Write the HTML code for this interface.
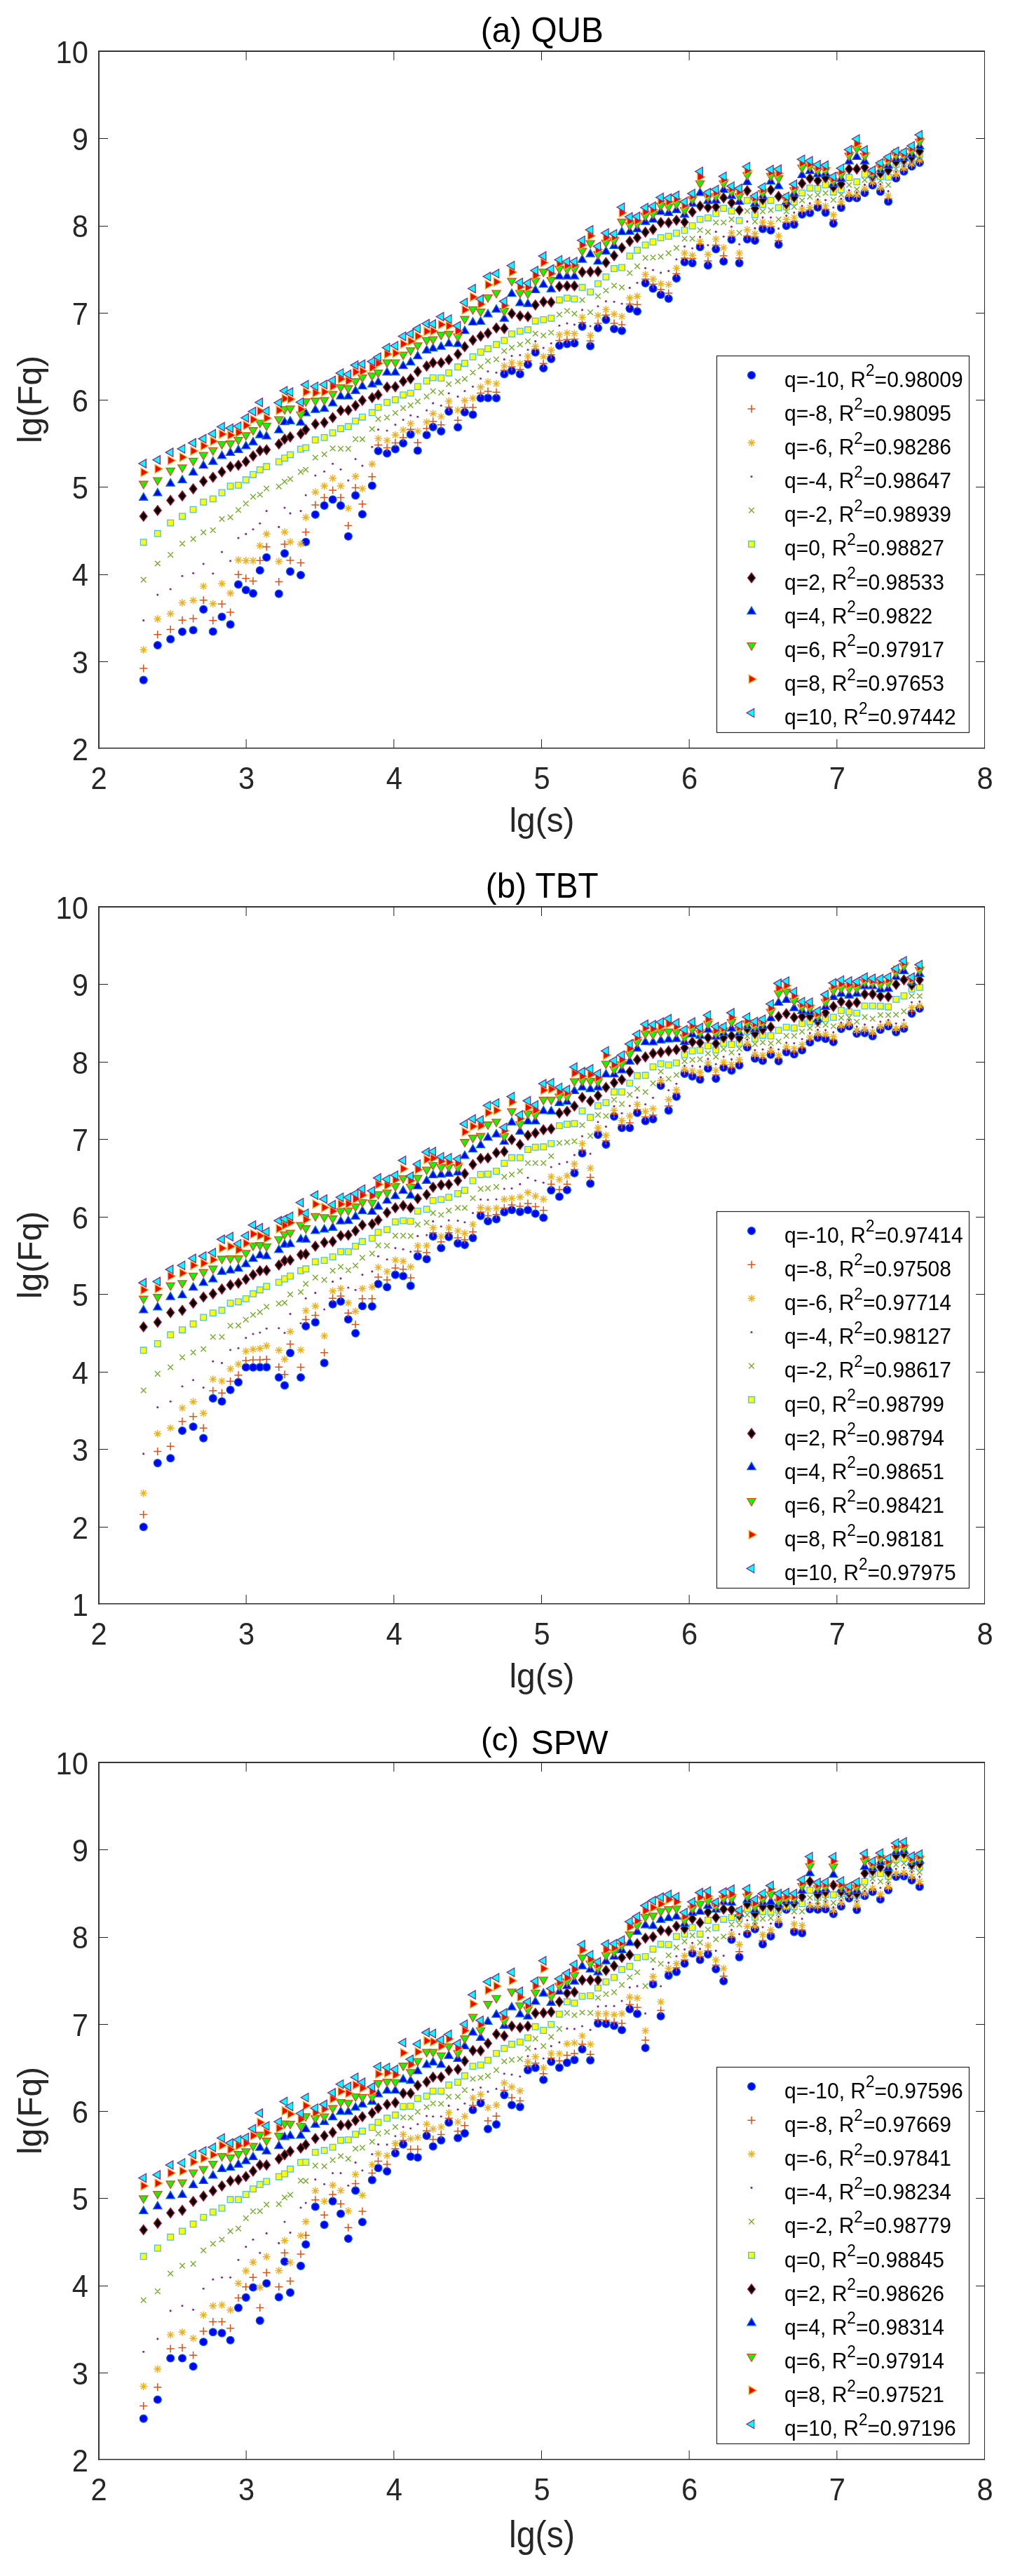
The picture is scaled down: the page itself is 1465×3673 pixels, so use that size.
<!DOCTYPE html><html><head><meta charset="utf-8"><title>MF-DFA scaling plots</title><style>html,body{margin:0;padding:0;background:#fff}svg{display:block;will-change:transform}</style></head><body><svg width="1465" height="3673" viewBox="0 0 1465 3673" font-family='"Liberation Sans", Arial, Helvetica, sans-serif'><rect width="1465" height="3673" fill="#fff"/><g><g fill="#0000ff" stroke="#0060d8" stroke-width="1.2"><circle cx="204.7" cy="969.6" r="5.45"/><circle cx="224.8" cy="920" r="5.45"/><circle cx="243.2" cy="911.4" r="5.45"/><circle cx="260" cy="900.8" r="5.45"/><circle cx="275.6" cy="898.5" r="5.45"/><circle cx="290.2" cy="868.9" r="5.45"/><circle cx="303.8" cy="900.5" r="5.45"/><circle cx="316.5" cy="879.5" r="5.45"/><circle cx="328.6" cy="890.4" r="5.45"/><circle cx="340" cy="833.4" r="5.45"/><circle cx="350.8" cy="841.3" r="5.45"/><circle cx="361" cy="846.1" r="5.45"/><circle cx="370.8" cy="813.2" r="5.45"/><circle cx="380.2" cy="794.7" r="5.45"/><circle cx="397.8" cy="846.6" r="5.45"/><circle cx="406" cy="789.1" r="5.45"/><circle cx="414" cy="814.9" r="5.45"/><circle cx="429" cy="820" r="5.45"/><circle cx="436.2" cy="772.7" r="5.45"/><circle cx="449.8" cy="733.7" r="5.45"/><circle cx="462.6" cy="720.9" r="5.45"/><circle cx="474.6" cy="712.2" r="5.45"/><circle cx="486" cy="720.9" r="5.45"/><circle cx="496.8" cy="764.8" r="5.45"/><circle cx="507.1" cy="706.4" r="5.45"/><circle cx="516.9" cy="733.2" r="5.45"/><circle cx="530.8" cy="692.5" r="5.45"/><circle cx="539.5" cy="643" r="5.45"/><circle cx="552.1" cy="646.5" r="5.45"/><circle cx="563.9" cy="640.4" r="5.45"/><circle cx="575.1" cy="632" r="5.45"/><circle cx="585.7" cy="619.4" r="5.45"/><circle cx="595.8" cy="642.5" r="5.45"/><circle cx="608.6" cy="620.2" r="5.45"/><circle cx="617.7" cy="608.9" r="5.45"/><circle cx="629.2" cy="614.9" r="5.45"/><circle cx="640.2" cy="586.8" r="5.45"/><circle cx="653.1" cy="609.2" r="5.45"/><circle cx="662.9" cy="587.8" r="5.45"/><circle cx="674.5" cy="591.2" r="5.45"/><circle cx="685.6" cy="567.7" r="5.45"/><circle cx="696" cy="567.4" r="5.45"/><circle cx="708" cy="567.6" r="5.45"/><circle cx="719.3" cy="533.4" r="5.45"/><circle cx="730" cy="528.7" r="5.45"/><circle cx="741.8" cy="533.4" r="5.45"/><circle cx="753" cy="519.7" r="5.45"/><circle cx="763.7" cy="502.4" r="5.45"/><circle cx="775.2" cy="525" r="5.45"/><circle cx="786.2" cy="511.8" r="5.45"/><circle cx="797.9" cy="492.7" r="5.45"/><circle cx="808.9" cy="490.5" r="5.45"/><circle cx="819.4" cy="489.5" r="5.45"/><circle cx="830.5" cy="465.6" r="5.45"/><circle cx="842.1" cy="493.4" r="5.45"/><circle cx="853" cy="467.7" r="5.45"/><circle cx="864.4" cy="455.9" r="5.45"/><circle cx="876" cy="469" r="5.45"/><circle cx="887" cy="471.6" r="5.45"/><circle cx="898.3" cy="440.1" r="5.45"/><circle cx="909" cy="444" r="5.45"/><circle cx="920.6" cy="403.8" r="5.45"/><circle cx="931.5" cy="411.5" r="5.45"/><circle cx="942.6" cy="420.2" r="5.45"/><circle cx="953.7" cy="425.8" r="5.45"/><circle cx="964.9" cy="396.9" r="5.45"/><circle cx="976.5" cy="373.7" r="5.45"/><circle cx="987.6" cy="375.1" r="5.45"/><circle cx="998.6" cy="352.2" r="5.45"/><circle cx="1009.9" cy="378.5" r="5.45"/><circle cx="1021.2" cy="355.3" r="5.45"/><circle cx="1032.2" cy="372.7" r="5.45"/><circle cx="1043.5" cy="341.7" r="5.45"/><circle cx="1054.6" cy="375.1" r="5.45"/><circle cx="1065.9" cy="341.1" r="5.45"/><circle cx="1076.9" cy="343" r="5.45"/><circle cx="1088" cy="326.4" r="5.45"/><circle cx="1099.5" cy="328.5" r="5.45"/><circle cx="1110.6" cy="348.8" r="5.45"/><circle cx="1121.7" cy="322" r="5.45"/><circle cx="1132.8" cy="320.1" r="5.45"/><circle cx="1144.1" cy="305.7" r="5.45"/><circle cx="1155.3" cy="303.6" r="5.45"/><circle cx="1166.5" cy="295.7" r="5.45"/><circle cx="1177.6" cy="303.1" r="5.45"/><circle cx="1188.8" cy="318.8" r="5.45"/><circle cx="1199.9" cy="296.1" r="5.45"/><circle cx="1211.2" cy="282.4" r="5.45"/><circle cx="1222.2" cy="282.4" r="5.45"/><circle cx="1233.5" cy="275" r="5.45"/><circle cx="1244.7" cy="264.2" r="5.45"/><circle cx="1255.9" cy="273.3" r="5.45"/><circle cx="1267.1" cy="287.4" r="5.45"/><circle cx="1278.2" cy="254.3" r="5.45"/><circle cx="1289.4" cy="244.4" r="5.45"/><circle cx="1300.6" cy="237.2" r="5.45"/><circle cx="1311.8" cy="231.9" r="5.45"/></g><path fill="none" stroke="#d95319" stroke-width="1.5" d="M199.2 952.9h11M204.7 947.4v11M219.3 904.8h11M224.8 899.3v11M237.7 897.5h11M243.2 892v11M254.5 884.3h11M260 878.8v11M270.1 882h11M275.6 876.5v11M284.7 855.7h11M290.2 850.2v11M298.3 884.8h11M303.8 879.3v11M311 861.3h11M316.5 855.8v11M323.1 872.9h11M328.6 867.4v11M334.5 819.2h11M340 813.7v11M345.3 824.8h11M350.8 819.3v11M355.5 828.4h11M361 822.9v11M365.3 799.2h11M370.8 793.7v11M374.7 779.7h11M380.2 774.2v11M392.3 829.4h11M397.8 823.9v11M400.5 775.9h11M406 770.4v11M408.5 799h11M414 793.5v11M423.5 802.5h11M429 797v11M430.7 758.7h11M436.2 753.2v11M444.3 720.1h11M449.8 714.6v11M457.1 709.6h11M462.6 704.1v11M469.1 699h11M474.6 693.5v11M480.5 709.6h11M486 704.1v11M491.3 749.5h11M496.8 744v11M501.6 695.6h11M507.1 690.1v11M511.4 718.8h11M516.9 713.3v11M525.3 679.8h11M530.8 674.3v11M534 634.6h11M539.5 629.1v11M546.6 638.6h11M552.1 633.1v11M558.4 631.5h11M563.9 626v11M569.6 624.1h11M575.1 618.6v11M580.2 612.3h11M585.7 606.8v11M590.3 631.2h11M595.8 625.7v11M603.1 611h11M608.6 605.5v11M612.2 601h11M617.7 595.5v11M623.7 605.7h11M629.2 600.2v11M634.7 580.5h11M640.2 575v11M647.6 599.3h11M653.1 593.8v11M657.4 580.9h11M662.9 575.4v11M669 580.9h11M674.5 575.4v11M680.1 560.5h11M685.6 555v11M690.5 557.9h11M696 552.4v11M702.5 559.2h11M708 553.7v11M713.8 528.1h11M719.3 522.6v11M724.5 522.9h11M730 517.4v11M736.3 526.8h11M741.8 521.3v11M747.5 514.2h11M753 508.7v11M758.2 497.9h11M763.7 492.4v11M769.7 518.2h11M775.2 512.7v11M780.7 505.8h11M786.2 500.3v11M792.4 485.5h11M797.9 480v11M803.4 484h11M808.9 478.5v11M813.9 483.4h11M819.4 477.9v11M825 459.8h11M830.5 454.3v11M836.6 486.1h11M842.1 480.6v11M847.5 461.1h11M853 455.6v11M858.9 449.3h11M864.4 443.8v11M870.5 461.1h11M876 455.6v11M881.5 462.9h11M887 457.4v11M892.8 433.5h11M898.3 428v11M903.5 434.3h11M909 428.8v11M915.1 398h11M920.6 392.5v11M926 405.3h11M931.5 399.8v11M937.1 412.8h11M942.6 407.3v11M948.2 417.9h11M953.7 412.4v11M959.4 390.3h11M964.9 384.8v11M971 368h11M976.5 362.5v11M982.1 368.8h11M987.6 363.3v11M993.1 348.2h11M998.6 342.7v11M1004.4 371.9h11M1009.9 366.4v11M1015.7 349.6h11M1021.2 344.1v11M1026.7 364.8h11M1032.2 359.3v11M1038 337.2h11M1043.5 331.7v11M1049.1 368h11M1054.6 362.5v11M1060.4 336.4h11M1065.9 330.9v11M1071.4 337.7h11M1076.9 332.2v11M1082.5 322h11M1088 316.5v11M1094 323.3h11M1099.5 317.8v11M1105.1 343h11M1110.6 337.5v11M1116.2 317.2h11M1121.7 311.7v11M1127.3 315.4h11M1132.8 309.9v11M1138.6 301.4h11M1144.1 295.9v11M1149.8 299.6h11M1155.3 294.1v11M1161 291.7h11M1166.5 286.2v11M1172.1 298.6h11M1177.6 293.1v11M1183.3 313.3h11M1188.8 307.8v11M1194.4 292h11M1199.9 286.5v11M1205.7 280h11M1211.2 274.5v11M1216.7 280h11M1222.2 274.5v11M1228 271.7h11M1233.5 266.2v11M1239.2 261.7h11M1244.7 256.2v11M1250.4 270h11M1255.9 264.5v11M1261.6 283.3h11M1267.1 277.8v11M1272.7 251.3h11M1278.2 245.8v11M1283.9 241.9h11M1289.4 236.4v11M1295.1 235.2h11M1300.6 229.7v11M1306.3 230h11M1311.8 224.5v11"/><path fill="none" stroke="#edb120" stroke-width="1.4" d="M199.3 926.6h10.8M204.7 921.2v10.8M200.8 922.7l7.8 7.8M200.8 930.5l7.8-7.8M219.4 882.5h10.8M224.8 877.1v10.8M220.9 878.6l7.8 7.8M220.9 886.4l7.8-7.8M237.8 875.2h10.8M243.2 869.8v10.8M239.3 871.3l7.8 7.8M239.3 879.1l7.8-7.8M254.6 859.5h10.8M260 854.1v10.8M256.1 855.6l7.8 7.8M256.1 863.4l7.8-7.8M270.2 856.2h10.8M275.6 850.8v10.8M271.7 852.3l7.8 7.8M271.7 860.1l7.8-7.8M284.8 835.9h10.8M290.2 830.5v10.8M286.3 832l7.8 7.8M286.3 839.8l7.8-7.8M298.4 860.8h10.8M303.8 855.4v10.8M299.9 856.9l7.8 7.8M299.9 864.7l7.8-7.8M311.1 832.2h10.8M316.5 826.8v10.8M312.6 828.3l7.8 7.8M312.6 836.1l7.8-7.8M323.2 845.8h10.8M328.6 840.4v10.8M324.7 841.9l7.8 7.8M324.7 849.7l7.8-7.8M334.6 798.5h10.8M340 793.1v10.8M336.1 794.6l7.8 7.8M336.1 802.4l7.8-7.8M345.4 799.5h10.8M350.8 794.1v10.8M346.9 795.6l7.8 7.8M346.9 803.4l7.8-7.8M355.6 799.5h10.8M361 794.1v10.8M357.1 795.6l7.8 7.8M357.1 803.4l7.8-7.8M365.4 778.2h10.8M370.8 772.8v10.8M366.9 774.3l7.8 7.8M366.9 782.1l7.8-7.8M374.8 761.3h10.8M380.2 755.9v10.8M376.3 757.4l7.8 7.8M376.3 765.2l7.8-7.8M392.4 800.5h10.8M397.8 795.1v10.8M393.9 796.6l7.8 7.8M393.9 804.4l7.8-7.8M400.6 758.7h10.8M406 753.3v10.8M402.1 754.8l7.8 7.8M402.1 762.6l7.8-7.8M408.6 772.7h10.8M414 767.3v10.8M410.1 768.8l7.8 7.8M410.1 776.6l7.8-7.8M423.6 775.7h10.8M429 770.3v10.8M425.1 771.8l7.8 7.8M425.1 779.6l7.8-7.8M430.8 737.7h10.8M436.2 732.3v10.8M432.3 733.8l7.8 7.8M432.3 741.6l7.8-7.8M444.4 701.7h10.8M449.8 696.3v10.8M445.9 697.8l7.8 7.8M445.9 705.6l7.8-7.8M457.2 693h10.8M462.6 687.6v10.8M458.7 689.1l7.8 7.8M458.7 696.9l7.8-7.8M469.2 682h10.8M474.6 676.6v10.8M470.7 678.1l7.8 7.8M470.7 685.9l7.8-7.8M480.6 693h10.8M486 687.6v10.8M482.1 689.1l7.8 7.8M482.1 696.9l7.8-7.8M491.4 724.8h10.8M496.8 719.4v10.8M492.9 720.9l7.8 7.8M492.9 728.7l7.8-7.8M501.7 679.3h10.8M507.1 673.9v10.8M503.2 675.4l7.8 7.8M503.2 683.2l7.8-7.8M511.5 696.9h10.8M516.9 691.5v10.8M513 693l7.8 7.8M513 700.8l7.8-7.8M525.4 661.7h10.8M530.8 656.3v10.8M526.9 657.8l7.8 7.8M526.9 665.6l7.8-7.8M534.1 625.4h10.8M539.5 620v10.8M535.6 621.5l7.8 7.8M535.6 629.3l7.8-7.8M546.7 628.1h10.8M552.1 622.7v10.8M548.2 624.2l7.8 7.8M548.2 632l7.8-7.8M558.5 620.2h10.8M563.9 614.8v10.8M560 616.3l7.8 7.8M560 624.1l7.8-7.8M569.7 613.1h10.8M575.1 607.7v10.8M571.2 609.2l7.8 7.8M571.2 617l7.8-7.8M580.3 603.9h10.8M585.7 598.5v10.8M581.8 600l7.8 7.8M581.8 607.8l7.8-7.8M590.4 614.9h10.8M595.8 609.5v10.8M591.9 611l7.8 7.8M591.9 618.8l7.8-7.8M603.2 601.8h10.8M608.6 596.4v10.8M604.7 597.9l7.8 7.8M604.7 605.7l7.8-7.8M612.3 589.7h10.8M617.7 584.3v10.8M613.8 585.8l7.8 7.8M613.8 593.6l7.8-7.8M623.8 594.1h10.8M629.2 588.7v10.8M625.3 590.2l7.8 7.8M625.3 598l7.8-7.8M634.8 572h10.8M640.2 566.6v10.8M636.3 568.1l7.8 7.8M636.3 575.9l7.8-7.8M647.7 584.9h10.8M653.1 579.5v10.8M649.2 581l7.8 7.8M649.2 588.8l7.8-7.8M657.5 571.2h10.8M662.9 565.8v10.8M659 567.3l7.8 7.8M659 575.1l7.8-7.8M669.1 567.8h10.8M674.5 562.4v10.8M670.6 563.9l7.8 7.8M670.6 571.7l7.8-7.8M680.2 551.8h10.8M685.6 546.4v10.8M681.7 547.9l7.8 7.8M681.7 555.7l7.8-7.8M690.6 544.6h10.8M696 539.2v10.8M692.1 540.7l7.8 7.8M692.1 548.5l7.8-7.8M702.6 547.1h10.8M708 541.7v10.8M704.1 543.2l7.8 7.8M704.1 551l7.8-7.8M713.9 521.6h10.8M719.3 516.2v10.8M715.4 517.7l7.8 7.8M715.4 525.5l7.8-7.8M724.6 517.1h10.8M730 511.7v10.8M726.1 513.2l7.8 7.8M726.1 521l7.8-7.8M736.4 518.4h10.8M741.8 513v10.8M737.9 514.5l7.8 7.8M737.9 522.3l7.8-7.8M747.6 507.9h10.8M753 502.5v10.8M749.1 504l7.8 7.8M749.1 511.8l7.8-7.8M758.3 494h10.8M763.7 488.6v10.8M759.8 490.1l7.8 7.8M759.8 497.9l7.8-7.8M769.8 508.4h10.8M775.2 503v10.8M771.3 504.5l7.8 7.8M771.3 512.3l7.8-7.8M780.8 499.2h10.8M786.2 493.8v10.8M782.3 495.3l7.8 7.8M782.3 503.1l7.8-7.8M792.5 477.4h10.8M797.9 472v10.8M794 473.5l7.8 7.8M794 481.3l7.8-7.8M803.5 475h10.8M808.9 469.6v10.8M805 471.1l7.8 7.8M805 478.9l7.8-7.8M814 475.6h10.8M819.4 470.2v10.8M815.5 471.7l7.8 7.8M815.5 479.5l7.8-7.8M825.1 452.4h10.8M830.5 447v10.8M826.6 448.5l7.8 7.8M826.6 456.3l7.8-7.8M836.7 478.2h10.8M842.1 472.8v10.8M838.2 474.3l7.8 7.8M838.2 482.1l7.8-7.8M847.6 449.8h10.8M853 444.4v10.8M849.1 445.9l7.8 7.8M849.1 453.7l7.8-7.8M859 441.4h10.8M864.4 436v10.8M860.5 437.5l7.8 7.8M860.5 445.3l7.8-7.8M870.6 448h10.8M876 442.6v10.8M872.1 444.1l7.8 7.8M872.1 451.9l7.8-7.8M881.6 451.4h10.8M887 446v10.8M883.1 447.5l7.8 7.8M883.1 455.3l7.8-7.8M892.9 424.8h10.8M898.3 419.4v10.8M894.4 420.9l7.8 7.8M894.4 428.7l7.8-7.8M903.6 422.5h10.8M909 417.1v10.8M905.1 418.6l7.8 7.8M905.1 426.4l7.8-7.8M915.2 391.4h10.8M920.6 386v10.8M916.7 387.5l7.8 7.8M916.7 395.3l7.8-7.8M926.1 398h10.8M931.5 392.6v10.8M927.6 394.1l7.8 7.8M927.6 401.9l7.8-7.8M937.2 404.7h10.8M942.6 399.3v10.8M938.7 400.8l7.8 7.8M938.7 408.6l7.8-7.8M948.3 405.6h10.8M953.7 400.2v10.8M949.8 401.7l7.8 7.8M949.8 409.5l7.8-7.8M959.5 382.4h10.8M964.9 377v10.8M961 378.5l7.8 7.8M961 386.3l7.8-7.8M971.1 360.9h10.8M976.5 355.5v10.8M972.6 357l7.8 7.8M972.6 364.8l7.8-7.8M982.2 364h10.8M987.6 358.6v10.8M983.7 360.1l7.8 7.8M983.7 367.9l7.8-7.8M993.2 344.3h10.8M998.6 338.9v10.8M994.7 340.4l7.8 7.8M994.7 348.2l7.8-7.8M1004.5 362.7h10.8M1009.9 357.3v10.8M1006 358.8l7.8 7.8M1006 366.6l7.8-7.8M1015.8 340.9h10.8M1021.2 335.5v10.8M1017.3 337l7.8 7.8M1017.3 344.8l7.8-7.8M1026.8 353.5h10.8M1032.2 348.1v10.8M1028.3 349.6l7.8 7.8M1028.3 357.4l7.8-7.8M1038.1 331.9h10.8M1043.5 326.5v10.8M1039.6 328l7.8 7.8M1039.6 335.8l7.8-7.8M1049.2 360.9h10.8M1054.6 355.5v10.8M1050.7 357l7.8 7.8M1050.7 364.8l7.8-7.8M1060.5 327.7h10.8M1065.9 322.3v10.8M1062 323.8l7.8 7.8M1062 331.6l7.8-7.8M1071.5 333.3h10.8M1076.9 327.9v10.8M1073 329.4l7.8 7.8M1073 337.2l7.8-7.8M1082.6 316.7h10.8M1088 311.3v10.8M1084.1 312.8l7.8 7.8M1084.1 320.6l7.8-7.8M1094.1 318.5h10.8M1099.5 313.1v10.8M1095.6 314.6l7.8 7.8M1095.6 322.4l7.8-7.8M1105.2 336.4h10.8M1110.6 331v10.8M1106.7 332.5l7.8 7.8M1106.7 340.3l7.8-7.8M1116.3 312.8h10.8M1121.7 307.4v10.8M1117.8 308.9l7.8 7.8M1117.8 316.7l7.8-7.8M1127.4 310.1h10.8M1132.8 304.7v10.8M1128.9 306.2l7.8 7.8M1128.9 314l7.8-7.8M1138.7 298.3h10.8M1144.1 292.9v10.8M1140.2 294.4l7.8 7.8M1140.2 302.2l7.8-7.8M1149.9 295.7h10.8M1155.3 290.3v10.8M1151.4 291.8l7.8 7.8M1151.4 299.6l7.8-7.8M1161.1 288.3h10.8M1166.5 282.9v10.8M1162.6 284.4l7.8 7.8M1162.6 292.2l7.8-7.8M1172.2 293.6h10.8M1177.6 288.2v10.8M1173.7 289.7l7.8 7.8M1173.7 297.5l7.8-7.8M1183.4 306.3h10.8M1188.8 300.9v10.8M1184.9 302.4l7.8 7.8M1184.9 310.2l7.8-7.8M1194.5 288h10.8M1199.9 282.6v10.8M1196 284.1l7.8 7.8M1196 291.9l7.8-7.8M1205.8 276.6h10.8M1211.2 271.2v10.8M1207.3 272.7l7.8 7.8M1207.3 280.5l7.8-7.8M1216.8 277.8h10.8M1222.2 272.4v10.8M1218.3 273.9l7.8 7.8M1218.3 281.7l7.8-7.8M1228.1 268.9h10.8M1233.5 263.5v10.8M1229.6 265l7.8 7.8M1229.6 272.8l7.8-7.8M1239.3 260.1h10.8M1244.7 254.7v10.8M1240.8 256.2l7.8 7.8M1240.8 264l7.8-7.8M1250.5 267.5h10.8M1255.9 262.1v10.8M1252 263.6l7.8 7.8M1252 271.4l7.8-7.8M1261.7 279.1h10.8M1267.1 273.7v10.8M1263.2 275.2l7.8 7.8M1263.2 283l7.8-7.8M1272.8 248.8h10.8M1278.2 243.4v10.8M1274.3 244.9l7.8 7.8M1274.3 252.7l7.8-7.8M1284 240.2h10.8M1289.4 234.8v10.8M1285.5 236.3l7.8 7.8M1285.5 244.1l7.8-7.8M1295.2 233.9h10.8M1300.6 228.5v10.8M1296.7 230l7.8 7.8M1296.7 237.8l7.8-7.8M1306.4 228.6h10.8M1311.8 223.2v10.8M1307.9 224.7l7.8 7.8M1307.9 232.5l7.8-7.8"/><g fill="#7e2f8e"><circle cx="204.7" cy="884.6" r="1.55"/><circle cx="224.8" cy="848.1" r="1.55"/><circle cx="243.2" cy="840" r="1.55"/><circle cx="260" cy="821.3" r="1.55"/><circle cx="275.6" cy="817.2" r="1.55"/><circle cx="290.2" cy="804" r="1.55"/><circle cx="303.8" cy="817.7" r="1.55"/><circle cx="316.5" cy="787.1" r="1.55"/><circle cx="328.6" cy="799.8" r="1.55"/><circle cx="340" cy="767.1" r="1.55"/><circle cx="350.8" cy="761.4" r="1.55"/><circle cx="361" cy="754.7" r="1.55"/><circle cx="370.8" cy="746.3" r="1.55"/><circle cx="380.2" cy="728.6" r="1.55"/><circle cx="397.8" cy="751.4" r="1.55"/><circle cx="406" cy="724" r="1.55"/><circle cx="414" cy="731.9" r="1.55"/><circle cx="429" cy="728.6" r="1.55"/><circle cx="436.2" cy="706" r="1.55"/><circle cx="449.8" cy="678" r="1.55"/><circle cx="462.6" cy="672.2" r="1.55"/><circle cx="474.6" cy="661.2" r="1.55"/><circle cx="486" cy="669.3" r="1.55"/><circle cx="496.8" cy="685.1" r="1.55"/><circle cx="507.1" cy="654.6" r="1.55"/><circle cx="516.9" cy="664.1" r="1.55"/><circle cx="530.8" cy="637.3" r="1.55"/><circle cx="539.5" cy="612.5" r="1.55"/><circle cx="552.1" cy="614" r="1.55"/><circle cx="563.9" cy="605.6" r="1.55"/><circle cx="575.1" cy="598.5" r="1.55"/><circle cx="585.7" cy="592.2" r="1.55"/><circle cx="595.8" cy="594.3" r="1.55"/><circle cx="608.6" cy="585.1" r="1.55"/><circle cx="617.7" cy="574.9" r="1.55"/><circle cx="629.2" cy="578.3" r="1.55"/><circle cx="640.2" cy="560.7" r="1.55"/><circle cx="653.1" cy="565.4" r="1.55"/><circle cx="662.9" cy="557.5" r="1.55"/><circle cx="674.5" cy="551.2" r="1.55"/><circle cx="685.6" cy="539.7" r="1.55"/><circle cx="696" cy="529.6" r="1.55"/><circle cx="708" cy="531.3" r="1.55"/><circle cx="719.3" cy="512.4" r="1.55"/><circle cx="730" cy="507.6" r="1.55"/><circle cx="741.8" cy="506.3" r="1.55"/><circle cx="753" cy="498.7" r="1.55"/><circle cx="763.7" cy="486.6" r="1.55"/><circle cx="775.2" cy="496.1" r="1.55"/><circle cx="786.2" cy="489.5" r="1.55"/><circle cx="797.9" cy="464.3" r="1.55"/><circle cx="808.9" cy="461.1" r="1.55"/><circle cx="819.4" cy="462.9" r="1.55"/><circle cx="830.5" cy="441.9" r="1.55"/><circle cx="842.1" cy="465" r="1.55"/><circle cx="853" cy="436.7" r="1.55"/><circle cx="864.4" cy="429.6" r="1.55"/><circle cx="876" cy="430.3" r="1.55"/><circle cx="887" cy="433" r="1.55"/><circle cx="898.3" cy="410.4" r="1.55"/><circle cx="909" cy="403.3" r="1.55"/><circle cx="920.6" cy="382.2" r="1.55"/><circle cx="931.5" cy="385" r="1.55"/><circle cx="942.6" cy="388.9" r="1.55"/><circle cx="953.7" cy="386.4" r="1.55"/><circle cx="964.9" cy="369.8" r="1.55"/><circle cx="976.5" cy="351.4" r="1.55"/><circle cx="987.6" cy="354" r="1.55"/><circle cx="998.6" cy="337.7" r="1.55"/><circle cx="1009.9" cy="349.6" r="1.55"/><circle cx="1021.2" cy="330.4" r="1.55"/><circle cx="1032.2" cy="337.2" r="1.55"/><circle cx="1043.5" cy="323.3" r="1.55"/><circle cx="1054.6" cy="348.2" r="1.55"/><circle cx="1065.9" cy="315.9" r="1.55"/><circle cx="1076.9" cy="325.4" r="1.55"/><circle cx="1088" cy="310.1" r="1.55"/><circle cx="1099.5" cy="310.1" r="1.55"/><circle cx="1110.6" cy="325.9" r="1.55"/><circle cx="1121.7" cy="307.5" r="1.55"/><circle cx="1132.8" cy="303" r="1.55"/><circle cx="1144.1" cy="293.6" r="1.55"/><circle cx="1155.3" cy="289.9" r="1.55"/><circle cx="1166.5" cy="284.4" r="1.55"/><circle cx="1177.6" cy="285.3" r="1.55"/><circle cx="1188.8" cy="295.9" r="1.55"/><circle cx="1199.9" cy="283.4" r="1.55"/><circle cx="1211.2" cy="271.2" r="1.55"/><circle cx="1222.2" cy="274.5" r="1.55"/><circle cx="1233.5" cy="263.4" r="1.55"/><circle cx="1244.7" cy="257.3" r="1.55"/><circle cx="1255.9" cy="262.6" r="1.55"/><circle cx="1267.1" cy="272.5" r="1.55"/><circle cx="1278.2" cy="244.7" r="1.55"/><circle cx="1289.4" cy="236.9" r="1.55"/><circle cx="1300.6" cy="231.1" r="1.55"/><circle cx="1311.8" cy="225.3" r="1.55"/></g><path fill="none" stroke="#77ac30" stroke-width="1.4" d="M200.9 822.8l7.6 7.6M200.9 830.4l7.6-7.6M221 799.7l7.6 7.6M221 807.3l7.6-7.6M239.4 787.3l7.6 7.6M239.4 794.9l7.6-7.6M256.2 771.3l7.6 7.6M256.2 778.9l7.6-7.6M271.8 764.7l7.6 7.6M271.8 772.3l7.6-7.6M286.4 755.3l7.6 7.6M286.4 762.9l7.6-7.6M300 752.2l7.6 7.6M300 759.8l7.6-7.6M312.7 736.2l7.6 7.6M312.7 743.8l7.6-7.6M324.8 733.7l7.6 7.6M324.8 741.3l7.6-7.6M336.2 723.5l7.6 7.6M336.2 731.1l7.6-7.6M347 714.2l7.6 7.6M347 721.8l7.6-7.6M357.2 704.6l7.6 7.6M357.2 712.2l7.6-7.6M367 701.5l7.6 7.6M367 709.1l7.6-7.6M376.4 692.7l7.6 7.6M376.4 700.3l7.6-7.6M394 689.9l7.6 7.6M394 697.5l7.6-7.6M402.2 683l7.6 7.6M402.2 690.6l7.6-7.6M410.2 679.2l7.6 7.6M410.2 686.8l7.6-7.6M425.2 669.1l7.6 7.6M425.2 676.7l7.6-7.6M432.4 665.9l7.6 7.6M432.4 673.5l7.6-7.6M446 648.7l7.6 7.6M446 656.3l7.6-7.6M458.8 644l7.6 7.6M458.8 651.6l7.6-7.6M470.8 635.6l7.6 7.6M470.8 643.2l7.6-7.6M482.2 636.1l7.6 7.6M482.2 643.7l7.6-7.6M493 636.1l7.6 7.6M493 643.7l7.6-7.6M503.3 622.3l7.6 7.6M503.3 629.9l7.6-7.6M513.1 622.5l7.6 7.6M513.1 630.1l7.6-7.6M527 607.9l7.6 7.6M527 615.5l7.6-7.6M535.7 593.7l7.6 7.6M535.7 601.3l7.6-7.6M548.3 591.6l7.6 7.6M548.3 599.2l7.6-7.6M560.1 585l7.6 7.6M560.1 592.6l7.6-7.6M571.3 578.2l7.6 7.6M571.3 585.8l7.6-7.6M581.9 574.1l7.6 7.6M581.9 581.7l7.6-7.6M592 568.6l7.6 7.6M592 576.2l7.6-7.6M604.8 561.6l7.6 7.6M604.8 569.2l7.6-7.6M613.9 553.9l7.6 7.6M613.9 561.5l7.6-7.6M625.4 556.1l7.6 7.6M625.4 563.7l7.6-7.6M636.4 543.9l7.6 7.6M636.4 551.5l7.6-7.6M649.3 539.9l7.6 7.6M649.3 547.5l7.6-7.6M659.1 536.4l7.6 7.6M659.1 544l7.6-7.6M670.7 527.4l7.6 7.6M670.7 535l7.6-7.6M681.8 518.9l7.6 7.6M681.8 526.5l7.6-7.6M692.2 511l7.6 7.6M692.2 518.6l7.6-7.6M704.2 508.6l7.6 7.6M704.2 516.2l7.6-7.6M715.5 496.7l7.6 7.6M715.5 504.3l7.6-7.6M726.2 492l7.6 7.6M726.2 499.6l7.6-7.6M738 487.5l7.6 7.6M738 495.1l7.6-7.6M749.2 482.8l7.6 7.6M749.2 490.4l7.6-7.6M759.9 471.8l7.6 7.6M759.9 479.4l7.6-7.6M771.4 474.4l7.6 7.6M771.4 482l7.6-7.6M782.4 470.5l7.6 7.6M782.4 478.1l7.6-7.6M794.1 444.7l7.6 7.6M794.1 452.3l7.6-7.6M805.1 439.4l7.6 7.6M805.1 447l7.6-7.6M815.6 443.4l7.6 7.6M815.6 451l7.6-7.6M826.7 423.9l7.6 7.6M826.7 431.5l7.6-7.6M838.3 441.5l7.6 7.6M838.3 449.1l7.6-7.6M849.2 418.4l7.6 7.6M849.2 426l7.6-7.6M860.6 410.5l7.6 7.6M860.6 418.1l7.6-7.6M872.2 403.4l7.6 7.6M872.2 411l7.6-7.6M883.2 406l7.6 7.6M883.2 413.6l7.6-7.6M894.5 385.5l7.6 7.6M894.5 393.1l7.6-7.6M905.2 375.8l7.6 7.6M905.2 383.4l7.6-7.6M916.8 364l7.6 7.6M916.8 371.6l7.6-7.6M927.7 363.3l7.6 7.6M927.7 370.9l7.6-7.6M938.8 362.1l7.6 7.6M938.8 369.7l7.6-7.6M949.9 357.1l7.6 7.6M949.9 364.7l7.6-7.6M961.1 349.7l7.6 7.6M961.1 357.3l7.6-7.6M972.7 336.6l7.6 7.6M972.7 344.2l7.6-7.6M983.8 336.6l7.6 7.6M983.8 344.2l7.6-7.6M994.8 324.2l7.6 7.6M994.8 331.8l7.6-7.6M1006.1 326.8l7.6 7.6M1006.1 334.4l7.6-7.6M1017.4 313.4l7.6 7.6M1017.4 321l7.6-7.6M1028.4 313.4l7.6 7.6M1028.4 321l7.6-7.6M1039.7 309l7.6 7.6M1039.7 316.6l7.6-7.6M1050.8 328.1l7.6 7.6M1050.8 335.7l7.6-7.6M1062.1 297.1l7.6 7.6M1062.1 304.7l7.6-7.6M1073.1 312.1l7.6 7.6M1073.1 319.7l7.6-7.6M1084.2 297.6l7.6 7.6M1084.2 305.2l7.6-7.6M1095.7 295.8l7.6 7.6M1095.7 303.4l7.6-7.6M1106.8 309l7.6 7.6M1106.8 316.6l7.6-7.6M1117.9 297.6l7.6 7.6M1117.9 305.2l7.6-7.6M1129 291.1l7.6 7.6M1129 298.7l7.6-7.6M1140.3 281.9l7.6 7.6M1140.3 289.5l7.6-7.6M1151.5 276.6l7.6 7.6M1151.5 284.2l7.6-7.6M1162.7 274l7.6 7.6M1162.7 281.6l7.6-7.6M1173.8 271.4l7.6 7.6M1173.8 279l7.6-7.6M1185 281.2l7.6 7.6M1185 288.8l7.6-7.6M1196.1 273.8l7.6 7.6M1196.1 281.4l7.6-7.6M1207.4 259.9l7.6 7.6M1207.4 267.5l7.6-7.6M1218.4 266.2l7.6 7.6M1218.4 273.8l7.6-7.6M1229.7 253l7.6 7.6M1229.7 260.6l7.6-7.6M1240.9 250.5l7.6 7.6M1240.9 258.1l7.6-7.6M1252.1 253.8l7.6 7.6M1252.1 261.4l7.6-7.6M1263.3 259.9l7.6 7.6M1263.3 267.5l7.6-7.6M1274.4 236.9l7.6 7.6M1274.4 244.5l7.6-7.6M1285.6 229.8l7.6 7.6M1285.6 237.4l7.6-7.6M1296.8 224l7.6 7.6M1296.8 231.6l7.6-7.6M1308 219l7.6 7.6M1308 226.6l7.6-7.6"/><g fill="#ffff00" stroke="#4dbeee" stroke-width="1.3"><path d="M200.4 768.9h8.6v8.6h-8.6z"/><path d="M220.5 756.5h8.6v8.6h-8.6z"/><path d="M238.9 741.3h8.6v8.6h-8.6z"/><path d="M255.7 731.9h8.6v8.6h-8.6z"/><path d="M271.3 722.3h8.6v8.6h-8.6z"/><path d="M285.9 711.6h8.6v8.6h-8.6z"/><path d="M299.5 707.1h8.6v8.6h-8.6z"/><path d="M312.2 698.2h8.6v8.6h-8.6z"/><path d="M324.3 688.9h8.6v8.6h-8.6z"/><path d="M335.7 687.6h8.6v8.6h-8.6z"/><path d="M346.5 680h8.6v8.6h-8.6z"/><path d="M356.7 672.4h8.6v8.6h-8.6z"/><path d="M366.5 665.6h8.6v8.6h-8.6z"/><path d="M375.9 661h8.6v8.6h-8.6z"/><path d="M393.5 654.2h8.6v8.6h-8.6z"/><path d="M401.7 648.9h8.6v8.6h-8.6z"/><path d="M409.7 644.1h8.6v8.6h-8.6z"/><path d="M424.7 636.2h8.6v8.6h-8.6z"/><path d="M431.9 634.1h8.6v8.6h-8.6z"/><path d="M445.5 623h8.6v8.6h-8.6z"/><path d="M458.3 619.6h8.6v8.6h-8.6z"/><path d="M470.3 612.9h8.6v8.6h-8.6z"/><path d="M481.7 606.9h8.6v8.6h-8.6z"/><path d="M492.5 604h8.6v8.6h-8.6z"/><path d="M502.8 596.1h8.6v8.6h-8.6z"/><path d="M512.6 590.4h8.6v8.6h-8.6z"/><path d="M526.5 584h8.6v8.6h-8.6z"/><path d="M535.2 576.6h8.6v8.6h-8.6z"/><path d="M547.8 569.5h8.6v8.6h-8.6z"/><path d="M559.6 565.7h8.6v8.6h-8.6z"/><path d="M570.8 558.9h8.6v8.6h-8.6z"/><path d="M581.4 556.3h8.6v8.6h-8.6z"/><path d="M591.5 546.9h8.6v8.6h-8.6z"/><path d="M604.3 539h8.6v8.6h-8.6z"/><path d="M613.4 534.3h8.6v8.6h-8.6z"/><path d="M624.9 534.7h8.6v8.6h-8.6z"/><path d="M635.9 527.4h8.6v8.6h-8.6z"/><path d="M648.8 519h8.6v8.6h-8.6z"/><path d="M658.6 513.7h8.6v8.6h-8.6z"/><path d="M670.2 504.5h8.6v8.6h-8.6z"/><path d="M681.3 497.7h8.6v8.6h-8.6z"/><path d="M691.7 492.9h8.6v8.6h-8.6z"/><path d="M703.7 487h8.6v8.6h-8.6z"/><path d="M715 481.2h8.6v8.6h-8.6z"/><path d="M725.7 471.8h8.6v8.6h-8.6z"/><path d="M737.5 468.1h8.6v8.6h-8.6z"/><path d="M748.7 466h8.6v8.6h-8.6z"/><path d="M759.4 453.4h8.6v8.6h-8.6z"/><path d="M770.9 451.6h8.6v8.6h-8.6z"/><path d="M781.9 449.4h8.6v8.6h-8.6z"/><path d="M793.6 423.4h8.6v8.6h-8.6z"/><path d="M804.6 420.8h8.6v8.6h-8.6z"/><path d="M815.1 422.1h8.6v8.6h-8.6z"/><path d="M826.2 405.5h8.6v8.6h-8.6z"/><path d="M837.8 412.1h8.6v8.6h-8.6z"/><path d="M848.7 400.3h8.6v8.6h-8.6z"/><path d="M860.1 390.6h8.6v8.6h-8.6z"/><path d="M871.7 378.7h8.6v8.6h-8.6z"/><path d="M882.7 377.2h8.6v8.6h-8.6z"/><path d="M894 360.8h8.6v8.6h-8.6z"/><path d="M904.7 352.4h8.6v8.6h-8.6z"/><path d="M916.3 345.1h8.6v8.6h-8.6z"/><path d="M927.2 340.7h8.6v8.6h-8.6z"/><path d="M938.3 334.7h8.6v8.6h-8.6z"/><path d="M949.4 332.6h8.6v8.6h-8.6z"/><path d="M960.6 328.2h8.6v8.6h-8.6z"/><path d="M972.2 324.2h8.6v8.6h-8.6z"/><path d="M983.3 317.7h8.6v8.6h-8.6z"/><path d="M994.3 308.5h8.6v8.6h-8.6z"/><path d="M1005.6 306.4h8.6v8.6h-8.6z"/><path d="M1016.9 300h8.6v8.6h-8.6z"/><path d="M1027.9 292.7h8.6v8.6h-8.6z"/><path d="M1039.2 296.6h8.6v8.6h-8.6z"/><path d="M1050.3 310.3h8.6v8.6h-8.6z"/><path d="M1061.6 281.6h8.6v8.6h-8.6z"/><path d="M1072.6 301.9h8.6v8.6h-8.6z"/><path d="M1083.7 287.4h8.6v8.6h-8.6z"/><path d="M1095.2 281.4h8.6v8.6h-8.6z"/><path d="M1106.3 291.9h8.6v8.6h-8.6z"/><path d="M1117.4 290.6h8.6v8.6h-8.6z"/><path d="M1128.5 283.5h8.6v8.6h-8.6z"/><path d="M1139.8 270.9h8.6v8.6h-8.6z"/><path d="M1151 263.8h8.6v8.6h-8.6z"/><path d="M1162.2 264.3h8.6v8.6h-8.6z"/><path d="M1173.3 259.2h8.6v8.6h-8.6z"/><path d="M1184.5 269.4h8.6v8.6h-8.6z"/><path d="M1195.6 266.1h8.6v8.6h-8.6z"/><path d="M1206.9 248.7h8.6v8.6h-8.6z"/><path d="M1217.9 255h8.6v8.6h-8.6z"/><path d="M1229.2 244.2h8.6v8.6h-8.6z"/><path d="M1240.4 248h8.6v8.6h-8.6z"/><path d="M1251.6 247.5h8.6v8.6h-8.6z"/><path d="M1262.8 248.3h8.6v8.6h-8.6z"/><path d="M1273.9 230.1h8.6v8.6h-8.6z"/><path d="M1285.1 225.2h8.6v8.6h-8.6z"/><path d="M1296.3 221h8.6v8.6h-8.6z"/><path d="M1307.5 215.2h8.6v8.6h-8.6z"/></g><g fill="#000" stroke="#a2142f" stroke-width="1.3"><path d="M204.7 729.1l5.4 7.1-5.4 7.1-5.4-7.1z"/><path d="M224.8 720.7l5.4 7.1-5.4 7.1-5.4-7.1z"/><path d="M243.2 706.3l5.4 7.1-5.4 7.1-5.4-7.1z"/><path d="M260 700l5.4 7.1-5.4 7.1-5.4-7.1z"/><path d="M275.6 689.9l5.4 7.1-5.4 7.1-5.4-7.1z"/><path d="M290.2 679.2l5.4 7.1-5.4 7.1-5.4-7.1z"/><path d="M303.8 673.4l5.4 7.1-5.4 7.1-5.4-7.1z"/><path d="M316.5 665.8l5.4 7.1-5.4 7.1-5.4-7.1z"/><path d="M328.6 658.2l5.4 7.1-5.4 7.1-5.4-7.1z"/><path d="M340 656.2l5.4 7.1-5.4 7.1-5.4-7.1z"/><path d="M350.8 651.1l5.4 7.1-5.4 7.1-5.4-7.1z"/><path d="M361 643l5.4 7.1-5.4 7.1-5.4-7.1z"/><path d="M370.8 635.4l5.4 7.1-5.4 7.1-5.4-7.1z"/><path d="M380.2 634.2l5.4 7.1-5.4 7.1-5.4-7.1z"/><path d="M397.8 626.1l5.4 7.1-5.4 7.1-5.4-7.1z"/><path d="M406 619l5.4 7.1-5.4 7.1-5.4-7.1z"/><path d="M414 615.9l5.4 7.1-5.4 7.1-5.4-7.1z"/><path d="M429 611.4l5.4 7.1-5.4 7.1-5.4-7.1z"/><path d="M436.2 605.4l5.4 7.1-5.4 7.1-5.4-7.1z"/><path d="M449.8 597.5l5.4 7.1-5.4 7.1-5.4-7.1z"/><path d="M462.6 595.4l5.4 7.1-5.4 7.1-5.4-7.1z"/><path d="M474.6 588.3l5.4 7.1-5.4 7.1-5.4-7.1z"/><path d="M486 578.3l5.4 7.1-5.4 7.1-5.4-7.1z"/><path d="M496.8 577.8l5.4 7.1-5.4 7.1-5.4-7.1z"/><path d="M507.1 571.2l5.4 7.1-5.4 7.1-5.4-7.1z"/><path d="M516.9 564l5.4 7.1-5.4 7.1-5.4-7.1z"/><path d="M530.8 560l5.4 7.1-5.4 7.1-5.4-7.1z"/><path d="M539.5 555.8l5.4 7.1-5.4 7.1-5.4-7.1z"/><path d="M552.1 544.9l5.4 7.1-5.4 7.1-5.4-7.1z"/><path d="M563.9 544.4l5.4 7.1-5.4 7.1-5.4-7.1z"/><path d="M575.1 536.6l5.4 7.1-5.4 7.1-5.4-7.1z"/><path d="M585.7 533.1l5.4 7.1-5.4 7.1-5.4-7.1z"/><path d="M595.8 522.7l5.4 7.1-5.4 7.1-5.4-7.1z"/><path d="M608.6 514.9l5.4 7.1-5.4 7.1-5.4-7.1z"/><path d="M617.7 510.1l5.4 7.1-5.4 7.1-5.4-7.1z"/><path d="M629.2 510.1l5.4 7.1-5.4 7.1-5.4-7.1z"/><path d="M640.2 505.7l5.4 7.1-5.4 7.1-5.4-7.1z"/><path d="M653.1 497.8l5.4 7.1-5.4 7.1-5.4-7.1z"/><path d="M662.9 487.3l5.4 7.1-5.4 7.1-5.4-7.1z"/><path d="M674.5 478l5.4 7.1-5.4 7.1-5.4-7.1z"/><path d="M685.6 472.2l5.4 7.1-5.4 7.1-5.4-7.1z"/><path d="M696 468l5.4 7.1-5.4 7.1-5.4-7.1z"/><path d="M708 460.6l5.4 7.1-5.4 7.1-5.4-7.1z"/><path d="M719.3 461.4l5.4 7.1-5.4 7.1-5.4-7.1z"/><path d="M730 440.1l5.4 7.1-5.4 7.1-5.4-7.1z"/><path d="M741.8 443.5l5.4 7.1-5.4 7.1-5.4-7.1z"/><path d="M753 444.3l5.4 7.1-5.4 7.1-5.4-7.1z"/><path d="M763.7 427.7l5.4 7.1-5.4 7.1-5.4-7.1z"/><path d="M775.2 423.2l5.4 7.1-5.4 7.1-5.4-7.1z"/><path d="M786.2 423.8l5.4 7.1-5.4 7.1-5.4-7.1z"/><path d="M797.9 401.4l5.4 7.1-5.4 7.1-5.4-7.1z"/><path d="M808.9 400.6l5.4 7.1-5.4 7.1-5.4-7.1z"/><path d="M819.4 400.6l5.4 7.1-5.4 7.1-5.4-7.1z"/><path d="M830.5 380.9l5.4 7.1-5.4 7.1-5.4-7.1z"/><path d="M842.1 380.4l5.4 7.1-5.4 7.1-5.4-7.1z"/><path d="M853 379.9l5.4 7.1-5.4 7.1-5.4-7.1z"/><path d="M864.4 367.3l5.4 7.1-5.4 7.1-5.4-7.1z"/><path d="M876 357.5l5.4 7.1-5.4 7.1-5.4-7.1z"/><path d="M887 346.2l5.4 7.1-5.4 7.1-5.4-7.1z"/><path d="M898.3 337l5.4 7.1-5.4 7.1-5.4-7.1z"/><path d="M909 331.8l5.4 7.1-5.4 7.1-5.4-7.1z"/><path d="M920.6 323.9l5.4 7.1-5.4 7.1-5.4-7.1z"/><path d="M931.5 320l5.4 7.1-5.4 7.1-5.4-7.1z"/><path d="M942.6 310.2l5.4 7.1-5.4 7.1-5.4-7.1z"/><path d="M953.7 310.4l5.4 7.1-5.4 7.1-5.4-7.1z"/><path d="M964.9 307l5.4 7.1-5.4 7.1-5.4-7.1z"/><path d="M976.5 309.6l5.4 7.1-5.4 7.1-5.4-7.1z"/><path d="M987.6 295.1l5.4 7.1-5.4 7.1-5.4-7.1z"/><path d="M998.6 286.7l5.4 7.1-5.4 7.1-5.4-7.1z"/><path d="M1009.9 288.6l5.4 7.1-5.4 7.1-5.4-7.1z"/><path d="M1021.2 287.8l5.4 7.1-5.4 7.1-5.4-7.1z"/><path d="M1032.2 274.9l5.4 7.1-5.4 7.1-5.4-7.1z"/><path d="M1043.5 282l5.4 7.1-5.4 7.1-5.4-7.1z"/><path d="M1054.6 292.5l5.4 7.1-5.4 7.1-5.4-7.1z"/><path d="M1065.9 264.9l5.4 7.1-5.4 7.1-5.4-7.1z"/><path d="M1076.9 289.9l5.4 7.1-5.4 7.1-5.4-7.1z"/><path d="M1088 277.5l5.4 7.1-5.4 7.1-5.4-7.1z"/><path d="M1099.5 263.6l5.4 7.1-5.4 7.1-5.4-7.1z"/><path d="M1110.6 272.8l5.4 7.1-5.4 7.1-5.4-7.1z"/><path d="M1121.7 283.8l5.4 7.1-5.4 7.1-5.4-7.1z"/><path d="M1132.8 274.1l5.4 7.1-5.4 7.1-5.4-7.1z"/><path d="M1144.1 254.4l5.4 7.1-5.4 7.1-5.4-7.1z"/><path d="M1155.3 247.3l5.4 7.1-5.4 7.1-5.4-7.1z"/><path d="M1166.5 250.4l5.4 7.1-5.4 7.1-5.4-7.1z"/><path d="M1177.6 246.4l5.4 7.1-5.4 7.1-5.4-7.1z"/><path d="M1188.8 259.6l5.4 7.1-5.4 7.1-5.4-7.1z"/><path d="M1199.9 255.2l5.4 7.1-5.4 7.1-5.4-7.1z"/><path d="M1211.2 233.9l5.4 7.1-5.4 7.1-5.4-7.1z"/><path d="M1222.2 233.9l5.4 7.1-5.4 7.1-5.4-7.1z"/><path d="M1233.5 231.5l5.4 7.1-5.4 7.1-5.4-7.1z"/><path d="M1244.7 243.9l5.4 7.1-5.4 7.1-5.4-7.1z"/><path d="M1255.9 239.7l5.4 7.1-5.4 7.1-5.4-7.1z"/><path d="M1267.1 235.6l5.4 7.1-5.4 7.1-5.4-7.1z"/><path d="M1278.2 223.2l5.4 7.1-5.4 7.1-5.4-7.1z"/><path d="M1289.4 220.7l5.4 7.1-5.4 7.1-5.4-7.1z"/><path d="M1300.6 216.6l5.4 7.1-5.4 7.1-5.4-7.1z"/><path d="M1311.8 208.3l5.4 7.1-5.4 7.1-5.4-7.1z"/></g><g fill="#0000ff" stroke="#0072bd" stroke-width="1.3"><path d="M204.7 702.7l6.1 10.55h-12.2z"/><path d="M224.8 696.4l6.1 10.55h-12.2z"/><path d="M243.2 682.5l6.1 10.55h-12.2z"/><path d="M260 677.9l6.1 10.55h-12.2z"/><path d="M275.6 666.8l6.1 10.55h-12.2z"/><path d="M290.2 657.1l6.1 10.55h-12.2z"/><path d="M303.8 651.6l6.1 10.55h-12.2z"/><path d="M316.5 643.2l6.1 10.55h-12.2z"/><path d="M328.6 638.9l6.1 10.55h-12.2z"/><path d="M340 634.9l6.1 10.55h-12.2z"/><path d="M350.8 629.3l6.1 10.55h-12.2z"/><path d="M361 623.7l6.1 10.55h-12.2z"/><path d="M370.8 613.6l6.1 10.55h-12.2z"/><path d="M380.2 615.4l6.1 10.55h-12.2z"/><path d="M397.8 606.5l6.1 10.55h-12.2z"/><path d="M406 595.1l6.1 10.55h-12.2z"/><path d="M414 593.9l6.1 10.55h-12.2z"/><path d="M429 595.6l6.1 10.55h-12.2z"/><path d="M436.2 582.3l6.1 10.55h-12.2z"/><path d="M449.8 577.6l6.1 10.55h-12.2z"/><path d="M462.6 576l6.1 10.55h-12.2z"/><path d="M474.6 568.2l6.1 10.55h-12.2z"/><path d="M486 558.4l6.1 10.55h-12.2z"/><path d="M496.8 558.4l6.1 10.55h-12.2z"/><path d="M507.1 550.6l6.1 10.55h-12.2z"/><path d="M516.9 544l6.1 10.55h-12.2z"/><path d="M530.8 541.3l6.1 10.55h-12.2z"/><path d="M539.5 538.2l6.1 10.55h-12.2z"/><path d="M552.1 524.3l6.1 10.55h-12.2z"/><path d="M563.9 524.3l6.1 10.55h-12.2z"/><path d="M575.1 515.1l6.1 10.55h-12.2z"/><path d="M585.7 509.8l6.1 10.55h-12.2z"/><path d="M595.8 501.1l6.1 10.55h-12.2z"/><path d="M608.6 492.7l6.1 10.55h-12.2z"/><path d="M617.7 490.1l6.1 10.55h-12.2z"/><path d="M629.2 487.5l6.1 10.55h-12.2z"/><path d="M640.2 483l6.1 10.55h-12.2z"/><path d="M653.1 483.5l6.1 10.55h-12.2z"/><path d="M662.9 465.1l6.1 10.55h-12.2z"/><path d="M674.5 452.8l6.1 10.55h-12.2z"/><path d="M685.6 451.8l6.1 10.55h-12.2z"/><path d="M696 441.3l6.1 10.55h-12.2z"/><path d="M708 434.5l6.1 10.55h-12.2z"/><path d="M719.3 447.6l6.1 10.55h-12.2z"/><path d="M730 412.1l6.1 10.55h-12.2z"/><path d="M741.8 425.3l6.1 10.55h-12.2z"/><path d="M753 426.6l6.1 10.55h-12.2z"/><path d="M763.7 406.9l6.1 10.55h-12.2z"/><path d="M775.2 399l6.1 10.55h-12.2z"/><path d="M786.2 405.6l6.1 10.55h-12.2z"/><path d="M797.9 387.2l6.1 10.55h-12.2z"/><path d="M808.9 387.2l6.1 10.55h-12.2z"/><path d="M819.4 387.2l6.1 10.55h-12.2z"/><path d="M830.5 363.5l6.1 10.55h-12.2z"/><path d="M842.1 355.6l6.1 10.55h-12.2z"/><path d="M853 366.1l6.1 10.55h-12.2z"/><path d="M864.4 351.7l6.1 10.55h-12.2z"/><path d="M876 343.8l6.1 10.55h-12.2z"/><path d="M887 324.1l6.1 10.55h-12.2z"/><path d="M898.3 323.5l6.1 10.55h-12.2z"/><path d="M909 320.1l6.1 10.55h-12.2z"/><path d="M920.6 309.6l6.1 10.55h-12.2z"/><path d="M931.5 306.4l6.1 10.55h-12.2z"/><path d="M942.6 295.3l6.1 10.55h-12.2z"/><path d="M953.7 296.7l6.1 10.55h-12.2z"/><path d="M964.9 292.7l6.1 10.55h-12.2z"/><path d="M976.5 299.3l6.1 10.55h-12.2z"/><path d="M987.6 283.5l6.1 10.55h-12.2z"/><path d="M998.6 268.3l6.1 10.55h-12.2z"/><path d="M1009.9 279.6l6.1 10.55h-12.2z"/><path d="M1021.2 279l6.1 10.55h-12.2z"/><path d="M1032.2 263.8l6.1 10.55h-12.2z"/><path d="M1043.5 272.5l6.1 10.55h-12.2z"/><path d="M1054.6 280.9l6.1 10.55h-12.2z"/><path d="M1065.9 252.7l6.1 10.55h-12.2z"/><path d="M1076.9 283.5l6.1 10.55h-12.2z"/><path d="M1088 272.5l6.1 10.55h-12.2z"/><path d="M1099.5 252l6.1 10.55h-12.2z"/><path d="M1110.6 258.5l6.1 10.55h-12.2z"/><path d="M1121.7 280.9l6.1 10.55h-12.2z"/><path d="M1132.8 269l6.1 10.55h-12.2z"/><path d="M1144.1 242.8l6.1 10.55h-12.2z"/><path d="M1155.3 237l6.1 10.55h-12.2z"/><path d="M1166.5 241.5l6.1 10.55h-12.2z"/><path d="M1177.6 240.4l6.1 10.55h-12.2z"/><path d="M1188.8 255.4l6.1 10.55h-12.2z"/><path d="M1199.9 248.4l6.1 10.55h-12.2z"/><path d="M1211.2 223.4l6.1 10.55h-12.2z"/><path d="M1222.2 216.8l6.1 10.55h-12.2z"/><path d="M1233.5 223.4l6.1 10.55h-12.2z"/><path d="M1244.7 242.4l6.1 10.55h-12.2z"/><path d="M1255.9 235.8l6.1 10.55h-12.2z"/><path d="M1267.1 229.2l6.1 10.55h-12.2z"/><path d="M1278.2 219.3l6.1 10.55h-12.2z"/><path d="M1289.4 218.4l6.1 10.55h-12.2z"/><path d="M1300.6 213.4l6.1 10.55h-12.2z"/><path d="M1311.8 201.9l6.1 10.55h-12.2z"/></g><g fill="#00ff00" stroke="#d95319" stroke-width="1.3"><path d="M204.7 696.8l6.1-10.55h-12.2z"/><path d="M224.8 691.7l6.1-10.55h-12.2z"/><path d="M243.2 678l6.1-10.55h-12.2z"/><path d="M260 673.5l6.1-10.55h-12.2z"/><path d="M275.6 663.9l6.1-10.55h-12.2z"/><path d="M290.2 655.8l6.1-10.55h-12.2z"/><path d="M303.8 648.9l6.1-10.55h-12.2z"/><path d="M316.5 640.1l6.1-10.55h-12.2z"/><path d="M328.6 639.3l6.1-10.55h-12.2z"/><path d="M340 634.2l6.1-10.55h-12.2z"/><path d="M350.8 627.4l6.1-10.55h-12.2z"/><path d="M361 620.3l6.1-10.55h-12.2z"/><path d="M370.8 609.7l6.1-10.55h-12.2z"/><path d="M380.2 614l6.1-10.55h-12.2z"/><path d="M397.8 604.6l6.1-10.55h-12.2z"/><path d="M406 590.4l6.1-10.55h-12.2z"/><path d="M414 589.4l6.1-10.55h-12.2z"/><path d="M429 598l6.1-10.55h-12.2z"/><path d="M436.2 579.3l6.1-10.55h-12.2z"/><path d="M449.8 578.3l6.1-10.55h-12.2z"/><path d="M462.6 577.5l6.1-10.55h-12.2z"/><path d="M474.6 568.8l6.1-10.55h-12.2z"/><path d="M486 559.1l6.1-10.55h-12.2z"/><path d="M496.8 560.4l6.1-10.55h-12.2z"/><path d="M507.1 550.4l6.1-10.55h-12.2z"/><path d="M516.9 545.2l6.1-10.55h-12.2z"/><path d="M530.8 542.5l6.1-10.55h-12.2z"/><path d="M539.5 538.1l6.1-10.55h-12.2z"/><path d="M552.1 523.6l6.1-10.55h-12.2z"/><path d="M563.9 523.6l6.1-10.55h-12.2z"/><path d="M575.1 512.6l6.1-10.55h-12.2z"/><path d="M585.7 506.5l6.1-10.55h-12.2z"/><path d="M595.8 499.4l6.1-10.55h-12.2z"/><path d="M608.6 492l6.1-10.55h-12.2z"/><path d="M617.7 490.7l6.1-10.55h-12.2z"/><path d="M629.2 484.2l6.1-10.55h-12.2z"/><path d="M640.2 482.9l6.1-10.55h-12.2z"/><path d="M653.1 486.8l6.1-10.55h-12.2z"/><path d="M662.9 461.8l6.1-10.55h-12.2z"/><path d="M674.5 447.9l6.1-10.55h-12.2z"/><path d="M685.6 451.1l6.1-10.55h-12.2z"/><path d="M696 431l6.1-10.55h-12.2z"/><path d="M708 424.6l6.1-10.55h-12.2z"/><path d="M719.3 450.1l6.1-10.55h-12.2z"/><path d="M730 407.5l6.1-10.55h-12.2z"/><path d="M741.8 424.6l6.1-10.55h-12.2z"/><path d="M753 425.4l6.1-10.55h-12.2z"/><path d="M763.7 407.5l6.1-10.55h-12.2z"/><path d="M775.2 394.4l6.1-10.55h-12.2z"/><path d="M786.2 406.2l6.1-10.55h-12.2z"/><path d="M797.9 389.9l6.1-10.55h-12.2z"/><path d="M808.9 391l6.1-10.55h-12.2z"/><path d="M819.4 390.5l6.1-10.55h-12.2z"/><path d="M830.5 364.7l6.1-10.55h-12.2z"/><path d="M842.1 353.6l6.1-10.55h-12.2z"/><path d="M853 369.4l6.1-10.55h-12.2z"/><path d="M864.4 352.9l6.1-10.55h-12.2z"/><path d="M876 350.2l6.1-10.55h-12.2z"/><path d="M887 322.9l6.1-10.55h-12.2z"/><path d="M898.3 327.9l6.1-10.55h-12.2z"/><path d="M909 326.1l6.1-10.55h-12.2z"/><path d="M920.6 314.7l6.1-10.55h-12.2z"/><path d="M931.5 311.9l6.1-10.55h-12.2z"/><path d="M942.6 300.1l6.1-10.55h-12.2z"/><path d="M953.7 301.8l6.1-10.55h-12.2z"/><path d="M964.9 297.8l6.1-10.55h-12.2z"/><path d="M976.5 306.5l6.1-10.55h-12.2z"/><path d="M987.6 291.3l6.1-10.55h-12.2z"/><path d="M998.6 268.4l6.1-10.55h-12.2z"/><path d="M1009.9 288.1l6.1-10.55h-12.2z"/><path d="M1021.2 286.8l6.1-10.55h-12.2z"/><path d="M1032.2 268.4l6.1-10.55h-12.2z"/><path d="M1043.5 280.2l6.1-10.55h-12.2z"/><path d="M1054.6 286.8l6.1-10.55h-12.2z"/><path d="M1065.9 256.6l6.1-10.55h-12.2z"/><path d="M1076.9 292.6l6.1-10.55h-12.2z"/><path d="M1088 282.1l6.1-10.55h-12.2z"/><path d="M1099.5 257.9l6.1-10.55h-12.2z"/><path d="M1110.6 261.3l6.1-10.55h-12.2z"/><path d="M1121.7 292.1l6.1-10.55h-12.2z"/><path d="M1132.8 278.1l6.1-10.55h-12.2z"/><path d="M1144.1 246l6.1-10.55h-12.2z"/><path d="M1155.3 244.7l6.1-10.55h-12.2z"/><path d="M1166.5 250l6.1-10.55h-12.2z"/><path d="M1177.6 249.8l6.1-10.55h-12.2z"/><path d="M1188.8 265.3l6.1-10.55h-12.2z"/><path d="M1199.9 256.2l6.1-10.55h-12.2z"/><path d="M1211.2 228.9l6.1-10.55h-12.2z"/><path d="M1222.2 219l6.1-10.55h-12.2z"/><path d="M1233.5 229.2l6.1-10.55h-12.2z"/><path d="M1244.7 254.6l6.1-10.55h-12.2z"/><path d="M1255.9 245.5l6.1-10.55h-12.2z"/><path d="M1267.1 237.5l6.1-10.55h-12.2z"/><path d="M1278.2 228.4l6.1-10.55h-12.2z"/><path d="M1289.4 229.2l6.1-10.55h-12.2z"/><path d="M1300.6 222.3l6.1-10.55h-12.2z"/><path d="M1311.8 209l6.1-10.55h-12.2z"/></g><g fill="#ff0000" stroke="#edb120" stroke-width="1.3"><path d="M211.6 673.4l-10.55 6.1v-12.2z"/><path d="M231.7 668.6l-10.55 6.1v-12.2z"/><path d="M250.1 656.5l-10.55 6.1v-12.2z"/><path d="M266.9 651.9l-10.55 6.1v-12.2z"/><path d="M282.5 643l-10.55 6.1v-12.2z"/><path d="M297.1 635.7l-10.55 6.1v-12.2z"/><path d="M310.7 629.1l-10.55 6.1v-12.2z"/><path d="M323.4 619l-10.55 6.1v-12.2z"/><path d="M335.5 620.5l-10.55 6.1v-12.2z"/><path d="M346.9 616.7l-10.55 6.1v-12.2z"/><path d="M357.7 606.6l-10.55 6.1v-12.2z"/><path d="M367.9 598.2l-10.55 6.1v-12.2z"/><path d="M377.7 586.1l-10.55 6.1v-12.2z"/><path d="M387.1 596.2l-10.55 6.1v-12.2z"/><path d="M404.7 585.1l-10.55 6.1v-12.2z"/><path d="M412.9 568.4l-10.55 6.1v-12.2z"/><path d="M420.9 569.1l-10.55 6.1v-12.2z"/><path d="M435.9 583.5l-10.55 6.1v-12.2z"/><path d="M443.1 558.9l-10.55 6.1v-12.2z"/><path d="M456.7 560.1l-10.55 6.1v-12.2z"/><path d="M469.5 558.8l-10.55 6.1v-12.2z"/><path d="M481.5 550.9l-10.55 6.1v-12.2z"/><path d="M492.9 540.4l-10.55 6.1v-12.2z"/><path d="M503.7 543l-10.55 6.1v-12.2z"/><path d="M514 530.4l-10.55 6.1v-12.2z"/><path d="M523.8 529.3l-10.55 6.1v-12.2z"/><path d="M537.7 524.1l-10.55 6.1v-12.2z"/><path d="M546.4 518l-10.55 6.1v-12.2z"/><path d="M559 504.9l-10.55 6.1v-12.2z"/><path d="M570.8 503.6l-10.55 6.1v-12.2z"/><path d="M582 490.4l-10.55 6.1v-12.2z"/><path d="M592.6 486.5l-10.55 6.1v-12.2z"/><path d="M602.7 479.4l-10.55 6.1v-12.2z"/><path d="M615.5 472.5l-10.55 6.1v-12.2z"/><path d="M624.6 472l-10.55 6.1v-12.2z"/><path d="M636.1 462.8l-10.55 6.1v-12.2z"/><path d="M647.1 464.6l-10.55 6.1v-12.2z"/><path d="M660 472l-10.55 6.1v-12.2z"/><path d="M669.8 441.8l-10.55 6.1v-12.2z"/><path d="M681.4 423.4l-10.55 6.1v-12.2z"/><path d="M692.5 433.7l-10.55 6.1v-12.2z"/><path d="M702.9 406.1l-10.55 6.1v-12.2z"/><path d="M714.9 402l-10.55 6.1v-12.2z"/><path d="M726.2 435.6l-10.55 6.1v-12.2z"/><path d="M736.9 388l-10.55 6.1v-12.2z"/><path d="M748.7 409.3l-10.55 6.1v-12.2z"/><path d="M759.9 409.8l-10.55 6.1v-12.2z"/><path d="M770.6 392.8l-10.55 6.1v-12.2z"/><path d="M782.1 374.4l-10.55 6.1v-12.2z"/><path d="M793.1 390.1l-10.55 6.1v-12.2z"/><path d="M804.8 375.7l-10.55 6.1v-12.2z"/><path d="M815.8 378.3l-10.55 6.1v-12.2z"/><path d="M826.3 377.8l-10.55 6.1v-12.2z"/><path d="M837.4 349.4l-10.55 6.1v-12.2z"/><path d="M849 336.2l-10.55 6.1v-12.2z"/><path d="M859.9 356l-10.55 6.1v-12.2z"/><path d="M871.3 338.9l-10.55 6.1v-12.2z"/><path d="M882.9 338.3l-10.55 6.1v-12.2z"/><path d="M893.9 303.4l-10.55 6.1v-12.2z"/><path d="M905.2 315.2l-10.55 6.1v-12.2z"/><path d="M915.9 314.7l-10.55 6.1v-12.2z"/><path d="M927.5 302.1l-10.55 6.1v-12.2z"/><path d="M938.4 299.1l-10.55 6.1v-12.2z"/><path d="M949.5 286.4l-10.55 6.1v-12.2z"/><path d="M960.6 287.8l-10.55 6.1v-12.2z"/><path d="M971.8 283.8l-10.55 6.1v-12.2z"/><path d="M983.4 293l-10.55 6.1v-12.2z"/><path d="M994.5 279.9l-10.55 6.1v-12.2z"/><path d="M1005.5 252.3l-10.55 6.1v-12.2z"/><path d="M1016.8 277.8l-10.55 6.1v-12.2z"/><path d="M1028.1 274.6l-10.55 6.1v-12.2z"/><path d="M1039.1 256.2l-10.55 6.1v-12.2z"/><path d="M1050.4 269.4l-10.55 6.1v-12.2z"/><path d="M1061.5 273.3l-10.55 6.1v-12.2z"/><path d="M1072.8 243.1l-10.55 6.1v-12.2z"/><path d="M1083.8 282.5l-10.55 6.1v-12.2z"/><path d="M1094.9 270.7l-10.55 6.1v-12.2z"/><path d="M1106.4 245.7l-10.55 6.1v-12.2z"/><path d="M1117.5 247l-10.55 6.1v-12.2z"/><path d="M1128.6 282.5l-10.55 6.1v-12.2z"/><path d="M1139.7 266.8l-10.55 6.1v-12.2z"/><path d="M1151 232.6l-10.55 6.1v-12.2z"/><path d="M1162.2 233.9l-10.55 6.1v-12.2z"/><path d="M1173.4 239.1l-10.55 6.1v-12.2z"/><path d="M1184.5 239.5l-10.55 6.1v-12.2z"/><path d="M1195.7 255l-10.55 6.1v-12.2z"/><path d="M1206.8 244.6l-10.55 6.1v-12.2z"/><path d="M1218.1 217.4l-10.55 6.1v-12.2z"/><path d="M1229.1 204.6l-10.55 6.1v-12.2z"/><path d="M1240.4 217.9l-10.55 6.1v-12.2z"/><path d="M1251.6 245.5l-10.55 6.1v-12.2z"/><path d="M1262.8 235.2l-10.55 6.1v-12.2z"/><path d="M1274 227l-10.55 6.1v-12.2z"/><path d="M1285.1 218.2l-10.55 6.1v-12.2z"/><path d="M1296.3 219.5l-10.55 6.1v-12.2z"/><path d="M1307.5 211.6l-10.55 6.1v-12.2z"/><path d="M1318.7 197.2l-10.55 6.1v-12.2z"/></g><g fill="#00ffff" stroke="#7e2f8e" stroke-width="1.3"><path d="M197.8 661l10.55 6.1v-12.2z"/><path d="M217.9 655.7l10.55 6.1v-12.2z"/><path d="M236.3 645.1l10.55 6.1v-12.2z"/><path d="M253.1 640l10.55 6.1v-12.2z"/><path d="M268.7 631.6l10.55 6.1v-12.2z"/><path d="M283.3 625.6l10.55 6.1v-12.2z"/><path d="M296.9 618.5l10.55 6.1v-12.2z"/><path d="M309.6 608.4l10.55 6.1v-12.2z"/><path d="M321.7 610.4l10.55 6.1v-12.2z"/><path d="M333.1 607.8l10.55 6.1v-12.2z"/><path d="M343.9 595.7l10.55 6.1v-12.2z"/><path d="M354.1 586.8l10.55 6.1v-12.2z"/><path d="M363.9 573.7l10.55 6.1v-12.2z"/><path d="M373.3 586.1l10.55 6.1v-12.2z"/><path d="M390.9 574.2l10.55 6.1v-12.2z"/><path d="M399.1 557.2l10.55 6.1v-12.2z"/><path d="M407.1 559l10.55 6.1v-12.2z"/><path d="M422.1 573.4l10.55 6.1v-12.2z"/><path d="M429.3 548.6l10.55 6.1v-12.2z"/><path d="M442.9 550.9l10.55 6.1v-12.2z"/><path d="M455.7 548.2l10.55 6.1v-12.2z"/><path d="M467.7 542.5l10.55 6.1v-12.2z"/><path d="M479.1 531.9l10.55 6.1v-12.2z"/><path d="M489.9 533.8l10.55 6.1v-12.2z"/><path d="M500.2 520.6l10.55 6.1v-12.2z"/><path d="M510 519.3l10.55 6.1v-12.2z"/><path d="M523.9 515.4l10.55 6.1v-12.2z"/><path d="M532.6 509.3l10.55 6.1v-12.2z"/><path d="M545.2 495.7l10.55 6.1v-12.2z"/><path d="M557 493l10.55 6.1v-12.2z"/><path d="M568.2 479.4l10.55 6.1v-12.2z"/><path d="M578.8 476l10.55 6.1v-12.2z"/><path d="M588.9 468.6l10.55 6.1v-12.2z"/><path d="M601.7 461.5l10.55 6.1v-12.2z"/><path d="M610.8 462l10.55 6.1v-12.2z"/><path d="M622.3 451.5l10.55 6.1v-12.2z"/><path d="M633.3 454.9l10.55 6.1v-12.2z"/><path d="M646.2 464.6l10.55 6.1v-12.2z"/><path d="M656 431.3l10.55 6.1v-12.2z"/><path d="M667.6 411.5l10.55 6.1v-12.2z"/><path d="M678.7 426.5l10.55 6.1v-12.2z"/><path d="M689.1 394.3l10.55 6.1v-12.2z"/><path d="M701.1 390.1l10.55 6.1v-12.2z"/><path d="M712.4 429.6l10.55 6.1v-12.2z"/><path d="M723.1 378.8l10.55 6.1v-12.2z"/><path d="M734.9 402.7l10.55 6.1v-12.2z"/><path d="M746.1 403.8l10.55 6.1v-12.2z"/><path d="M756.8 385.7l10.55 6.1v-12.2z"/><path d="M768.3 365.1l10.55 6.1v-12.2z"/><path d="M779.3 383.6l10.55 6.1v-12.2z"/><path d="M791 370.4l10.55 6.1v-12.2z"/><path d="M802 373l10.55 6.1v-12.2z"/><path d="M812.5 373l10.55 6.1v-12.2z"/><path d="M823.6 342.8l10.55 6.1v-12.2z"/><path d="M835.2 327.8l10.55 6.1v-12.2z"/><path d="M846.1 351.2l10.55 6.1v-12.2z"/><path d="M857.5 332.3l10.55 6.1v-12.2z"/><path d="M869.1 333.6l10.55 6.1v-12.2z"/><path d="M880.1 295.5l10.55 6.1v-12.2z"/><path d="M891.4 309.2l10.55 6.1v-12.2z"/><path d="M902.1 308.6l10.55 6.1v-12.2z"/><path d="M913.7 296l10.55 6.1v-12.2z"/><path d="M924.6 293.9l10.55 6.1v-12.2z"/><path d="M935.7 281.4l10.55 6.1v-12.2z"/><path d="M946.8 282.5l10.55 6.1v-12.2z"/><path d="M958 278.6l10.55 6.1v-12.2z"/><path d="M969.6 287.8l10.55 6.1v-12.2z"/><path d="M980.7 275.9l10.55 6.1v-12.2z"/><path d="M991.7 244.4l10.55 6.1v-12.2z"/><path d="M1003 274.6l10.55 6.1v-12.2z"/><path d="M1014.3 270.2l10.55 6.1v-12.2z"/><path d="M1025.3 251.5l10.55 6.1v-12.2z"/><path d="M1036.6 265.4l10.55 6.1v-12.2z"/><path d="M1047.7 268.6l10.55 6.1v-12.2z"/><path d="M1059 237.8l10.55 6.1v-12.2z"/><path d="M1070 279.4l10.55 6.1v-12.2z"/><path d="M1081.1 266.8l10.55 6.1v-12.2z"/><path d="M1092.6 241.8l10.55 6.1v-12.2z"/><path d="M1103.7 241.2l10.55 6.1v-12.2z"/><path d="M1114.8 279.9l10.55 6.1v-12.2z"/><path d="M1125.9 262.8l10.55 6.1v-12.2z"/><path d="M1137.2 227.3l10.55 6.1v-12.2z"/><path d="M1148.4 229.2l10.55 6.1v-12.2z"/><path d="M1159.6 234.7l10.55 6.1v-12.2z"/><path d="M1170.7 235.6l10.55 6.1v-12.2z"/><path d="M1181.9 251.8l10.55 6.1v-12.2z"/><path d="M1193 239.9l10.55 6.1v-12.2z"/><path d="M1204.3 213.4l10.55 6.1v-12.2z"/><path d="M1215.3 198.3l10.55 6.1v-12.2z"/><path d="M1226.6 213.7l10.55 6.1v-12.2z"/><path d="M1237.8 242.7l10.55 6.1v-12.2z"/><path d="M1249 232.3l10.55 6.1v-12.2z"/><path d="M1260.2 224l10.55 6.1v-12.2z"/><path d="M1271.3 215.7l10.55 6.1v-12.2z"/><path d="M1282.5 216.7l10.55 6.1v-12.2z"/><path d="M1293.7 207.9l10.55 6.1v-12.2z"/><path d="M1304.9 192.2l10.55 6.1v-12.2z"/></g><path d="M141.0 1067.5V73.0H1405.0" fill="none" stroke="#363636" stroke-width="2" stroke-linejoin="miter"/><path d="M1404.5 73.0V1067.4" fill="none" stroke="#262626" stroke-width="1"/><path d="M140.0 1066.75H1405.0" fill="none" stroke="#2c2c2c" stroke-width="1.5"/><path d="M351.17 1067.0v-13M351.17 73.0v13M561.83 1067.0v-13M561.83 73.0v13M772.50 1067.0v-13M772.50 73.0v13M983.17 1067.0v-13M983.17 73.0v13M1193.83 1067.0v-13M1193.83 73.0v13M141.0 943.5h13M1405.0 943.5h-13M141.0 819.5h13M1405.0 819.5h-13M141.0 694.5h13M1405.0 694.5h-13M141.0 570.5h13M1405.0 570.5h-13M141.0 446.5h13M1405.0 446.5h-13M141.0 322.5h13M1405.0 322.5h-13M141.0 197.5h13M1405.0 197.5h-13" fill="none" stroke="#202020" stroke-width="1"/><g font-size="41.7" fill="#262626"><text transform="translate(141.0 1125.3) scale(1 1.055)" text-anchor="middle">2</text><text transform="translate(351.7 1125.3) scale(1 1.055)" text-anchor="middle">3</text><text transform="translate(562.3 1125.3) scale(1 1.055)" text-anchor="middle">4</text><text transform="translate(773.0 1125.3) scale(1 1.055)" text-anchor="middle">5</text><text transform="translate(983.7 1125.3) scale(1 1.055)" text-anchor="middle">6</text><text transform="translate(1194.3 1125.3) scale(1 1.055)" text-anchor="middle">7</text><text transform="translate(1405.0 1125.3) scale(1 1.055)" text-anchor="middle">8</text><text transform="translate(126 1083.9) scale(1 1.055)" text-anchor="end">2</text><text transform="translate(126 959.6) scale(1 1.055)" text-anchor="end">3</text><text transform="translate(126 835.4) scale(1 1.055)" text-anchor="end">4</text><text transform="translate(126 711.1) scale(1 1.055)" text-anchor="end">5</text><text transform="translate(126 586.9) scale(1 1.055)" text-anchor="end">6</text><text transform="translate(126 462.6) scale(1 1.055)" text-anchor="end">7</text><text transform="translate(126 338.4) scale(1 1.055)" text-anchor="end">8</text><text transform="translate(126 214.2) scale(1 1.055)" text-anchor="end">9</text><text transform="translate(126 89.9) scale(1 1.055)" text-anchor="end">10</text></g><text x="773.0" y="1186.3" font-size="47.9" fill="#262626" text-anchor="middle">lg(s)</text><text transform="translate(58.9 569.5) rotate(-90)" font-size="47.9" fill="#262626" text-anchor="middle">lg(Fq)</text><text transform="translate(773.3 60.4) scale(1 1.035)" font-size="47.75" fill="#000" text-anchor="middle">(a) QUB</text><rect x="1022.5" y="507.5" width="360.0" height="537.0" fill="#fff" stroke="#262626" stroke-width="1.2"/><g font-size="30.05" fill="#000"><g fill="#0000ff" stroke="#0060d8" stroke-width="1.2"><circle cx="1072" cy="535" r="5.45"/></g><text transform="translate(1119 551.7) scale(1 1.045)">q=-10, R<tspan font-size="22.6" dy="-14.8">2</tspan><tspan dy="14.8">=0.98009</tspan></text><path fill="none" stroke="#d95319" stroke-width="1.5" d="M1066.5 583.1h11M1072 577.6v11"/><text transform="translate(1119 599.8) scale(1 1.045)">q=-8, R<tspan font-size="22.6" dy="-14.8">2</tspan><tspan dy="14.8">=0.98095</tspan></text><path fill="none" stroke="#edb120" stroke-width="1.4" d="M1066.6 631.3h10.8M1072 625.9v10.8M1068.1 627.4l7.8 7.8M1068.1 635.2l7.8-7.8"/><text transform="translate(1119 648.0) scale(1 1.045)">q=-6, R<tspan font-size="22.6" dy="-14.8">2</tspan><tspan dy="14.8">=0.98286</tspan></text><g fill="#7e2f8e"><circle cx="1072" cy="679.5" r="1.55"/></g><text transform="translate(1119 696.1) scale(1 1.045)">q=-4, R<tspan font-size="22.6" dy="-14.8">2</tspan><tspan dy="14.8">=0.98647</tspan></text><path fill="none" stroke="#77ac30" stroke-width="1.4" d="M1068.2 723.8l7.6 7.6M1068.2 731.4l7.6-7.6"/><text transform="translate(1119 744.3) scale(1 1.045)">q=-2, R<tspan font-size="22.6" dy="-14.8">2</tspan><tspan dy="14.8">=0.98939</tspan></text><g fill="#ffff00" stroke="#4dbeee" stroke-width="1.3"><path d="M1067.7 771.5h8.6v8.6h-8.6z"/></g><text transform="translate(1119 792.4) scale(1 1.045)">q=0, R<tspan font-size="22.6" dy="-14.8">2</tspan><tspan dy="14.8">=0.98827</tspan></text><g fill="#000" stroke="#a2142f" stroke-width="1.3"><path d="M1072 816.8l5.4 7.1-5.4 7.1-5.4-7.1z"/></g><text transform="translate(1119 840.6) scale(1 1.045)">q=2, R<tspan font-size="22.6" dy="-14.8">2</tspan><tspan dy="14.8">=0.98533</tspan></text><g fill="#0000ff" stroke="#0072bd" stroke-width="1.3"><path d="M1072 865.1l6.1 10.55h-12.2z"/></g><text transform="translate(1119 888.7) scale(1 1.045)">q=4, R<tspan font-size="22.6" dy="-14.8">2</tspan><tspan dy="14.8">=0.9822</tspan></text><g fill="#00ff00" stroke="#d95319" stroke-width="1.3"><path d="M1072 927.1l6.1-10.55h-12.2z"/></g><text transform="translate(1119 936.9) scale(1 1.045)">q=6, R<tspan font-size="22.6" dy="-14.8">2</tspan><tspan dy="14.8">=0.97917</tspan></text><g fill="#ff0000" stroke="#edb120" stroke-width="1.3"><path d="M1078.9 968.3l-10.55 6.1v-12.2z"/></g><text transform="translate(1119 985.0) scale(1 1.045)">q=8, R<tspan font-size="22.6" dy="-14.8">2</tspan><tspan dy="14.8">=0.97653</tspan></text><g fill="#00ffff" stroke="#7e2f8e" stroke-width="1.3"><path d="M1065.1 1016.5l10.55 6.1v-12.2z"/></g><text transform="translate(1119 1033.2) scale(1 1.045)">q=10, R<tspan font-size="22.6" dy="-14.8">2</tspan><tspan dy="14.8">=0.97442</tspan></text></g></g><g><g fill="#0000ff" stroke="#0060d8" stroke-width="1.2"><circle cx="204.7" cy="2177.2" r="5.45"/><circle cx="224.8" cy="2086.1" r="5.45"/><circle cx="243.2" cy="2079.2" r="5.45"/><circle cx="260" cy="2040" r="5.45"/><circle cx="275.6" cy="2034.2" r="5.45"/><circle cx="290.2" cy="2050.6" r="5.45"/><circle cx="303.8" cy="1993.9" r="5.45"/><circle cx="316.5" cy="1998.2" r="5.45"/><circle cx="328.6" cy="1981.8" r="5.45"/><circle cx="340" cy="1970.9" r="5.45"/><circle cx="350.8" cy="1949.5" r="5.45"/><circle cx="361" cy="1949.7" r="5.45"/><circle cx="370.8" cy="1949.4" r="5.45"/><circle cx="380.2" cy="1949.4" r="5.45"/><circle cx="397.8" cy="1964" r="5.45"/><circle cx="406" cy="1975.4" r="5.45"/><circle cx="414" cy="1929.1" r="5.45"/><circle cx="429" cy="1964" r="5.45"/><circle cx="436.2" cy="1890.9" r="5.45"/><circle cx="449.8" cy="1885.4" r="5.45"/><circle cx="462.6" cy="1943.4" r="5.45"/><circle cx="474.6" cy="1859.7" r="5.45"/><circle cx="486" cy="1855.7" r="5.45"/><circle cx="496.8" cy="1881.2" r="5.45"/><circle cx="507.1" cy="1901" r="5.45"/><circle cx="516.9" cy="1862.3" r="5.45"/><circle cx="530.8" cy="1862.8" r="5.45"/><circle cx="539.5" cy="1830.8" r="5.45"/><circle cx="552.1" cy="1835.2" r="5.45"/><circle cx="563.9" cy="1817.6" r="5.45"/><circle cx="575.1" cy="1819.5" r="5.45"/><circle cx="585.7" cy="1833.4" r="5.45"/><circle cx="595.8" cy="1791.3" r="5.45"/><circle cx="608.6" cy="1795.3" r="5.45"/><circle cx="617.7" cy="1762.9" r="5.45"/><circle cx="629.2" cy="1779.5" r="5.45"/><circle cx="640.2" cy="1763.7" r="5.45"/><circle cx="653.1" cy="1772.9" r="5.45"/><circle cx="662.9" cy="1775" r="5.45"/><circle cx="674.5" cy="1765.1" r="5.45"/><circle cx="685.6" cy="1733.6" r="5.45"/><circle cx="696" cy="1741.2" r="5.45"/><circle cx="708" cy="1738.4" r="5.45"/><circle cx="719.3" cy="1728.4" r="5.45"/><circle cx="730" cy="1725.2" r="5.45"/><circle cx="741.8" cy="1727.9" r="5.45"/><circle cx="753" cy="1725.2" r="5.45"/><circle cx="763.7" cy="1730.5" r="5.45"/><circle cx="775.2" cy="1736.3" r="5.45"/><circle cx="786.2" cy="1697.1" r="5.45"/><circle cx="797.9" cy="1706.3" r="5.45"/><circle cx="808.9" cy="1696.8" r="5.45"/><circle cx="819.4" cy="1672.7" r="5.45"/><circle cx="830.5" cy="1644.5" r="5.45"/><circle cx="842.1" cy="1687.6" r="5.45"/><circle cx="853" cy="1618" r="5.45"/><circle cx="864.4" cy="1631.9" r="5.45"/><circle cx="876" cy="1591.9" r="5.45"/><circle cx="887" cy="1608.2" r="5.45"/><circle cx="898.3" cy="1608.2" r="5.45"/><circle cx="909" cy="1586.7" r="5.45"/><circle cx="920.6" cy="1598.5" r="5.45"/><circle cx="931.5" cy="1595.8" r="5.45"/><circle cx="942.6" cy="1548" r="5.45"/><circle cx="953.7" cy="1583.4" r="5.45"/><circle cx="964.9" cy="1563.7" r="5.45"/><circle cx="976.5" cy="1530.9" r="5.45"/><circle cx="987.6" cy="1534.8" r="5.45"/><circle cx="998.6" cy="1539.3" r="5.45"/><circle cx="1009.9" cy="1523.5" r="5.45"/><circle cx="1021.2" cy="1538" r="5.45"/><circle cx="1032.2" cy="1522.2" r="5.45"/><circle cx="1043.5" cy="1526.4" r="5.45"/><circle cx="1054.6" cy="1519" r="5.45"/><circle cx="1065.9" cy="1493.3" r="5.45"/><circle cx="1076.9" cy="1509.3" r="5.45"/><circle cx="1088" cy="1512.5" r="5.45"/><circle cx="1099.5" cy="1503.8" r="5.45"/><circle cx="1110.6" cy="1513" r="5.45"/><circle cx="1121.7" cy="1500.1" r="5.45"/><circle cx="1132.8" cy="1503.3" r="5.45"/><circle cx="1144.1" cy="1497.5" r="5.45"/><circle cx="1155.3" cy="1486.2" r="5.45"/><circle cx="1166.5" cy="1479.6" r="5.45"/><circle cx="1177.6" cy="1481.2" r="5.45"/><circle cx="1188.8" cy="1485.7" r="5.45"/><circle cx="1199.9" cy="1467" r="5.45"/><circle cx="1211.2" cy="1463.3" r="5.45"/><circle cx="1222.2" cy="1473.8" r="5.45"/><circle cx="1233.5" cy="1472.9" r="5.45"/><circle cx="1244.7" cy="1477.4" r="5.45"/><circle cx="1255.9" cy="1468.3" r="5.45"/><circle cx="1267.1" cy="1463.3" r="5.45"/><circle cx="1278.2" cy="1471.6" r="5.45"/><circle cx="1289.4" cy="1466.6" r="5.45"/><circle cx="1300.6" cy="1445.1" r="5.45"/><circle cx="1311.8" cy="1438" r="5.45"/></g><path fill="none" stroke="#d95319" stroke-width="1.5" d="M199.2 2159.5h11M204.7 2154v11M219.3 2069.6h11M224.8 2064.1v11M237.7 2062.3h11M243.2 2056.8v11M254.5 2026.8h11M260 2021.3v11M270.1 2019.7h11M275.6 2014.2v11M284.7 2036.2h11M290.2 2030.7v11M298.3 1983h11M303.8 1977.5v11M311 1986.3h11M316.5 1980.8v11M323.1 1969.6h11M328.6 1964.1v11M334.5 1960.8h11M340 1955.3v11M345.3 1940h11M350.8 1934.5v11M355.5 1939h11M361 1933.5v11M365.3 1939h11M370.8 1933.5v11M374.7 1938.3h11M380.2 1932.8v11M392.3 1949.2h11M397.8 1943.7v11M400.5 1959.7h11M406 1954.2v11M408.5 1916.5h11M414 1911v11M423.5 1949.4h11M429 1943.9v11M430.7 1881.5h11M436.2 1876v11M444.3 1875.5h11M449.8 1870v11M457.1 1928.8h11M462.6 1923.3v11M469.1 1851.3h11M474.6 1845.8v11M480.5 1847.9h11M486 1842.4v11M491.3 1872.3h11M496.8 1866.8v11M501.6 1888.6h11M507.1 1883.1v11M511.4 1851.8h11M516.9 1846.3v11M525.3 1851.8h11M530.8 1846.3v11M534 1821h11M539.5 1815.5v11M546.6 1825h11M552.1 1819.5v11M558.4 1807.9h11M563.9 1802.4v11M569.6 1809.7h11M575.1 1804.2v11M580.2 1822.1h11M585.7 1816.6v11M590.3 1784h11M595.8 1778.5v11M603.1 1786.1h11M608.6 1780.6v11M612.2 1757.7h11M617.7 1752.2v11M623.7 1770.8h11M629.2 1765.3v11M634.7 1757.7h11M640.2 1752.2v11M647.6 1765.1h11M653.1 1759.6v11M657.4 1767.7h11M662.9 1762.2v11M669 1756.6h11M674.5 1751.1v11M680.1 1728.3h11M685.6 1722.8v11M690.5 1733.6h11M696 1728.1v11M702.5 1731.8h11M708 1726.3v11M713.8 1722.6h11M719.3 1717.1v11M724.5 1718.1h11M730 1712.6v11M736.3 1720h11M741.8 1714.5v11M747.5 1716h11M753 1710.5v11M758.2 1720.5h11M763.7 1715v11M769.7 1725.8h11M775.2 1720.3v11M780.7 1688.4h11M786.2 1682.9v11M792.4 1696.3h11M797.9 1690.8v11M803.4 1688.4h11M808.9 1682.9v11M813.9 1667.4h11M819.4 1661.9v11M825 1639.8h11M830.5 1634.3v11M836.6 1678.7h11M842.1 1673.2v11M847.5 1613.5h11M853 1608v11M858.9 1626.6h11M864.4 1621.1v11M870.5 1588.5h11M876 1583v11M881.5 1603.8h11M887 1598.3v11M892.8 1600.9h11M898.3 1595.4v11M903.5 1582h11M909 1576.5v11M915.1 1592.5h11M920.6 1587v11M926 1589.9h11M931.5 1584.4v11M937.1 1544.6h11M942.6 1539.1v11M948.2 1576.9h11M953.7 1571.4v11M959.4 1559h11M964.9 1553.5v11M971 1527.5h11M976.5 1522v11M982.1 1530.9h11M987.6 1525.4v11M993.1 1534.8h11M998.6 1529.3v11M1004.4 1519.6h11M1009.9 1514.1v11M1015.7 1532.7h11M1021.2 1527.2v11M1026.7 1518.5h11M1032.2 1513v11M1038 1522.5h11M1043.5 1517v11M1049.1 1515.1h11M1054.6 1509.6v11M1060.4 1490.7h11M1065.9 1485.2v11M1071.4 1505.9h11M1076.9 1500.4v11M1082.5 1509.1h11M1088 1503.6v11M1094 1500.6h11M1099.5 1495.1v11M1105.1 1509.1h11M1110.6 1503.6v11M1116.2 1496.7h11M1121.7 1491.2v11M1127.3 1499.9h11M1132.8 1494.4v11M1138.6 1494.1h11M1144.1 1488.6v11M1149.8 1482.8h11M1155.3 1477.3v11M1161 1476.5h11M1166.5 1471v11M1172.1 1478h11M1177.6 1472.5v11M1183.3 1482.5h11M1188.8 1477v11M1194.4 1464.7h11M1199.9 1459.2v11M1205.7 1460.8h11M1211.2 1455.3v11M1216.7 1471.6h11M1222.2 1466.1v11M1228 1469.9h11M1233.5 1464.4v11M1239.2 1474.4h11M1244.7 1468.9v11M1250.4 1465.8h11M1255.9 1460.3v11M1261.6 1460.8h11M1267.1 1455.3v11M1272.7 1469.1h11M1278.2 1463.6v11M1283.9 1464.2h11M1289.4 1458.7v11M1295.1 1442.3h11M1300.6 1436.8v11M1306.3 1436h11M1311.8 1430.5v11"/><path fill="none" stroke="#edb120" stroke-width="1.4" d="M199.3 2129.1h10.8M204.7 2123.7v10.8M200.8 2125.2l7.8 7.8M200.8 2133l7.8-7.8M219.4 2044.3h10.8M224.8 2038.9v10.8M220.9 2040.4l7.8 7.8M220.9 2048.2l7.8-7.8M237.8 2036.2h10.8M243.2 2030.8v10.8M239.3 2032.3l7.8 7.8M239.3 2040.1l7.8-7.8M254.6 2007.6h10.8M260 2002.2v10.8M256.1 2003.7l7.8 7.8M256.1 2011.5l7.8-7.8M270.2 1998.7h10.8M275.6 1993.3v10.8M271.7 1994.8l7.8 7.8M271.7 2002.6l7.8-7.8M284.8 2015.2h10.8M290.2 2009.8v10.8M286.3 2011.3l7.8 7.8M286.3 2019.1l7.8-7.8M298.4 1966.6h10.8M303.8 1961.2v10.8M299.9 1962.7l7.8 7.8M299.9 1970.5l7.8-7.8M311.1 1969.1h10.8M316.5 1963.7v10.8M312.6 1965.2l7.8 7.8M312.6 1973l7.8-7.8M323.2 1951.9h10.8M328.6 1946.5v10.8M324.7 1948l7.8 7.8M324.7 1955.8l7.8-7.8M334.6 1945.1h10.8M340 1939.7v10.8M336.1 1941.2l7.8 7.8M336.1 1949l7.8-7.8M345.4 1926.6h10.8M350.8 1921.2v10.8M346.9 1922.7l7.8 7.8M346.9 1930.5l7.8-7.8M355.6 1924h10.8M361 1918.6v10.8M357.1 1920.1l7.8 7.8M357.1 1927.9l7.8-7.8M365.4 1922.8h10.8M370.8 1917.4v10.8M366.9 1918.9l7.8 7.8M366.9 1926.7l7.8-7.8M374.8 1919h10.8M380.2 1913.6v10.8M376.3 1915.1l7.8 7.8M376.3 1922.9l7.8-7.8M392.4 1925.3h10.8M397.8 1919.9v10.8M393.9 1921.4l7.8 7.8M393.9 1929.2l7.8-7.8M400.6 1938h10.8M406 1932.6v10.8M402.1 1934.1l7.8 7.8M402.1 1941.9l7.8-7.8M408.6 1898.7h10.8M414 1893.3v10.8M410.1 1894.8l7.8 7.8M410.1 1902.6l7.8-7.8M423.6 1924.8h10.8M429 1919.4v10.8M425.1 1920.9l7.8 7.8M425.1 1928.7l7.8-7.8M430.8 1868.9h10.8M436.2 1863.5v10.8M432.3 1865l7.8 7.8M432.3 1872.8l7.8-7.8M444.4 1862.3h10.8M449.8 1856.9v10.8M445.9 1858.4l7.8 7.8M445.9 1866.2l7.8-7.8M457.2 1904.9h10.8M462.6 1899.5v10.8M458.7 1901l7.8 7.8M458.7 1908.8l7.8-7.8M469.2 1840.8h10.8M474.6 1835.4v10.8M470.7 1836.9l7.8 7.8M470.7 1844.7l7.8-7.8M480.6 1837.3h10.8M486 1831.9v10.8M482.1 1833.4l7.8 7.8M482.1 1841.2l7.8-7.8M491.4 1857.8h10.8M496.8 1852.4v10.8M492.9 1853.9l7.8 7.8M492.9 1861.7l7.8-7.8M501.7 1869.7h10.8M507.1 1864.3v10.8M503.2 1865.8l7.8 7.8M503.2 1873.6l7.8-7.8M511.5 1837.3h10.8M516.9 1831.9v10.8M513 1833.4l7.8 7.8M513 1841.2l7.8-7.8M525.4 1835.2h10.8M530.8 1829.8v10.8M526.9 1831.3l7.8 7.8M526.9 1839.1l7.8-7.8M534.1 1807.1h10.8M539.5 1801.7v10.8M535.6 1803.2l7.8 7.8M535.6 1811l7.8-7.8M546.7 1813.1h10.8M552.1 1807.7v10.8M548.2 1809.2l7.8 7.8M548.2 1817l7.8-7.8M558.5 1796.6h10.8M563.9 1791.2v10.8M560 1792.7l7.8 7.8M560 1800.5l7.8-7.8M569.7 1798.4h10.8M575.1 1793v10.8M571.2 1794.5l7.8 7.8M571.2 1802.3l7.8-7.8M580.3 1806.3h10.8M585.7 1800.9v10.8M581.8 1802.4l7.8 7.8M581.8 1810.2l7.8-7.8M590.4 1776.1h10.8M595.8 1770.7v10.8M591.9 1772.2l7.8 7.8M591.9 1780l7.8-7.8M603.2 1776.1h10.8M608.6 1770.7v10.8M604.7 1772.2l7.8 7.8M604.7 1780l7.8-7.8M612.3 1750.6h10.8M617.7 1745.2v10.8M613.8 1746.7l7.8 7.8M613.8 1754.5l7.8-7.8M623.8 1762.9h10.8M629.2 1757.5v10.8M625.3 1759l7.8 7.8M625.3 1766.8l7.8-7.8M634.8 1750.6h10.8M640.2 1745.2v10.8M636.3 1746.7l7.8 7.8M636.3 1754.5l7.8-7.8M647.7 1755.1h10.8M653.1 1749.7v10.8M649.2 1751.2l7.8 7.8M649.2 1759l7.8-7.8M657.5 1758.5h10.8M662.9 1753.1v10.8M659 1754.6l7.8 7.8M659 1762.4l7.8-7.8M669.1 1745.9h10.8M674.5 1740.5v10.8M670.6 1742l7.8 7.8M670.6 1749.8l7.8-7.8M680.2 1721.7h10.8M685.6 1716.3v10.8M681.7 1717.8l7.8 7.8M681.7 1725.6l7.8-7.8M690.6 1723.7h10.8M696 1718.3v10.8M692.1 1719.8l7.8 7.8M692.1 1727.6l7.8-7.8M702.6 1722.6h10.8M708 1717.2v10.8M704.1 1718.7l7.8 7.8M704.1 1726.5l7.8-7.8M713.9 1710h10.8M719.3 1704.6v10.8M715.4 1706.1l7.8 7.8M715.4 1713.9l7.8-7.8M724.6 1708.7h10.8M730 1703.3v10.8M726.1 1704.8l7.8 7.8M726.1 1712.6l7.8-7.8M736.4 1706.8h10.8M741.8 1701.4v10.8M737.9 1702.9l7.8 7.8M737.9 1710.7l7.8-7.8M747.6 1700.3h10.8M753 1694.9v10.8M749.1 1696.4l7.8 7.8M749.1 1704.2l7.8-7.8M758.3 1705.5h10.8M763.7 1700.1v10.8M759.8 1701.6l7.8 7.8M759.8 1709.4l7.8-7.8M769.8 1710h10.8M775.2 1704.6v10.8M771.3 1706.1l7.8 7.8M771.3 1713.9l7.8-7.8M780.8 1677.9h10.8M786.2 1672.5v10.8M782.3 1674l7.8 7.8M782.3 1681.8l7.8-7.8M792.5 1681.9h10.8M797.9 1676.5v10.8M794 1678l7.8 7.8M794 1685.8l7.8-7.8M803.5 1676.6h10.8M808.9 1671.2v10.8M805 1672.7l7.8 7.8M805 1680.5l7.8-7.8M814 1659.5h10.8M819.4 1654.1v10.8M815.5 1655.6l7.8 7.8M815.5 1663.4l7.8-7.8M825.1 1630.6h10.8M830.5 1625.2v10.8M826.6 1626.7l7.8 7.8M826.6 1634.5l7.8-7.8M836.7 1665.6h10.8M842.1 1660.2v10.8M838.2 1661.7l7.8 7.8M838.2 1669.5l7.8-7.8M847.6 1608.2h10.8M853 1602.8v10.8M849.1 1604.3l7.8 7.8M849.1 1612.1l7.8-7.8M859 1618.8h10.8M864.4 1613.4v10.8M860.5 1614.9l7.8 7.8M860.5 1622.7l7.8-7.8M870.6 1583.3h10.8M876 1577.9v10.8M872.1 1579.4l7.8 7.8M872.1 1587.2l7.8-7.8M881.6 1597.7h10.8M887 1592.3v10.8M883.1 1593.8l7.8 7.8M883.1 1601.6l7.8-7.8M892.9 1591.2h10.8M898.3 1585.8v10.8M894.4 1587.3l7.8 7.8M894.4 1595.1l7.8-7.8M903.6 1574.6h10.8M909 1569.2v10.8M905.1 1570.7l7.8 7.8M905.1 1578.5l7.8-7.8M915.2 1584.6h10.8M920.6 1579.2v10.8M916.7 1580.7l7.8 7.8M916.7 1588.5l7.8-7.8M926.1 1580.7h10.8M931.5 1575.3v10.8M927.6 1576.8l7.8 7.8M927.6 1584.6l7.8-7.8M937.2 1541h10.8M942.6 1535.6v10.8M938.7 1537.1l7.8 7.8M938.7 1544.9l7.8-7.8M948.3 1567.7h10.8M953.7 1562.3v10.8M949.8 1563.8l7.8 7.8M949.8 1571.6l7.8-7.8M959.5 1554h10.8M964.9 1548.6v10.8M961 1550.1l7.8 7.8M961 1557.9l7.8-7.8M971.1 1524.8h10.8M976.5 1519.4v10.8M972.6 1520.9l7.8 7.8M972.6 1528.7l7.8-7.8M982.2 1526.9h10.8M987.6 1521.5v10.8M983.7 1523l7.8 7.8M983.7 1530.8l7.8-7.8M993.2 1529h10.8M998.6 1523.6v10.8M994.7 1525.1l7.8 7.8M994.7 1532.9l7.8-7.8M1004.5 1515.6h10.8M1009.9 1510.2v10.8M1006 1511.7l7.8 7.8M1006 1519.5l7.8-7.8M1015.8 1526.1h10.8M1021.2 1520.7v10.8M1017.3 1522.2l7.8 7.8M1017.3 1530l7.8-7.8M1026.8 1514.6h10.8M1032.2 1509.2v10.8M1028.3 1510.7l7.8 7.8M1028.3 1518.5l7.8-7.8M1038.1 1517.7h10.8M1043.5 1512.3v10.8M1039.6 1513.8l7.8 7.8M1039.6 1521.6l7.8-7.8M1049.2 1511.2h10.8M1054.6 1505.8v10.8M1050.7 1507.3l7.8 7.8M1050.7 1515.1l7.8-7.8M1060.5 1488h10.8M1065.9 1482.6v10.8M1062 1484.1l7.8 7.8M1062 1491.9l7.8-7.8M1071.5 1503.3h10.8M1076.9 1497.9v10.8M1073 1499.4l7.8 7.8M1073 1507.2l7.8-7.8M1082.6 1504.6h10.8M1088 1499.2v10.8M1084.1 1500.7l7.8 7.8M1084.1 1508.5l7.8-7.8M1094.1 1498h10.8M1099.5 1492.6v10.8M1095.6 1494.1l7.8 7.8M1095.6 1501.9l7.8-7.8M1105.2 1504.6h10.8M1110.6 1499.2v10.8M1106.7 1500.7l7.8 7.8M1106.7 1508.5l7.8-7.8M1116.3 1492.7h10.8M1121.7 1487.3v10.8M1117.8 1488.8l7.8 7.8M1117.8 1496.6l7.8-7.8M1127.4 1495.4h10.8M1132.8 1490v10.8M1128.9 1491.5l7.8 7.8M1128.9 1499.3l7.8-7.8M1138.7 1489.6h10.8M1144.1 1484.2v10.8M1140.2 1485.7l7.8 7.8M1140.2 1493.5l7.8-7.8M1149.9 1478.8h10.8M1155.3 1473.4v10.8M1151.4 1474.9l7.8 7.8M1151.4 1482.7l7.8-7.8M1161.1 1473.6h10.8M1166.5 1468.2v10.8M1162.6 1469.7l7.8 7.8M1162.6 1477.5l7.8-7.8M1172.2 1474.6h10.8M1177.6 1469.2v10.8M1173.7 1470.7l7.8 7.8M1173.7 1478.5l7.8-7.8M1183.4 1478.3h10.8M1188.8 1472.9v10.8M1184.9 1474.4l7.8 7.8M1184.9 1482.2l7.8-7.8M1194.5 1462.7h10.8M1199.9 1457.3v10.8M1196 1458.8l7.8 7.8M1196 1466.6l7.8-7.8M1205.8 1459.5h10.8M1211.2 1454.1v10.8M1207.3 1455.6l7.8 7.8M1207.3 1463.4l7.8-7.8M1216.8 1469.4h10.8M1222.2 1464v10.8M1218.3 1465.5l7.8 7.8M1218.3 1473.3l7.8-7.8M1228.1 1467.5h10.8M1233.5 1462.1v10.8M1229.6 1463.6l7.8 7.8M1229.6 1471.4l7.8-7.8M1239.3 1471.6h10.8M1244.7 1466.2v10.8M1240.8 1467.7l7.8 7.8M1240.8 1475.5l7.8-7.8M1250.5 1463.8h10.8M1255.9 1458.4v10.8M1252 1459.9l7.8 7.8M1252 1467.7l7.8-7.8M1261.7 1459.2h10.8M1267.1 1453.8v10.8M1263.2 1455.3l7.8 7.8M1263.2 1463.1l7.8-7.8M1272.8 1466.6h10.8M1278.2 1461.2v10.8M1274.3 1462.7l7.8 7.8M1274.3 1470.5l7.8-7.8M1284 1462h10.8M1289.4 1456.6v10.8M1285.5 1458.1l7.8 7.8M1285.5 1465.9l7.8-7.8M1295.2 1436.8h10.8M1300.6 1431.4v10.8M1296.7 1432.9l7.8 7.8M1296.7 1440.7l7.8-7.8M1306.4 1434.4h10.8M1311.8 1429v10.8M1307.9 1430.5l7.8 7.8M1307.9 1438.3l7.8-7.8"/><g fill="#7e2f8e"><circle cx="204.7" cy="2072.9" r="1.55"/><circle cx="224.8" cy="2006.6" r="1.55"/><circle cx="243.2" cy="1998.2" r="1.55"/><circle cx="260" cy="1976.7" r="1.55"/><circle cx="275.6" cy="1967.8" r="1.55"/><circle cx="290.2" cy="1978.5" r="1.55"/><circle cx="303.8" cy="1941.1" r="1.55"/><circle cx="316.5" cy="1943.4" r="1.55"/><circle cx="328.6" cy="1924.8" r="1.55"/><circle cx="340" cy="1922.3" r="1.55"/><circle cx="350.8" cy="1907.6" r="1.55"/><circle cx="361" cy="1902" r="1.55"/><circle cx="370.8" cy="1900" r="1.55"/><circle cx="380.2" cy="1894.2" r="1.55"/><circle cx="397.8" cy="1893.7" r="1.55"/><circle cx="406" cy="1900.5" r="1.55"/><circle cx="414" cy="1873.4" r="1.55"/><circle cx="429" cy="1886.8" r="1.55"/><circle cx="436.2" cy="1851.3" r="1.55"/><circle cx="449.8" cy="1843.4" r="1.55"/><circle cx="462.6" cy="1867" r="1.55"/><circle cx="474.6" cy="1827.4" r="1.55"/><circle cx="486" cy="1822.9" r="1.55"/><circle cx="496.8" cy="1836" r="1.55"/><circle cx="507.1" cy="1839.2" r="1.55"/><circle cx="516.9" cy="1817.6" r="1.55"/><circle cx="530.8" cy="1812.9" r="1.55"/><circle cx="539.5" cy="1791.3" r="1.55"/><circle cx="552.1" cy="1795.8" r="1.55"/><circle cx="563.9" cy="1779.5" r="1.55"/><circle cx="575.1" cy="1781.3" r="1.55"/><circle cx="585.7" cy="1784.8" r="1.55"/><circle cx="595.8" cy="1762.4" r="1.55"/><circle cx="608.6" cy="1761.1" r="1.55"/><circle cx="617.7" cy="1741.4" r="1.55"/><circle cx="629.2" cy="1748.7" r="1.55"/><circle cx="640.2" cy="1740.1" r="1.55"/><circle cx="653.1" cy="1740.6" r="1.55"/><circle cx="662.9" cy="1742.7" r="1.55"/><circle cx="674.5" cy="1729.6" r="1.55"/><circle cx="685.6" cy="1710.2" r="1.55"/><circle cx="696" cy="1710.7" r="1.55"/><circle cx="708" cy="1710" r="1.55"/><circle cx="719.3" cy="1695" r="1.55"/><circle cx="730" cy="1694.5" r="1.55"/><circle cx="741.8" cy="1688.4" r="1.55"/><circle cx="753" cy="1679.2" r="1.55"/><circle cx="763.7" cy="1683.2" r="1.55"/><circle cx="775.2" cy="1686.3" r="1.55"/><circle cx="786.2" cy="1664" r="1.55"/><circle cx="797.9" cy="1659.5" r="1.55"/><circle cx="808.9" cy="1656.9" r="1.55"/><circle cx="819.4" cy="1646.9" r="1.55"/><circle cx="830.5" cy="1620.1" r="1.55"/><circle cx="842.1" cy="1645.1" r="1.55"/><circle cx="853" cy="1599.8" r="1.55"/><circle cx="864.4" cy="1606.4" r="1.55"/><circle cx="876" cy="1577.2" r="1.55"/><circle cx="887" cy="1587.2" r="1.55"/><circle cx="898.3" cy="1576.7" r="1.55"/><circle cx="909" cy="1564.9" r="1.55"/><circle cx="920.6" cy="1574.6" r="1.55"/><circle cx="931.5" cy="1565.2" r="1.55"/><circle cx="942.6" cy="1536" r="1.55"/><circle cx="953.7" cy="1554.5" r="1.55"/><circle cx="964.9" cy="1545.3" r="1.55"/><circle cx="976.5" cy="1519.8" r="1.55"/><circle cx="987.6" cy="1519.8" r="1.55"/><circle cx="998.6" cy="1520.9" r="1.55"/><circle cx="1009.9" cy="1509.8" r="1.55"/><circle cx="1021.2" cy="1517.2" r="1.55"/><circle cx="1032.2" cy="1506.7" r="1.55"/><circle cx="1043.5" cy="1510.4" r="1.55"/><circle cx="1054.6" cy="1503.3" r="1.55"/><circle cx="1065.9" cy="1482.2" r="1.55"/><circle cx="1076.9" cy="1497.2" r="1.55"/><circle cx="1088" cy="1496.2" r="1.55"/><circle cx="1099.5" cy="1493.5" r="1.55"/><circle cx="1110.6" cy="1496.2" r="1.55"/><circle cx="1121.7" cy="1486.7" r="1.55"/><circle cx="1132.8" cy="1487.5" r="1.55"/><circle cx="1144.1" cy="1481.5" r="1.55"/><circle cx="1155.3" cy="1473" r="1.55"/><circle cx="1166.5" cy="1468.3" r="1.55"/><circle cx="1177.6" cy="1468.7" r="1.55"/><circle cx="1188.8" cy="1471.7" r="1.55"/><circle cx="1199.9" cy="1458.1" r="1.55"/><circle cx="1211.2" cy="1454.5" r="1.55"/><circle cx="1222.2" cy="1463.8" r="1.55"/><circle cx="1233.5" cy="1460.8" r="1.55"/><circle cx="1244.7" cy="1464.5" r="1.55"/><circle cx="1255.9" cy="1456.7" r="1.55"/><circle cx="1267.1" cy="1454.2" r="1.55"/><circle cx="1278.2" cy="1459.2" r="1.55"/><circle cx="1289.4" cy="1454.2" r="1.55"/><circle cx="1300.6" cy="1429.1" r="1.55"/><circle cx="1311.8" cy="1428.1" r="1.55"/></g><path fill="none" stroke="#77ac30" stroke-width="1.4" d="M200.9 1978.7l7.6 7.6M200.9 1986.3l7.6-7.6M221 1955.1l7.6 7.6M221 1962.7l7.6-7.6M239.4 1945.7l7.6 7.6M239.4 1953.3l7.6-7.6M256.2 1931.6l7.6 7.6M256.2 1939.2l7.6-7.6M271.8 1924.6l7.6 7.6M271.8 1932.2l7.6-7.6M286.4 1919.7l7.6 7.6M286.4 1927.3l7.6-7.6M300 1902.5l7.6 7.6M300 1910.1l7.6-7.6M312.7 1902.5l7.6 7.6M312.7 1910.1l7.6-7.6M324.8 1886.6l7.6 7.6M324.8 1894.2l7.6-7.6M336.2 1886.1l7.6 7.6M336.2 1893.7l7.6-7.6M347 1878l7.6 7.6M347 1885.6l7.6-7.6M357.2 1870.9l7.6 7.6M357.2 1878.5l7.6-7.6M367 1867.1l7.6 7.6M367 1874.7l7.6-7.6M376.4 1859.5l7.6 7.6M376.4 1867.1l7.6-7.6M394 1854.9l7.6 7.6M394 1862.5l7.6-7.6M402.2 1853.7l7.6 7.6M402.2 1861.3l7.6-7.6M410.2 1841.8l7.6 7.6M410.2 1849.4l7.6-7.6M425.2 1838.5l7.6 7.6M425.2 1846.1l7.6-7.6M432.4 1826.8l7.6 7.6M432.4 1834.4l7.6-7.6M446 1817.8l7.6 7.6M446 1825.4l7.6-7.6M458.8 1821.2l7.6 7.6M458.8 1828.8l7.6-7.6M470.8 1808l7.6 7.6M470.8 1815.6l7.6-7.6M482.2 1802.5l7.6 7.6M482.2 1810.1l7.6-7.6M493 1807.3l7.6 7.6M493 1814.9l7.6-7.6M503.3 1800.7l7.6 7.6M503.3 1808.3l7.6-7.6M513.1 1789.6l7.6 7.6M513.1 1797.2l7.6-7.6M527 1783.6l7.6 7.6M527 1791.2l7.6-7.6M535.7 1771.8l7.6 7.6M535.7 1779.4l7.6-7.6M548.3 1772.3l7.6 7.6M548.3 1779.9l7.6-7.6M560.1 1758.1l7.6 7.6M560.1 1765.7l7.6-7.6M571.3 1758.1l7.6 7.6M571.3 1765.7l7.6-7.6M581.9 1758.6l7.6 7.6M581.9 1766.2l7.6-7.6M592 1742.3l7.6 7.6M592 1749.9l7.6-7.6M604.8 1739.4l7.6 7.6M604.8 1747l7.6-7.6M613.9 1725.8l7.6 7.6M613.9 1733.4l7.6-7.6M625.4 1728.4l7.6 7.6M625.4 1736l7.6-7.6M636.4 1722.3l7.6 7.6M636.4 1729.9l7.6-7.6M649.3 1718.4l7.6 7.6M649.3 1726l7.6-7.6M659.1 1718.4l7.6 7.6M659.1 1726l7.6-7.6M670.7 1704.7l7.6 7.6M670.7 1712.3l7.6-7.6M681.8 1691.6l7.6 7.6M681.8 1699.2l7.6-7.6M692.2 1690.6l7.6 7.6M692.2 1698.2l7.6-7.6M704.2 1688.6l7.6 7.6M704.2 1696.2l7.6-7.6M715.5 1674.1l7.6 7.6M715.5 1681.7l7.6-7.6M726.2 1671l7.6 7.6M726.2 1678.6l7.6-7.6M738 1666.2l7.6 7.6M738 1673.8l7.6-7.6M749.2 1654.4l7.6 7.6M749.2 1662l7.6-7.6M759.9 1654.4l7.6 7.6M759.9 1662l7.6-7.6M771.4 1654.4l7.6 7.6M771.4 1662l7.6-7.6M782.4 1644.7l7.6 7.6M782.4 1652.3l7.6-7.6M794.1 1626l7.6 7.6M794.1 1633.6l7.6-7.6M805.1 1625l7.6 7.6M805.1 1632.6l7.6-7.6M815.6 1623.4l7.6 7.6M815.6 1631l7.6-7.6M826.7 1600.5l7.6 7.6M826.7 1608.1l7.6-7.6M838.3 1615.8l7.6 7.6M838.3 1623.4l7.6-7.6M849.2 1586l7.6 7.6M849.2 1593.6l7.6-7.6M860.6 1587.4l7.6 7.6M860.6 1595l7.6-7.6M872.2 1564.2l7.6 7.6M872.2 1571.8l7.6-7.6M883.2 1570.3l7.6 7.6M883.2 1577.9l7.6-7.6M894.5 1557.1l7.6 7.6M894.5 1564.7l7.6-7.6M905.2 1548.7l7.6 7.6M905.2 1556.3l7.6-7.6M916.8 1553.2l7.6 7.6M916.8 1560.8l7.6-7.6M927.7 1540.8l7.6 7.6M927.7 1548.4l7.6-7.6M938.8 1524l7.6 7.6M938.8 1531.6l7.6-7.6M949.9 1534.4l7.6 7.6M949.9 1542l7.6-7.6M961.1 1528.9l7.6 7.6M961.1 1536.5l7.6-7.6M972.7 1509.2l7.6 7.6M972.7 1516.8l7.6-7.6M983.8 1507.4l7.6 7.6M983.8 1515l7.6-7.6M994.8 1506.6l7.6 7.6M994.8 1514.2l7.6-7.6M1006.1 1498.2l7.6 7.6M1006.1 1505.8l7.6-7.6M1017.4 1502.9l7.6 7.6M1017.4 1510.5l7.6-7.6M1028.4 1492.1l7.6 7.6M1028.4 1499.7l7.6-7.6M1039.7 1496.8l7.6 7.6M1039.7 1504.4l7.6-7.6M1050.8 1491.6l7.6 7.6M1050.8 1499.2l7.6-7.6M1062.1 1473.7l7.6 7.6M1062.1 1481.3l7.6-7.6M1073.1 1485l7.6 7.6M1073.1 1492.6l7.6-7.6M1084.2 1482.4l7.6 7.6M1084.2 1490l7.6-7.6M1095.7 1483.7l7.6 7.6M1095.7 1491.3l7.6-7.6M1106.8 1481.1l7.6 7.6M1106.8 1488.7l7.6-7.6M1117.9 1473.2l7.6 7.6M1117.9 1480.8l7.6-7.6M1129 1473.2l7.6 7.6M1129 1480.8l7.6-7.6M1140.3 1467.1l7.6 7.6M1140.3 1474.7l7.6-7.6M1151.5 1461.9l7.6 7.6M1151.5 1469.5l7.6-7.6M1162.7 1458.2l7.6 7.6M1162.7 1465.8l7.6-7.6M1173.8 1457.4l7.6 7.6M1173.8 1465l7.6-7.6M1185 1459.4l7.6 7.6M1185 1467l7.6-7.6M1196.1 1447.5l7.6 7.6M1196.1 1455.1l7.6-7.6M1207.4 1447.1l7.6 7.6M1207.4 1454.7l7.6-7.6M1218.4 1452.9l7.6 7.6M1218.4 1460.5l7.6-7.6M1229.7 1446.3l7.6 7.6M1229.7 1453.9l7.6-7.6M1240.9 1448.8l7.6 7.6M1240.9 1456.4l7.6-7.6M1252.1 1443.5l7.6 7.6M1252.1 1451.1l7.6-7.6M1263.3 1443.5l7.6 7.6M1263.3 1451.1l7.6-7.6M1274.4 1443l7.6 7.6M1274.4 1450.6l7.6-7.6M1285.6 1438.3l7.6 7.6M1285.6 1445.9l7.6-7.6M1296.8 1416.2l7.6 7.6M1296.8 1423.8l7.6-7.6M1308 1416.5l7.6 7.6M1308 1424.1l7.6-7.6"/><g fill="#ffff00" stroke="#4dbeee" stroke-width="1.3"><path d="M200.4 1921h8.6v8.6h-8.6z"/><path d="M220.5 1911.7h8.6v8.6h-8.6z"/><path d="M238.9 1899h8.6v8.6h-8.6z"/><path d="M255.7 1891.9h8.6v8.6h-8.6z"/><path d="M271.3 1883.5h8.6v8.6h-8.6z"/><path d="M285.9 1874.2h8.6v8.6h-8.6z"/><path d="M299.5 1867.8h8.6v8.6h-8.6z"/><path d="M312.2 1864h8.6v8.6h-8.6z"/><path d="M324.3 1853.9h8.6v8.6h-8.6z"/><path d="M335.7 1851.9h8.6v8.6h-8.6z"/><path d="M346.5 1847.6h8.6v8.6h-8.6z"/><path d="M356.7 1840.5h8.6v8.6h-8.6z"/><path d="M366.5 1834.9h8.6v8.6h-8.6z"/><path d="M375.9 1829.9h8.6v8.6h-8.6z"/><path d="M393.5 1824.1h8.6v8.6h-8.6z"/><path d="M401.7 1819.2h8.6v8.6h-8.6z"/><path d="M409.7 1815.2h8.6v8.6h-8.6z"/><path d="M424.7 1807.6h8.6v8.6h-8.6z"/><path d="M431.9 1805h8.6v8.6h-8.6z"/><path d="M445.5 1794.9h8.6v8.6h-8.6z"/><path d="M458.3 1792.8h8.6v8.6h-8.6z"/><path d="M470.3 1787.8h8.6v8.6h-8.6z"/><path d="M481.7 1780.5h8.6v8.6h-8.6z"/><path d="M492.5 1780.5h8.6v8.6h-8.6z"/><path d="M502.8 1772.6h8.6v8.6h-8.6z"/><path d="M512.6 1766h8.6v8.6h-8.6z"/><path d="M526.5 1761.3h8.6v8.6h-8.6z"/><path d="M535.2 1752.9h8.6v8.6h-8.6z"/><path d="M547.8 1748.9h8.6v8.6h-8.6z"/><path d="M559.6 1737.9h8.6v8.6h-8.6z"/><path d="M570.8 1736.3h8.6v8.6h-8.6z"/><path d="M581.4 1737.1h8.6v8.6h-8.6z"/><path d="M591.5 1722.6h8.6v8.6h-8.6z"/><path d="M604.3 1720h8.6v8.6h-8.6z"/><path d="M613.4 1707.6h8.6v8.6h-8.6z"/><path d="M624.9 1706.1h8.6v8.6h-8.6z"/><path d="M635.9 1702.9h8.6v8.6h-8.6z"/><path d="M648.8 1697.7h8.6v8.6h-8.6z"/><path d="M658.6 1692.9h8.6v8.6h-8.6z"/><path d="M670.2 1679.3h8.6v8.6h-8.6z"/><path d="M681.3 1670.4h8.6v8.6h-8.6z"/><path d="M691.7 1669.9h8.6v8.6h-8.6z"/><path d="M703.7 1665.7h8.6v8.6h-8.6z"/><path d="M715 1654.4h8.6v8.6h-8.6z"/><path d="M725.7 1646.5h8.6v8.6h-8.6z"/><path d="M737.5 1646.5h8.6v8.6h-8.6z"/><path d="M748.7 1634.7h8.6v8.6h-8.6z"/><path d="M759.4 1631.5h8.6v8.6h-8.6z"/><path d="M770.9 1631h8.6v8.6h-8.6z"/><path d="M781.9 1626.3h8.6v8.6h-8.6z"/><path d="M793.6 1600.8h8.6v8.6h-8.6z"/><path d="M804.6 1598.7h8.6v8.6h-8.6z"/><path d="M815.1 1597.9h8.6v8.6h-8.6z"/><path d="M826.2 1579.8h8.6v8.6h-8.6z"/><path d="M837.8 1589h8.6v8.6h-8.6z"/><path d="M848.7 1572.4h8.6v8.6h-8.6z"/><path d="M860.1 1567.9h8.6v8.6h-8.6z"/><path d="M871.7 1552.7h8.6v8.6h-8.6z"/><path d="M882.7 1552.7h8.6v8.6h-8.6z"/><path d="M894 1540.1h8.6v8.6h-8.6z"/><path d="M904.7 1529.5h8.6v8.6h-8.6z"/><path d="M916.3 1529h8.6v8.6h-8.6z"/><path d="M927.2 1516.9h8.6v8.6h-8.6z"/><path d="M938.3 1512.5h8.6v8.6h-8.6z"/><path d="M949.4 1514.2h8.6v8.6h-8.6z"/><path d="M960.6 1511.3h8.6v8.6h-8.6z"/><path d="M972.2 1499.5h8.6v8.6h-8.6z"/><path d="M983.3 1494.2h8.6v8.6h-8.6z"/><path d="M994.3 1493.2h8.6v8.6h-8.6z"/><path d="M1005.6 1487.1h8.6v8.6h-8.6z"/><path d="M1016.9 1492.9h8.6v8.6h-8.6z"/><path d="M1027.9 1483.2h8.6v8.6h-8.6z"/><path d="M1039.2 1485h8.6v8.6h-8.6z"/><path d="M1050.3 1483.2h8.6v8.6h-8.6z"/><path d="M1061.6 1466.1h8.6v8.6h-8.6z"/><path d="M1072.6 1476.6h8.6v8.6h-8.6z"/><path d="M1083.7 1471.9h8.6v8.6h-8.6z"/><path d="M1095.2 1472.7h8.6v8.6h-8.6z"/><path d="M1106.3 1464.8h8.6v8.6h-8.6z"/><path d="M1117.4 1460.3h8.6v8.6h-8.6z"/><path d="M1128.5 1461.4h8.6v8.6h-8.6z"/><path d="M1139.8 1455.1h8.6v8.6h-8.6z"/><path d="M1151 1452.4h8.6v8.6h-8.6z"/><path d="M1162.2 1452.4h8.6v8.6h-8.6z"/><path d="M1173.3 1448.2h8.6v8.6h-8.6z"/><path d="M1184.5 1446.2h8.6v8.6h-8.6z"/><path d="M1195.6 1436.5h8.6v8.6h-8.6z"/><path d="M1206.9 1438.3h8.6v8.6h-8.6z"/><path d="M1217.9 1440.3h8.6v8.6h-8.6z"/><path d="M1229.2 1430.1h8.6v8.6h-8.6z"/><path d="M1240.4 1430.1h8.6v8.6h-8.6z"/><path d="M1251.6 1430.4h8.6v8.6h-8.6z"/><path d="M1262.8 1431.4h8.6v8.6h-8.6z"/><path d="M1273.9 1420.6h8.6v8.6h-8.6z"/><path d="M1285.1 1415.7h8.6v8.6h-8.6z"/><path d="M1296.3 1406h8.6v8.6h-8.6z"/><path d="M1307.5 1403.6h8.6v8.6h-8.6z"/></g><g fill="#000" stroke="#a2142f" stroke-width="1.3"><path d="M204.7 1884.8l5.4 7.1-5.4 7.1-5.4-7.1z"/><path d="M224.8 1878.2l5.4 7.1-5.4 7.1-5.4-7.1z"/><path d="M243.2 1864.5l5.4 7.1-5.4 7.1-5.4-7.1z"/><path d="M260 1861.2l5.4 7.1-5.4 7.1-5.4-7.1z"/><path d="M275.6 1851.1l5.4 7.1-5.4 7.1-5.4-7.1z"/><path d="M290.2 1842.3l5.4 7.1-5.4 7.1-5.4-7.1z"/><path d="M303.8 1837.7l5.4 7.1-5.4 7.1-5.4-7.1z"/><path d="M316.5 1830.9l5.4 7.1-5.4 7.1-5.4-7.1z"/><path d="M328.6 1825.1l5.4 7.1-5.4 7.1-5.4-7.1z"/><path d="M340 1822.5l5.4 7.1-5.4 7.1-5.4-7.1z"/><path d="M350.8 1817l5.4 7.1-5.4 7.1-5.4-7.1z"/><path d="M361 1810.6l5.4 7.1-5.4 7.1-5.4-7.1z"/><path d="M370.8 1804.8l5.4 7.1-5.4 7.1-5.4-7.1z"/><path d="M380.2 1804.3l5.4 7.1-5.4 7.1-5.4-7.1z"/><path d="M397.8 1796.7l5.4 7.1-5.4 7.1-5.4-7.1z"/><path d="M406 1790.4l5.4 7.1-5.4 7.1-5.4-7.1z"/><path d="M414 1789.6l5.4 7.1-5.4 7.1-5.4-7.1z"/><path d="M429 1782l5.4 7.1-5.4 7.1-5.4-7.1z"/><path d="M436.2 1780.9l5.4 7.1-5.4 7.1-5.4-7.1z"/><path d="M449.8 1769.8l5.4 7.1-5.4 7.1-5.4-7.1z"/><path d="M462.6 1764.5l5.4 7.1-5.4 7.1-5.4-7.1z"/><path d="M474.6 1763.2l5.4 7.1-5.4 7.1-5.4-7.1z"/><path d="M486 1754.8l5.4 7.1-5.4 7.1-5.4-7.1z"/><path d="M496.8 1754l5.4 7.1-5.4 7.1-5.4-7.1z"/><path d="M507.1 1748l5.4 7.1-5.4 7.1-5.4-7.1z"/><path d="M516.9 1739.6l5.4 7.1-5.4 7.1-5.4-7.1z"/><path d="M530.8 1738.2l5.4 7.1-5.4 7.1-5.4-7.1z"/><path d="M539.5 1732.4l5.4 7.1-5.4 7.1-5.4-7.1z"/><path d="M552.1 1721.9l5.4 7.1-5.4 7.1-5.4-7.1z"/><path d="M563.9 1715.1l5.4 7.1-5.4 7.1-5.4-7.1z"/><path d="M575.1 1711.9l5.4 7.1-5.4 7.1-5.4-7.1z"/><path d="M585.7 1715.1l5.4 7.1-5.4 7.1-5.4-7.1z"/><path d="M595.8 1702l5.4 7.1-5.4 7.1-5.4-7.1z"/><path d="M608.6 1696.2l5.4 7.1-5.4 7.1-5.4-7.1z"/><path d="M617.7 1685.7l5.4 7.1-5.4 7.1-5.4-7.1z"/><path d="M629.2 1682.5l5.4 7.1-5.4 7.1-5.4-7.1z"/><path d="M640.2 1681.7l5.4 7.1-5.4 7.1-5.4-7.1z"/><path d="M653.1 1676.5l5.4 7.1-5.4 7.1-5.4-7.1z"/><path d="M662.9 1666.5l5.4 7.1-5.4 7.1-5.4-7.1z"/><path d="M674.5 1653.3l5.4 7.1-5.4 7.1-5.4-7.1z"/><path d="M685.6 1644.7l5.4 7.1-5.4 7.1-5.4-7.1z"/><path d="M696 1644.1l5.4 7.1-5.4 7.1-5.4-7.1z"/><path d="M708 1636.6l5.4 7.1-5.4 7.1-5.4-7.1z"/><path d="M719.3 1634.8l5.4 7.1-5.4 7.1-5.4-7.1z"/><path d="M730 1617.7l5.4 7.1-5.4 7.1-5.4-7.1z"/><path d="M741.8 1624.8l5.4 7.1-5.4 7.1-5.4-7.1z"/><path d="M753 1611.7l5.4 7.1-5.4 7.1-5.4-7.1z"/><path d="M763.7 1608.5l5.4 7.1-5.4 7.1-5.4-7.1z"/><path d="M775.2 1603.8l5.4 7.1-5.4 7.1-5.4-7.1z"/><path d="M786.2 1602.5l5.4 7.1-5.4 7.1-5.4-7.1z"/><path d="M797.9 1580.1l5.4 7.1-5.4 7.1-5.4-7.1z"/><path d="M808.9 1577.5l5.4 7.1-5.4 7.1-5.4-7.1z"/><path d="M819.4 1570.1l5.4 7.1-5.4 7.1-5.4-7.1z"/><path d="M830.5 1557.8l5.4 7.1-5.4 7.1-5.4-7.1z"/><path d="M842.1 1563l5.4 7.1-5.4 7.1-5.4-7.1z"/><path d="M853 1555.1l5.4 7.1-5.4 7.1-5.4-7.1z"/><path d="M864.4 1543.3l5.4 7.1-5.4 7.1-5.4-7.1z"/><path d="M876 1536.7l5.4 7.1-5.4 7.1-5.4-7.1z"/><path d="M887 1532.3l5.4 7.1-5.4 7.1-5.4-7.1z"/><path d="M898.3 1521l5.4 7.1-5.4 7.1-5.4-7.1z"/><path d="M909 1503.9l5.4 7.1-5.4 7.1-5.4-7.1z"/><path d="M920.6 1499.9l5.4 7.1-5.4 7.1-5.4-7.1z"/><path d="M931.5 1495l5.4 7.1-5.4 7.1-5.4-7.1z"/><path d="M942.6 1493.4l5.4 7.1-5.4 7.1-5.4-7.1z"/><path d="M953.7 1491.4l5.4 7.1-5.4 7.1-5.4-7.1z"/><path d="M964.9 1489.6l5.4 7.1-5.4 7.1-5.4-7.1z"/><path d="M976.5 1487l5.4 7.1-5.4 7.1-5.4-7.1z"/><path d="M987.6 1478.6l5.4 7.1-5.4 7.1-5.4-7.1z"/><path d="M998.6 1479.6l5.4 7.1-5.4 7.1-5.4-7.1z"/><path d="M1009.9 1472.5l5.4 7.1-5.4 7.1-5.4-7.1z"/><path d="M1021.2 1480.9l5.4 7.1-5.4 7.1-5.4-7.1z"/><path d="M1032.2 1472.5l5.4 7.1-5.4 7.1-5.4-7.1z"/><path d="M1043.5 1469.9l5.4 7.1-5.4 7.1-5.4-7.1z"/><path d="M1054.6 1472.5l5.4 7.1-5.4 7.1-5.4-7.1z"/><path d="M1065.9 1459.4l5.4 7.1-5.4 7.1-5.4-7.1z"/><path d="M1076.9 1466.5l5.4 7.1-5.4 7.1-5.4-7.1z"/><path d="M1088 1460.7l5.4 7.1-5.4 7.1-5.4-7.1z"/><path d="M1099.5 1457.3l5.4 7.1-5.4 7.1-5.4-7.1z"/><path d="M1110.6 1442.3l5.4 7.1-5.4 7.1-5.4-7.1z"/><path d="M1121.7 1438.3l5.4 7.1-5.4 7.1-5.4-7.1z"/><path d="M1132.8 1443.6l5.4 7.1-5.4 7.1-5.4-7.1z"/><path d="M1144.1 1442.3l5.4 7.1-5.4 7.1-5.4-7.1z"/><path d="M1155.3 1441.8l5.4 7.1-5.4 7.1-5.4-7.1z"/><path d="M1166.5 1448.8l5.4 7.1-5.4 7.1-5.4-7.1z"/><path d="M1177.6 1436.9l5.4 7.1-5.4 7.1-5.4-7.1z"/><path d="M1188.8 1428l5.4 7.1-5.4 7.1-5.4-7.1z"/><path d="M1199.9 1421.1l5.4 7.1-5.4 7.1-5.4-7.1z"/><path d="M1211.2 1424.8l5.4 7.1-5.4 7.1-5.4-7.1z"/><path d="M1222.2 1422.3l5.4 7.1-5.4 7.1-5.4-7.1z"/><path d="M1233.5 1410.4l5.4 7.1-5.4 7.1-5.4-7.1z"/><path d="M1244.7 1410.4l5.4 7.1-5.4 7.1-5.4-7.1z"/><path d="M1255.9 1413.5l5.4 7.1-5.4 7.1-5.4-7.1z"/><path d="M1267.1 1414l5.4 7.1-5.4 7.1-5.4-7.1z"/><path d="M1278.2 1396.6l5.4 7.1-5.4 7.1-5.4-7.1z"/><path d="M1289.4 1390l5.4 7.1-5.4 7.1-5.4-7.1z"/><path d="M1300.6 1397.5l5.4 7.1-5.4 7.1-5.4-7.1z"/><path d="M1311.8 1390l5.4 7.1-5.4 7.1-5.4-7.1z"/></g><g fill="#0000ff" stroke="#0072bd" stroke-width="1.3"><path d="M204.7 1861.4l6.1 10.55h-12.2z"/><path d="M224.8 1857.2l6.1 10.55h-12.2z"/><path d="M243.2 1842.5l6.1 10.55h-12.2z"/><path d="M260 1839.9l6.1 10.55h-12.2z"/><path d="M275.6 1829l6.1 10.55h-12.2z"/><path d="M290.2 1822.2l6.1 10.55h-12.2z"/><path d="M303.8 1817.2l6.1 10.55h-12.2z"/><path d="M316.5 1806.5l6.1 10.55h-12.2z"/><path d="M328.6 1804.5l6.1 10.55h-12.2z"/><path d="M340 1802l6.1 10.55h-12.2z"/><path d="M350.8 1795.6l6.1 10.55h-12.2z"/><path d="M361 1788l6.1 10.55h-12.2z"/><path d="M370.8 1783l6.1 10.55h-12.2z"/><path d="M380.2 1784.2l6.1 10.55h-12.2z"/><path d="M397.8 1775.4l6.1 10.55h-12.2z"/><path d="M406 1767.8l6.1 10.55h-12.2z"/><path d="M414 1767l6.1 10.55h-12.2z"/><path d="M429 1760.2l6.1 10.55h-12.2z"/><path d="M436.2 1760.5l6.1 10.55h-12.2z"/><path d="M449.8 1748.2l6.1 10.55h-12.2z"/><path d="M462.6 1746.3l6.1 10.55h-12.2z"/><path d="M474.6 1743.7l6.1 10.55h-12.2z"/><path d="M486 1734.5l6.1 10.55h-12.2z"/><path d="M496.8 1734l6.1 10.55h-12.2z"/><path d="M507.1 1727.9l6.1 10.55h-12.2z"/><path d="M516.9 1720l6.1 10.55h-12.2z"/><path d="M530.8 1720.8l6.1 10.55h-12.2z"/><path d="M539.5 1713.5l6.1 10.55h-12.2z"/><path d="M552.1 1705l6.1 10.55h-12.2z"/><path d="M563.9 1698.5l6.1 10.55h-12.2z"/><path d="M575.1 1691.1l6.1 10.55h-12.2z"/><path d="M585.7 1697.7l6.1 10.55h-12.2z"/><path d="M595.8 1684.5l6.1 10.55h-12.2z"/><path d="M608.6 1676.7l6.1 10.55h-12.2z"/><path d="M617.7 1668.8l6.1 10.55h-12.2z"/><path d="M629.2 1668l6.1 10.55h-12.2z"/><path d="M640.2 1666.7l6.1 10.55h-12.2z"/><path d="M653.1 1664.8l6.1 10.55h-12.2z"/><path d="M662.9 1641.2l6.1 10.55h-12.2z"/><path d="M674.5 1632l6.1 10.55h-12.2z"/><path d="M685.6 1626.1l6.1 10.55h-12.2z"/><path d="M696 1615.3l6.1 10.55h-12.2z"/><path d="M708 1610.5l6.1 10.55h-12.2z"/><path d="M719.3 1621.1l6.1 10.55h-12.2z"/><path d="M730 1593.5l6.1 10.55h-12.2z"/><path d="M741.8 1606.6l6.1 10.55h-12.2z"/><path d="M753 1592.1l6.1 10.55h-12.2z"/><path d="M763.7 1592.1l6.1 10.55h-12.2z"/><path d="M775.2 1577.2l6.1 10.55h-12.2z"/><path d="M786.2 1577.7l6.1 10.55h-12.2z"/><path d="M797.9 1565.9l6.1 10.55h-12.2z"/><path d="M808.9 1564l6.1 10.55h-12.2z"/><path d="M819.4 1548.8l6.1 10.55h-12.2z"/><path d="M830.5 1543.5l6.1 10.55h-12.2z"/><path d="M842.1 1546.1l6.1 10.55h-12.2z"/><path d="M853 1543.5l6.1 10.55h-12.2z"/><path d="M864.4 1525.1l6.1 10.55h-12.2z"/><path d="M876 1525.1l6.1 10.55h-12.2z"/><path d="M887 1519.3l6.1 10.55h-12.2z"/><path d="M898.3 1506.7l6.1 10.55h-12.2z"/><path d="M909 1488.3l6.1 10.55h-12.2z"/><path d="M920.6 1479.1l6.1 10.55h-12.2z"/><path d="M931.5 1479.2l6.1 10.55h-12.2z"/><path d="M942.6 1476.6l6.1 10.55h-12.2z"/><path d="M953.7 1475.3l6.1 10.55h-12.2z"/><path d="M964.9 1474.6l6.1 10.55h-12.2z"/><path d="M976.5 1478.8l6.1 10.55h-12.2z"/><path d="M987.6 1468l6.1 10.55h-12.2z"/><path d="M998.6 1470.1l6.1 10.55h-12.2z"/><path d="M1009.9 1461.4l6.1 10.55h-12.2z"/><path d="M1021.2 1471.4l6.1 10.55h-12.2z"/><path d="M1032.2 1466.1l6.1 10.55h-12.2z"/><path d="M1043.5 1459.6l6.1 10.55h-12.2z"/><path d="M1054.6 1466.1l6.1 10.55h-12.2z"/><path d="M1065.9 1456.2l6.1 10.55h-12.2z"/><path d="M1076.9 1460.9l6.1 10.55h-12.2z"/><path d="M1088 1455.6l6.1 10.55h-12.2z"/><path d="M1099.5 1445.1l6.1 10.55h-12.2z"/><path d="M1110.6 1422.8l6.1 10.55h-12.2z"/><path d="M1121.7 1418.8l6.1 10.55h-12.2z"/><path d="M1132.8 1430.6l6.1 10.55h-12.2z"/><path d="M1144.1 1434.6l6.1 10.55h-12.2z"/><path d="M1155.3 1435.9l6.1 10.55h-12.2z"/><path d="M1166.5 1446.4l6.1 10.55h-12.2z"/><path d="M1177.6 1428.8l6.1 10.55h-12.2z"/><path d="M1188.8 1414.7l6.1 10.55h-12.2z"/><path d="M1199.9 1410.1l6.1 10.55h-12.2z"/><path d="M1211.2 1412.6l6.1 10.55h-12.2z"/><path d="M1222.2 1410.1l6.1 10.55h-12.2z"/><path d="M1233.5 1399.3l6.1 10.55h-12.2z"/><path d="M1244.7 1399.3l6.1 10.55h-12.2z"/><path d="M1255.9 1403.8l6.1 10.55h-12.2z"/><path d="M1267.1 1403l6.1 10.55h-12.2z"/><path d="M1278.2 1386.1l6.1 10.55h-12.2z"/><path d="M1289.4 1377.8l6.1 10.55h-12.2z"/><path d="M1300.6 1393.5l6.1 10.55h-12.2z"/><path d="M1311.8 1381.9l6.1 10.55h-12.2z"/></g><g fill="#00ff00" stroke="#d95319" stroke-width="1.3"><path d="M204.7 1858.8l6.1-10.55h-12.2z"/><path d="M224.8 1856.3l6.1-10.55h-12.2z"/><path d="M243.2 1839.8l6.1-10.55h-12.2z"/><path d="M260 1836.5l6.1-10.55h-12.2z"/><path d="M275.6 1825.9l6.1-10.55h-12.2z"/><path d="M290.2 1820.8l6.1-10.55h-12.2z"/><path d="M303.8 1815.8l6.1-10.55h-12.2z"/><path d="M316.5 1801.8l6.1-10.55h-12.2z"/><path d="M328.6 1801.1l6.1-10.55h-12.2z"/><path d="M340 1801.1l6.1-10.55h-12.2z"/><path d="M350.8 1793.5l6.1-10.55h-12.2z"/><path d="M361 1782.9l6.1-10.55h-12.2z"/><path d="M370.8 1782.3l6.1-10.55h-12.2z"/><path d="M380.2 1784.1l6.1-10.55h-12.2z"/><path d="M397.8 1774l6.1-10.55h-12.2z"/><path d="M406 1766.9l6.1-10.55h-12.2z"/><path d="M414 1764.6l6.1-10.55h-12.2z"/><path d="M429 1753.7l6.1-10.55h-12.2z"/><path d="M436.2 1758.3l6.1-10.55h-12.2z"/><path d="M449.8 1740.9l6.1-10.55h-12.2z"/><path d="M462.6 1742.5l6.1-10.55h-12.2z"/><path d="M474.6 1744.3l6.1-10.55h-12.2z"/><path d="M486 1733.8l6.1-10.55h-12.2z"/><path d="M496.8 1733l6.1-10.55h-12.2z"/><path d="M507.1 1727.3l6.1-10.55h-12.2z"/><path d="M516.9 1721.2l6.1-10.55h-12.2z"/><path d="M530.8 1722l6.1-10.55h-12.2z"/><path d="M539.5 1709.6l6.1-10.55h-12.2z"/><path d="M552.1 1707.5l6.1-10.55h-12.2z"/><path d="M563.9 1698.3l6.1-10.55h-12.2z"/><path d="M575.1 1687l6.1-10.55h-12.2z"/><path d="M585.7 1699.1l6.1-10.55h-12.2z"/><path d="M595.8 1686.5l6.1-10.55h-12.2z"/><path d="M608.6 1674.7l6.1-10.55h-12.2z"/><path d="M617.7 1668.1l6.1-10.55h-12.2z"/><path d="M629.2 1671.3l6.1-10.55h-12.2z"/><path d="M640.2 1670.7l6.1-10.55h-12.2z"/><path d="M653.1 1671.3l6.1-10.55h-12.2z"/><path d="M662.9 1635.3l6.1-10.55h-12.2z"/><path d="M674.5 1629.2l6.1-10.55h-12.2z"/><path d="M685.6 1626.8l6.1-10.55h-12.2z"/><path d="M696 1610.3l6.1-10.55h-12.2z"/><path d="M708 1606.5l6.1-10.55h-12.2z"/><path d="M719.3 1627l6.1-10.55h-12.2z"/><path d="M730 1591.5l6.1-10.55h-12.2z"/><path d="M741.8 1609.9l6.1-10.55h-12.2z"/><path d="M753 1594.6l6.1-10.55h-12.2z"/><path d="M763.7 1596.7l6.1-10.55h-12.2z"/><path d="M775.2 1574.9l6.1-10.55h-12.2z"/><path d="M786.2 1574.9l6.1-10.55h-12.2z"/><path d="M797.9 1570.5l6.1-10.55h-12.2z"/><path d="M808.9 1570.5l6.1-10.55h-12.2z"/><path d="M819.4 1548.6l6.1-10.55h-12.2z"/><path d="M830.5 1548.1l6.1-10.55h-12.2z"/><path d="M842.1 1548.1l6.1-10.55h-12.2z"/><path d="M853 1549.4l6.1-10.55h-12.2z"/><path d="M864.4 1523.7l6.1-10.55h-12.2z"/><path d="M876 1531.5l6.1-10.55h-12.2z"/><path d="M887 1524.4l6.1-10.55h-12.2z"/><path d="M898.3 1510l6.1-10.55h-12.2z"/><path d="M909 1492.9l6.1-10.55h-12.2z"/><path d="M920.6 1480.6l6.1-10.55h-12.2z"/><path d="M931.5 1481.8l6.1-10.55h-12.2z"/><path d="M942.6 1478.8l6.1-10.55h-12.2z"/><path d="M953.7 1477.8l6.1-10.55h-12.2z"/><path d="M964.9 1478.6l6.1-10.55h-12.2z"/><path d="M976.5 1486l6.1-10.55h-12.2z"/><path d="M987.6 1474.7l6.1-10.55h-12.2z"/><path d="M998.6 1479.9l6.1-10.55h-12.2z"/><path d="M1009.9 1466.8l6.1-10.55h-12.2z"/><path d="M1021.2 1480.5l6.1-10.55h-12.2z"/><path d="M1032.2 1476l6.1-10.55h-12.2z"/><path d="M1043.5 1464.2l6.1-10.55h-12.2z"/><path d="M1054.6 1475.2l6.1-10.55h-12.2z"/><path d="M1065.9 1466.3l6.1-10.55h-12.2z"/><path d="M1076.9 1470.7l6.1-10.55h-12.2z"/><path d="M1088 1466.3l6.1-10.55h-12.2z"/><path d="M1099.5 1449.7l6.1-10.55h-12.2z"/><path d="M1110.6 1423.4l6.1-10.55h-12.2z"/><path d="M1121.7 1420.8l6.1-10.55h-12.2z"/><path d="M1132.8 1433.9l6.1-10.55h-12.2z"/><path d="M1144.1 1443.1l6.1-10.55h-12.2z"/><path d="M1155.3 1444.4l6.1-10.55h-12.2z"/><path d="M1166.5 1456.3l6.1-10.55h-12.2z"/><path d="M1177.6 1435.8l6.1-10.55h-12.2z"/><path d="M1188.8 1419.4l6.1-10.55h-12.2z"/><path d="M1199.9 1416l6.1-10.55h-12.2z"/><path d="M1211.2 1416.8l6.1-10.55h-12.2z"/><path d="M1222.2 1416.1l6.1-10.55h-12.2z"/><path d="M1233.5 1407.3l6.1-10.55h-12.2z"/><path d="M1244.7 1408.5l6.1-10.55h-12.2z"/><path d="M1255.9 1411l6.1-10.55h-12.2z"/><path d="M1267.1 1409l6.1-10.55h-12.2z"/><path d="M1278.2 1393.6l6.1-10.55h-12.2z"/><path d="M1289.4 1384.1l6.1-10.55h-12.2z"/><path d="M1300.6 1404.8l6.1-10.55h-12.2z"/><path d="M1311.8 1390.3l6.1-10.55h-12.2z"/></g><g fill="#ff0000" stroke="#edb120" stroke-width="1.3"><path d="M211.6 1839.2l-10.55 6.1v-12.2z"/><path d="M231.7 1837.5l-10.55 6.1v-12.2z"/><path d="M250.1 1819.5l-10.55 6.1v-12.2z"/><path d="M266.9 1815.2l-10.55 6.1v-12.2z"/><path d="M282.5 1804.3l-10.55 6.1v-12.2z"/><path d="M297.1 1801.3l-10.55 6.1v-12.2z"/><path d="M310.7 1796.2l-10.55 6.1v-12.2z"/><path d="M323.4 1779.8l-10.55 6.1v-12.2z"/><path d="M335.5 1777.2l-10.55 6.1v-12.2z"/><path d="M346.9 1782.3l-10.55 6.1v-12.2z"/><path d="M357.7 1772.9l-10.55 6.1v-12.2z"/><path d="M367.9 1759.5l-10.55 6.1v-12.2z"/><path d="M377.7 1762l-10.55 6.1v-12.2z"/><path d="M387.1 1765.8l-10.55 6.1v-12.2z"/><path d="M404.7 1751.9l-10.55 6.1v-12.2z"/><path d="M412.9 1747.3l-10.55 6.1v-12.2z"/><path d="M420.9 1743.5l-10.55 6.1v-12.2z"/><path d="M435.9 1728.3l-10.55 6.1v-12.2z"/><path d="M443.1 1739l-10.55 6.1v-12.2z"/><path d="M456.7 1716.9l-10.55 6.1v-12.2z"/><path d="M469.5 1721.7l-10.55 6.1v-12.2z"/><path d="M481.5 1726.9l-10.55 6.1v-12.2z"/><path d="M492.9 1716.9l-10.55 6.1v-12.2z"/><path d="M503.7 1716.4l-10.55 6.1v-12.2z"/><path d="M514 1709.8l-10.55 6.1v-12.2z"/><path d="M523.8 1704.1l-10.55 6.1v-12.2z"/><path d="M537.7 1705.1l-10.55 6.1v-12.2z"/><path d="M546.4 1688.8l-10.55 6.1v-12.2z"/><path d="M559 1690.1l-10.55 6.1v-12.2z"/><path d="M570.8 1682.2l-10.55 6.1v-12.2z"/><path d="M582 1666.5l-10.55 6.1v-12.2z"/><path d="M592.6 1683.6l-10.55 6.1v-12.2z"/><path d="M602.7 1667.8l-10.55 6.1v-12.2z"/><path d="M615.5 1653.3l-10.55 6.1v-12.2z"/><path d="M624.6 1651.5l-10.55 6.1v-12.2z"/><path d="M636.1 1656l-10.55 6.1v-12.2z"/><path d="M647.1 1657.3l-10.55 6.1v-12.2z"/><path d="M660 1658.6l-10.55 6.1v-12.2z"/><path d="M669.8 1613.9l-10.55 6.1v-12.2z"/><path d="M681.4 1606l-10.55 6.1v-12.2z"/><path d="M692.5 1605.4l-10.55 6.1v-12.2z"/><path d="M702.9 1586.7l-10.55 6.1v-12.2z"/><path d="M714.9 1583.3l-10.55 6.1v-12.2z"/><path d="M726.2 1612.2l-10.55 6.1v-12.2z"/><path d="M736.9 1571.4l-10.55 6.1v-12.2z"/><path d="M748.7 1595.1l-10.55 6.1v-12.2z"/><path d="M759.9 1579.3l-10.55 6.1v-12.2z"/><path d="M770.6 1583.3l-10.55 6.1v-12.2z"/><path d="M782.1 1554.4l-10.55 6.1v-12.2z"/><path d="M793.1 1553l-10.55 6.1v-12.2z"/><path d="M804.8 1557l-10.55 6.1v-12.2z"/><path d="M815.8 1558.3l-10.55 6.1v-12.2z"/><path d="M826.3 1530.2l-10.55 6.1v-12.2z"/><path d="M837.4 1534.6l-10.55 6.1v-12.2z"/><path d="M849 1532.5l-10.55 6.1v-12.2z"/><path d="M859.9 1536.7l-10.55 6.1v-12.2z"/><path d="M871.3 1504.4l-10.55 6.1v-12.2z"/><path d="M882.9 1518.3l-10.55 6.1v-12.2z"/><path d="M893.9 1511l-10.55 6.1v-12.2z"/><path d="M905.2 1495.2l-10.55 6.1v-12.2z"/><path d="M915.9 1479.4l-10.55 6.1v-12.2z"/><path d="M927.5 1465.8l-10.55 6.1v-12.2z"/><path d="M938.4 1467l-10.55 6.1v-12.2z"/><path d="M949.5 1463.7l-10.55 6.1v-12.2z"/><path d="M960.6 1459.9l-10.55 6.1v-12.2z"/><path d="M971.8 1463.8l-10.55 6.1v-12.2z"/><path d="M983.4 1473.6l-10.55 6.1v-12.2z"/><path d="M994.5 1462.5l-10.55 6.1v-12.2z"/><path d="M1005.5 1469.1l-10.55 6.1v-12.2z"/><path d="M1016.8 1453.3l-10.55 6.1v-12.2z"/><path d="M1028.1 1469.1l-10.55 6.1v-12.2z"/><path d="M1039.1 1466.5l-10.55 6.1v-12.2z"/><path d="M1050.4 1450.7l-10.55 6.1v-12.2z"/><path d="M1061.5 1465.1l-10.55 6.1v-12.2z"/><path d="M1072.8 1455.2l-10.55 6.1v-12.2z"/><path d="M1083.8 1459.9l-10.55 6.1v-12.2z"/><path d="M1094.9 1456.5l-10.55 6.1v-12.2z"/><path d="M1106.4 1437.5l-10.55 6.1v-12.2z"/><path d="M1117.5 1408.6l-10.55 6.1v-12.2z"/><path d="M1128.6 1405.2l-10.55 6.1v-12.2z"/><path d="M1139.7 1419.9l-10.55 6.1v-12.2z"/><path d="M1151 1432.3l-10.55 6.1v-12.2z"/><path d="M1162.2 1433.6l-10.55 6.1v-12.2z"/><path d="M1173.4 1445.4l-10.55 6.1v-12.2z"/><path d="M1184.5 1423.6l-10.55 6.1v-12.2z"/><path d="M1195.7 1406.3l-10.55 6.1v-12.2z"/><path d="M1206.8 1403l-10.55 6.1v-12.2z"/><path d="M1218.1 1403.7l-10.55 6.1v-12.2z"/><path d="M1229.1 1403.7l-10.55 6.1v-12.2z"/><path d="M1240.4 1396.6l-10.55 6.1v-12.2z"/><path d="M1251.6 1398.3l-10.55 6.1v-12.2z"/><path d="M1262.8 1399.3l-10.55 6.1v-12.2z"/><path d="M1274 1397.1l-10.55 6.1v-12.2z"/><path d="M1285.1 1383l-10.55 6.1v-12.2z"/><path d="M1296.3 1373.1l-10.55 6.1v-12.2z"/><path d="M1307.5 1396.3l-10.55 6.1v-12.2z"/><path d="M1318.7 1379.2l-10.55 6.1v-12.2z"/></g><g fill="#00ffff" stroke="#7e2f8e" stroke-width="1.3"><path d="M197.8 1829.1l10.55 6.1v-12.2z"/><path d="M217.9 1827.3l10.55 6.1v-12.2z"/><path d="M236.3 1810.1l10.55 6.1v-12.2z"/><path d="M253.1 1804.3l10.55 6.1v-12.2z"/><path d="M268.7 1794.2l10.55 6.1v-12.2z"/><path d="M283.3 1791.1l10.55 6.1v-12.2z"/><path d="M296.9 1786.1l10.55 6.1v-12.2z"/><path d="M309.6 1767.1l10.55 6.1v-12.2z"/><path d="M321.7 1763.3l10.55 6.1v-12.2z"/><path d="M333.1 1773.4l10.55 6.1v-12.2z"/><path d="M343.9 1762l10.55 6.1v-12.2z"/><path d="M354.1 1746.8l10.55 6.1v-12.2z"/><path d="M363.9 1750.6l10.55 6.1v-12.2z"/><path d="M373.3 1756.2l10.55 6.1v-12.2z"/><path d="M390.9 1740.5l10.55 6.1v-12.2z"/><path d="M399.1 1738l10.55 6.1v-12.2z"/><path d="M407.1 1734.2l10.55 6.1v-12.2z"/><path d="M422.1 1714.7l10.55 6.1v-12.2z"/><path d="M429.3 1729.9l10.55 6.1v-12.2z"/><path d="M442.9 1704.1l10.55 6.1v-12.2z"/><path d="M455.7 1709.8l10.55 6.1v-12.2z"/><path d="M467.7 1717.7l10.55 6.1v-12.2z"/><path d="M479.1 1707.2l10.55 6.1v-12.2z"/><path d="M489.9 1707.2l10.55 6.1v-12.2z"/><path d="M500.2 1702l10.55 6.1v-12.2z"/><path d="M510 1695.4l10.55 6.1v-12.2z"/><path d="M523.9 1698l10.55 6.1v-12.2z"/><path d="M532.6 1679.6l10.55 6.1v-12.2z"/><path d="M545.2 1681.5l10.55 6.1v-12.2z"/><path d="M557 1675.7l10.55 6.1v-12.2z"/><path d="M568.2 1654.6l10.55 6.1v-12.2z"/><path d="M578.8 1677l10.55 6.1v-12.2z"/><path d="M588.9 1659.9l10.55 6.1v-12.2z"/><path d="M601.7 1642.8l10.55 6.1v-12.2z"/><path d="M610.8 1642l10.55 6.1v-12.2z"/><path d="M622.3 1649.4l10.55 6.1v-12.2z"/><path d="M633.3 1650.7l10.55 6.1v-12.2z"/><path d="M646.2 1652.5l10.55 6.1v-12.2z"/><path d="M656 1602.6l10.55 6.1v-12.2z"/><path d="M667.6 1595.5l10.55 6.1v-12.2z"/><path d="M678.7 1597l10.55 6.1v-12.2z"/><path d="M689.1 1576.2l10.55 6.1v-12.2z"/><path d="M701.1 1572.8l10.55 6.1v-12.2z"/><path d="M712.4 1607.5l10.55 6.1v-12.2z"/><path d="M723.1 1563.6l10.55 6.1v-12.2z"/><path d="M734.9 1589.8l10.55 6.1v-12.2z"/><path d="M746.1 1569.6l10.55 6.1v-12.2z"/><path d="M756.8 1575.4l10.55 6.1v-12.2z"/><path d="M768.3 1545.2l10.55 6.1v-12.2z"/><path d="M779.3 1543.8l10.55 6.1v-12.2z"/><path d="M791 1550.4l10.55 6.1v-12.2z"/><path d="M802 1553.6l10.55 6.1v-12.2z"/><path d="M812.5 1521.5l10.55 6.1v-12.2z"/><path d="M823.6 1528.1l10.55 6.1v-12.2z"/><path d="M835.2 1524.1l10.55 6.1v-12.2z"/><path d="M846.1 1530.7l10.55 6.1v-12.2z"/><path d="M857.5 1498.4l10.55 6.1v-12.2z"/><path d="M869.1 1512.3l10.55 6.1v-12.2z"/><path d="M880.1 1504.4l10.55 6.1v-12.2z"/><path d="M891.4 1488.6l10.55 6.1v-12.2z"/><path d="M902.1 1474.7l10.55 6.1v-12.2z"/><path d="M913.7 1460.5l10.55 6.1v-12.2z"/><path d="M924.6 1460.9l10.55 6.1v-12.2z"/><path d="M935.7 1457.4l10.55 6.1v-12.2z"/><path d="M946.8 1452.5l10.55 6.1v-12.2z"/><path d="M958 1458.6l10.55 6.1v-12.2z"/><path d="M969.6 1468.3l10.55 6.1v-12.2z"/><path d="M980.7 1457.3l10.55 6.1v-12.2z"/><path d="M991.7 1465.1l10.55 6.1v-12.2z"/><path d="M1003 1447.5l10.55 6.1v-12.2z"/><path d="M1014.3 1463.8l10.55 6.1v-12.2z"/><path d="M1025.3 1463.8l10.55 6.1v-12.2z"/><path d="M1036.6 1444.1l10.55 6.1v-12.2z"/><path d="M1047.7 1462l10.55 6.1v-12.2z"/><path d="M1059 1450.2l10.55 6.1v-12.2z"/><path d="M1070 1456.5l10.55 6.1v-12.2z"/><path d="M1081.1 1453.3l10.55 6.1v-12.2z"/><path d="M1092.6 1431.5l10.55 6.1v-12.2z"/><path d="M1103.7 1402.1l10.55 6.1v-12.2z"/><path d="M1114.8 1398.9l10.55 6.1v-12.2z"/><path d="M1125.9 1413.9l10.55 6.1v-12.2z"/><path d="M1137.2 1428.3l10.55 6.1v-12.2z"/><path d="M1148.4 1428.9l10.55 6.1v-12.2z"/><path d="M1159.6 1441.5l10.55 6.1v-12.2z"/><path d="M1170.7 1418.1l10.55 6.1v-12.2z"/><path d="M1181.9 1401.4l10.55 6.1v-12.2z"/><path d="M1193 1397.4l10.55 6.1v-12.2z"/><path d="M1204.3 1398.8l10.55 6.1v-12.2z"/><path d="M1215.3 1399.6l10.55 6.1v-12.2z"/><path d="M1226.6 1393.3l10.55 6.1v-12.2z"/><path d="M1237.8 1395l10.55 6.1v-12.2z"/><path d="M1249 1395.5l10.55 6.1v-12.2z"/><path d="M1260.2 1393l10.55 6.1v-12.2z"/><path d="M1271.3 1381.1l10.55 6.1v-12.2z"/><path d="M1282.5 1370.1l10.55 6.1v-12.2z"/><path d="M1293.7 1393.3l10.55 6.1v-12.2z"/><path d="M1304.9 1375.6l10.55 6.1v-12.2z"/></g><path d="M141.0 2287.5V1293.0H1405.0" fill="none" stroke="#363636" stroke-width="2" stroke-linejoin="miter"/><path d="M1404.5 1293.0V2287.4" fill="none" stroke="#262626" stroke-width="1"/><path d="M140.0 2286.75H1405.0" fill="none" stroke="#2c2c2c" stroke-width="1.5"/><path d="M351.17 2287.0v-13M351.17 1293.0v13M561.83 2287.0v-13M561.83 1293.0v13M772.50 2287.0v-13M772.50 1293.0v13M983.17 2287.0v-13M983.17 1293.0v13M1193.83 2287.0v-13M1193.83 1293.0v13M141.0 2177.5h13M1405.0 2177.5h-13M141.0 2066.5h13M1405.0 2066.5h-13M141.0 1956.5h13M1405.0 1956.5h-13M141.0 1845.5h13M1405.0 1845.5h-13M141.0 1735.5h13M1405.0 1735.5h-13M141.0 1624.5h13M1405.0 1624.5h-13M141.0 1514.5h13M1405.0 1514.5h-13M141.0 1403.5h13M1405.0 1403.5h-13" fill="none" stroke="#202020" stroke-width="1"/><g font-size="41.7" fill="#262626"><text transform="translate(141.0 2345.3) scale(1 1.055)" text-anchor="middle">2</text><text transform="translate(351.7 2345.3) scale(1 1.055)" text-anchor="middle">3</text><text transform="translate(562.3 2345.3) scale(1 1.055)" text-anchor="middle">4</text><text transform="translate(773.0 2345.3) scale(1 1.055)" text-anchor="middle">5</text><text transform="translate(983.7 2345.3) scale(1 1.055)" text-anchor="middle">6</text><text transform="translate(1194.3 2345.3) scale(1 1.055)" text-anchor="middle">7</text><text transform="translate(1405.0 2345.3) scale(1 1.055)" text-anchor="middle">8</text><text transform="translate(126 2303.9) scale(1 1.055)" text-anchor="end">1</text><text transform="translate(126 2193.5) scale(1 1.055)" text-anchor="end">2</text><text transform="translate(126 2083.0) scale(1 1.055)" text-anchor="end">3</text><text transform="translate(126 1972.6) scale(1 1.055)" text-anchor="end">4</text><text transform="translate(126 1862.1) scale(1 1.055)" text-anchor="end">5</text><text transform="translate(126 1751.7) scale(1 1.055)" text-anchor="end">6</text><text transform="translate(126 1641.2) scale(1 1.055)" text-anchor="end">7</text><text transform="translate(126 1530.8) scale(1 1.055)" text-anchor="end">8</text><text transform="translate(126 1420.3) scale(1 1.055)" text-anchor="end">9</text><text transform="translate(126 1309.9) scale(1 1.055)" text-anchor="end">10</text></g><text x="773.0" y="2406.3" font-size="47.9" fill="#262626" text-anchor="middle">lg(s)</text><text transform="translate(58.9 1789.5) rotate(-90)" font-size="47.9" fill="#262626" text-anchor="middle">lg(Fq)</text><text transform="translate(773.3 1280.4) scale(1 1.035)" font-size="47.75" fill="#000" text-anchor="middle">(b) TBT</text><rect x="1022.5" y="1727.5" width="360.0" height="537.0" fill="#fff" stroke="#262626" stroke-width="1.2"/><g font-size="30.05" fill="#000"><g fill="#0000ff" stroke="#0060d8" stroke-width="1.2"><circle cx="1072" cy="1755" r="5.45"/></g><text transform="translate(1119 1771.7) scale(1 1.045)">q=-10, R<tspan font-size="22.6" dy="-14.8">2</tspan><tspan dy="14.8">=0.97414</tspan></text><path fill="none" stroke="#d95319" stroke-width="1.5" d="M1066.5 1803.2h11M1072 1797.7v11"/><text transform="translate(1119 1819.9) scale(1 1.045)">q=-8, R<tspan font-size="22.6" dy="-14.8">2</tspan><tspan dy="14.8">=0.97508</tspan></text><path fill="none" stroke="#edb120" stroke-width="1.4" d="M1066.6 1851.3h10.8M1072 1845.9v10.8M1068.1 1847.4l7.8 7.8M1068.1 1855.2l7.8-7.8"/><text transform="translate(1119 1868.0) scale(1 1.045)">q=-6, R<tspan font-size="22.6" dy="-14.8">2</tspan><tspan dy="14.8">=0.97714</tspan></text><g fill="#7e2f8e"><circle cx="1072" cy="1899.5" r="1.55"/></g><text transform="translate(1119 1916.2) scale(1 1.045)">q=-4, R<tspan font-size="22.6" dy="-14.8">2</tspan><tspan dy="14.8">=0.98127</tspan></text><path fill="none" stroke="#77ac30" stroke-width="1.4" d="M1068.2 1943.8l7.6 7.6M1068.2 1951.4l7.6-7.6"/><text transform="translate(1119 1964.3) scale(1 1.045)">q=-2, R<tspan font-size="22.6" dy="-14.8">2</tspan><tspan dy="14.8">=0.98617</tspan></text><g fill="#ffff00" stroke="#4dbeee" stroke-width="1.3"><path d="M1067.7 1991.5h8.6v8.6h-8.6z"/></g><text transform="translate(1119 2012.5) scale(1 1.045)">q=0, R<tspan font-size="22.6" dy="-14.8">2</tspan><tspan dy="14.8">=0.98799</tspan></text><g fill="#000" stroke="#a2142f" stroke-width="1.3"><path d="M1072 2036.8l5.4 7.1-5.4 7.1-5.4-7.1z"/></g><text transform="translate(1119 2060.6) scale(1 1.045)">q=2, R<tspan font-size="22.6" dy="-14.8">2</tspan><tspan dy="14.8">=0.98794</tspan></text><g fill="#0000ff" stroke="#0072bd" stroke-width="1.3"><path d="M1072 2085.1l6.1 10.55h-12.2z"/></g><text transform="translate(1119 2108.8) scale(1 1.045)">q=4, R<tspan font-size="22.6" dy="-14.8">2</tspan><tspan dy="14.8">=0.98651</tspan></text><g fill="#00ff00" stroke="#d95319" stroke-width="1.3"><path d="M1072 2147.1l6.1-10.55h-12.2z"/></g><text transform="translate(1119 2156.9) scale(1 1.045)">q=6, R<tspan font-size="22.6" dy="-14.8">2</tspan><tspan dy="14.8">=0.98421</tspan></text><g fill="#ff0000" stroke="#edb120" stroke-width="1.3"><path d="M1078.9 2188.3l-10.55 6.1v-12.2z"/></g><text transform="translate(1119 2205.1) scale(1 1.045)">q=8, R<tspan font-size="22.6" dy="-14.8">2</tspan><tspan dy="14.8">=0.98181</tspan></text><g fill="#00ffff" stroke="#7e2f8e" stroke-width="1.3"><path d="M1065.1 2236.5l10.55 6.1v-12.2z"/></g><text transform="translate(1119 2253.2) scale(1 1.045)">q=10, R<tspan font-size="22.6" dy="-14.8">2</tspan><tspan dy="14.8">=0.97975</tspan></text></g></g><g><g fill="#0000ff" stroke="#0060d8" stroke-width="1.2"><circle cx="204.7" cy="3448.6" r="5.45"/><circle cx="224.8" cy="3421.5" r="5.45"/><circle cx="243.2" cy="3362.5" r="5.45"/><circle cx="260" cy="3362.5" r="5.45"/><circle cx="275.6" cy="3374.2" r="5.45"/><circle cx="290.2" cy="3339.2" r="5.45"/><circle cx="303.8" cy="3325.3" r="5.45"/><circle cx="316.5" cy="3326.6" r="5.45"/><circle cx="328.6" cy="3336.7" r="5.45"/><circle cx="340" cy="3290.6" r="5.45"/><circle cx="350.8" cy="3275.9" r="5.45"/><circle cx="361" cy="3261.5" r="5.45"/><circle cx="370.8" cy="3308.9" r="5.45"/><circle cx="380.2" cy="3255.7" r="5.45"/><circle cx="397.8" cy="3275.4" r="5.45"/><circle cx="406" cy="3224.6" r="5.45"/><circle cx="414" cy="3268.9" r="5.45"/><circle cx="429" cy="3230.9" r="5.45"/><circle cx="436.2" cy="3200.2" r="5.45"/><circle cx="449.8" cy="3146.5" r="5.45"/><circle cx="462.6" cy="3172.2" r="5.45"/><circle cx="474.6" cy="3138.6" r="5.45"/><circle cx="486" cy="3156.5" r="5.45"/><circle cx="496.8" cy="3192" r="5.45"/><circle cx="507.1" cy="3123.4" r="5.45"/><circle cx="516.9" cy="3168.3" r="5.45"/><circle cx="530.8" cy="3108.4" r="5.45"/><circle cx="539.5" cy="3091.3" r="5.45"/><circle cx="552.1" cy="3096" r="5.45"/><circle cx="563.9" cy="3070.2" r="5.45"/><circle cx="575.1" cy="3057.6" r="5.45"/><circle cx="585.7" cy="3075" r="5.45"/><circle cx="595.8" cy="3076.3" r="5.45"/><circle cx="608.6" cy="3045.3" r="5.45"/><circle cx="617.7" cy="3060.5" r="5.45"/><circle cx="629.2" cy="3051.8" r="5.45"/><circle cx="640.2" cy="3026.4" r="5.45"/><circle cx="653.1" cy="3048.4" r="5.45"/><circle cx="662.9" cy="3041.9" r="5.45"/><circle cx="674.5" cy="3008.5" r="5.45"/><circle cx="685.6" cy="2998.8" r="5.45"/><circle cx="696" cy="3035.6" r="5.45"/><circle cx="708" cy="3029.1" r="5.45"/><circle cx="719.3" cy="2987.1" r="5.45"/><circle cx="730" cy="3001.5" r="5.45"/><circle cx="741.8" cy="3004.1" r="5.45"/><circle cx="753" cy="2951.6" r="5.45"/><circle cx="763.7" cy="2948.4" r="5.45"/><circle cx="775.2" cy="2965.5" r="5.45"/><circle cx="786.2" cy="2939.7" r="5.45"/><circle cx="797.9" cy="2948.1" r="5.45"/><circle cx="808.9" cy="2941.1" r="5.45"/><circle cx="819.4" cy="2937.1" r="5.45"/><circle cx="830.5" cy="2921.9" r="5.45"/><circle cx="842.1" cy="2937.6" r="5.45"/><circle cx="853" cy="2885.1" r="5.45"/><circle cx="864.4" cy="2885.8" r="5.45"/><circle cx="876" cy="2888.5" r="5.45"/><circle cx="887" cy="2894.5" r="5.45"/><circle cx="898.3" cy="2864.8" r="5.45"/><circle cx="909" cy="2871.4" r="5.45"/><circle cx="920.6" cy="2920" r="5.45"/><circle cx="931.5" cy="2829.3" r="5.45"/><circle cx="942.6" cy="2874.8" r="5.45"/><circle cx="953.7" cy="2816.9" r="5.45"/><circle cx="964.9" cy="2811.6" r="5.45"/><circle cx="976.5" cy="2799.8" r="5.45"/><circle cx="987.6" cy="2785.3" r="5.45"/><circle cx="998.6" cy="2794.5" r="5.45"/><circle cx="1009.9" cy="2786.6" r="5.45"/><circle cx="1021.2" cy="2807.7" r="5.45"/><circle cx="1032.2" cy="2824.8" r="5.45"/><circle cx="1043.5" cy="2765.6" r="5.45"/><circle cx="1054.6" cy="2790.6" r="5.45"/><circle cx="1065.9" cy="2757.7" r="5.45"/><circle cx="1076.9" cy="2750.6" r="5.45"/><circle cx="1088" cy="2772.2" r="5.45"/><circle cx="1099.5" cy="2760.9" r="5.45"/><circle cx="1110.6" cy="2743.8" r="5.45"/><circle cx="1121.7" cy="2722.8" r="5.45"/><circle cx="1132.8" cy="2754.6" r="5.45"/><circle cx="1144.1" cy="2756.4" r="5.45"/><circle cx="1155.3" cy="2722.2" r="5.45"/><circle cx="1166.5" cy="2722.8" r="5.45"/><circle cx="1177.6" cy="2722.3" r="5.45"/><circle cx="1188.8" cy="2728.9" r="5.45"/><circle cx="1199.9" cy="2718.2" r="5.45"/><circle cx="1211.2" cy="2706.6" r="5.45"/><circle cx="1222.2" cy="2723.1" r="5.45"/><circle cx="1233.5" cy="2703.3" r="5.45"/><circle cx="1244.7" cy="2697.5" r="5.45"/><circle cx="1255.9" cy="2708.2" r="5.45"/><circle cx="1267.1" cy="2695" r="5.45"/><circle cx="1278.2" cy="2675.9" r="5.45"/><circle cx="1289.4" cy="2675.1" r="5.45"/><circle cx="1300.6" cy="2680.9" r="5.45"/><circle cx="1311.8" cy="2690.3" r="5.45"/></g><path fill="none" stroke="#d95319" stroke-width="1.5" d="M199.2 3430.4h11M204.7 3424.9v11M219.3 3403.8h11M224.8 3398.3v11M237.7 3348.9h11M243.2 3343.4v11M254.5 3347.6h11M260 3342.1v11M270.1 3358.2h11M275.6 3352.7v11M284.7 3324.1h11M290.2 3318.6v11M298.3 3310.6h11M303.8 3305.1v11M311 3310.6h11M316.5 3305.1v11M323.1 3319.7h11M328.6 3314.2v11M334.5 3276.5h11M340 3271v11M345.3 3260.8h11M350.8 3255.3v11M355.5 3247.3h11M361 3241.8v11M365.3 3290.4h11M370.8 3284.9v11M374.7 3240.5h11M380.2 3235v11M392.3 3260.8h11M397.8 3255.3v11M400.5 3212.2h11M406 3206.7v11M408.5 3252.4h11M414 3246.9v11M423.5 3214.1h11M429 3208.6v11M430.7 3187.2h11M436.2 3181.7v11M444.3 3136.8h11M449.8 3131.3v11M457.1 3158.3h11M462.6 3152.8v11M469.1 3128.9h11M474.6 3123.4v11M480.5 3142.5h11M486 3137v11M491.3 3176.2h11M496.8 3170.7v11M501.6 3113.6h11M507.1 3108.1v11M511.4 3153.1h11M516.9 3147.6v11M525.3 3098.6h11M530.8 3093.1v11M534 3081.6h11M539.5 3076.1v11M546.6 3086h11M552.1 3080.5v11M558.4 3063.7h11M563.9 3058.2v11M569.6 3051.8h11M575.1 3046.3v11M580.2 3064.5h11M585.7 3059v11M590.3 3064.5h11M595.8 3059v11M603.1 3038.2h11M608.6 3032.7v11M612.2 3050.5h11M617.7 3045v11M623.7 3043.4h11M629.2 3037.9v11M634.7 3020.3h11M640.2 3014.8v11M647.6 3038.7h11M653.1 3033.2v11M657.4 3030.8h11M662.9 3025.3v11M669 3001.9h11M674.5 2996.4v11M680.1 2993.8h11M685.6 2988.3v11M690.5 3024.1h11M696 3018.6v11M702.5 3017.3h11M708 3011.8v11M713.8 2980.5h11M719.3 2975v11M724.5 2991h11M730 2985.5v11M736.3 2995.5h11M741.8 2990v11M747.5 2945.5h11M753 2940v11M758.2 2941.8h11M763.7 2936.3v11M769.7 2956.8h11M775.2 2951.3v11M780.7 2934.5h11M786.2 2929v11M792.4 2938.4h11M797.9 2932.9v11M803.4 2930.5h11M808.9 2925v11M813.9 2927.9h11M819.4 2922.4v11M825 2914.8h11M830.5 2909.3v11M836.6 2929.2h11M842.1 2923.7v11M847.5 2879.8h11M853 2874.3v11M858.9 2880.6h11M864.4 2875.1v11M870.5 2883.2h11M876 2877.7v11M881.5 2885.1h11M887 2879.6v11M892.8 2858.2h11M898.3 2852.7v11M903.5 2862.2h11M909 2856.7v11M915.1 2909h11M920.6 2903.5v11M926 2825.1h11M931.5 2819.6v11M937.1 2866.5h11M942.6 2861v11M948.2 2811.6h11M953.7 2806.1v11M959.4 2805.8h11M964.9 2800.3v11M971 2794.5h11M976.5 2789v11M982.1 2781.9h11M987.6 2776.4v11M993.1 2789.8h11M998.6 2784.3v11M1004.4 2781.4h11M1009.9 2775.9v11M1015.7 2801.9h11M1021.2 2796.4v11M1026.7 2817.7h11M1032.2 2812.2v11M1038 2762.5h11M1043.5 2757v11M1049.1 2782.7h11M1054.6 2777.2v11M1060.4 2754.3h11M1065.9 2748.8v11M1071.4 2748h11M1076.9 2742.5v11M1082.5 2766.9h11M1088 2761.4v11M1094 2757.2h11M1099.5 2751.7v11M1105.1 2741.2h11M1110.6 2735.7v11M1116.2 2720.9h11M1121.7 2715.4v11M1127.3 2750.4h11M1132.8 2744.9v11M1138.6 2751.9h11M1144.1 2746.4v11M1149.8 2719.6h11M1155.3 2714.1v11M1161 2720.1h11M1166.5 2714.6v11M1172.1 2719.5h11M1177.6 2714v11M1183.3 2726.1h11M1188.8 2720.6v11M1194.4 2715.7h11M1199.9 2710.2v11M1205.7 2704.4h11M1211.2 2698.9v11M1216.7 2719.8h11M1222.2 2714.3v11M1228 2701.6h11M1233.5 2696.1v11M1239.2 2695h11M1244.7 2689.5v11M1250.4 2704.9h11M1255.9 2699.4v11M1261.6 2692.5h11M1267.1 2687v11M1272.7 2673.8h11M1278.2 2668.3v11M1283.9 2673h11M1289.4 2667.5v11M1295.1 2677.9h11M1300.6 2672.4v11M1306.3 2686.7h11M1311.8 2681.2v11"/><path fill="none" stroke="#edb120" stroke-width="1.4" d="M199.3 3402.5h10.8M204.7 3397.1v10.8M200.8 3398.6l7.8 7.8M200.8 3406.4l7.8-7.8M219.4 3378h10.8M224.8 3372.6v10.8M220.9 3374.1l7.8 7.8M220.9 3381.9l7.8-7.8M237.8 3329.1h10.8M243.2 3323.7v10.8M239.3 3325.2l7.8 7.8M239.3 3333l7.8-7.8M254.6 3325.3h10.8M260 3319.9v10.8M256.1 3321.4l7.8 7.8M256.1 3329.2l7.8-7.8M270.2 3334.2h10.8M275.6 3328.8v10.8M271.7 3330.3l7.8 7.8M271.7 3338.1l7.8-7.8M284.8 3300.8h10.8M290.2 3295.4v10.8M286.3 3296.9l7.8 7.8M286.3 3304.7l7.8-7.8M298.4 3287.8h10.8M303.8 3282.4v10.8M299.9 3283.9l7.8 7.8M299.9 3291.7l7.8-7.8M311.1 3286.6h10.8M316.5 3281.2v10.8M312.6 3282.7l7.8 7.8M312.6 3290.5l7.8-7.8M323.2 3293.7h10.8M328.6 3288.3v10.8M324.7 3289.8l7.8 7.8M324.7 3297.6l7.8-7.8M334.6 3255.7h10.8M340 3250.3v10.8M336.1 3251.8l7.8 7.8M336.1 3259.6l7.8-7.8M345.4 3238h10.8M350.8 3232.6v10.8M346.9 3234.1l7.8 7.8M346.9 3241.9l7.8-7.8M355.6 3225.5h10.8M361 3220.1v10.8M357.1 3221.6l7.8 7.8M357.1 3229.4l7.8-7.8M365.4 3261.5h10.8M370.8 3256.1v10.8M366.9 3257.6l7.8 7.8M366.9 3265.4l7.8-7.8M374.8 3217.7h10.8M380.2 3212.3v10.8M376.3 3213.8l7.8 7.8M376.3 3221.6l7.8-7.8M392.4 3237.5h10.8M397.8 3232.1v10.8M393.9 3233.6l7.8 7.8M393.9 3241.4l7.8-7.8M400.6 3194.8h10.8M406 3189.4v10.8M402.1 3190.9l7.8 7.8M402.1 3198.7l7.8-7.8M408.6 3225.9h10.8M414 3220.5v10.8M410.1 3222l7.8 7.8M410.1 3229.8l7.8-7.8M423.6 3187.7h10.8M429 3182.3v10.8M425.1 3183.8l7.8 7.8M425.1 3191.6l7.8-7.8M430.8 3167.8h10.8M436.2 3162.4v10.8M432.3 3163.9l7.8 7.8M432.3 3171.7l7.8-7.8M444.4 3123.6h10.8M449.8 3118.2v10.8M445.9 3119.7l7.8 7.8M445.9 3127.5l7.8-7.8M457.2 3138.6h10.8M462.6 3133.2v10.8M458.7 3134.7l7.8 7.8M458.7 3142.5l7.8-7.8M469.2 3115.7h10.8M474.6 3110.3v10.8M470.7 3111.8l7.8 7.8M470.7 3119.6l7.8-7.8M480.6 3123.4h10.8M486 3118v10.8M482.1 3119.5l7.8 7.8M482.1 3127.3l7.8-7.8M491.4 3152.5h10.8M496.8 3147.1v10.8M492.9 3148.6l7.8 7.8M492.9 3156.4l7.8-7.8M501.7 3100.5h10.8M507.1 3095.1v10.8M503.2 3096.6l7.8 7.8M503.2 3104.4l7.8-7.8M511.5 3130.2h10.8M516.9 3124.8v10.8M513 3126.3l7.8 7.8M513 3134.1l7.8-7.8M525.4 3086.6h10.8M530.8 3081.2v10.8M526.9 3082.7l7.8 7.8M526.9 3090.5l7.8-7.8M534.1 3071h10.8M539.5 3065.6v10.8M535.6 3067.1l7.8 7.8M535.6 3074.9l7.8-7.8M546.7 3073.7h10.8M552.1 3068.3v10.8M548.2 3069.8l7.8 7.8M548.2 3077.6l7.8-7.8M558.5 3056.3h10.8M563.9 3050.9v10.8M560 3052.4l7.8 7.8M560 3060.2l7.8-7.8M569.7 3043.4h10.8M575.1 3038v10.8M571.2 3039.5l7.8 7.8M571.2 3047.3l7.8-7.8M580.3 3049.7h10.8M585.7 3044.3v10.8M581.8 3045.8l7.8 7.8M581.8 3053.6l7.8-7.8M590.4 3047.9h10.8M595.8 3042.5v10.8M591.9 3044l7.8 7.8M591.9 3051.8l7.8-7.8M603.2 3028.7h10.8M608.6 3023.3v10.8M604.7 3024.8l7.8 7.8M604.7 3032.6l7.8-7.8M612.3 3035.6h10.8M617.7 3030.2v10.8M613.8 3031.7l7.8 7.8M613.8 3039.5l7.8-7.8M623.8 3032.9h10.8M629.2 3027.5v10.8M625.3 3029l7.8 7.8M625.3 3036.8l7.8-7.8M634.8 3012.4h10.8M640.2 3007v10.8M636.3 3008.5l7.8 7.8M636.3 3016.3l7.8-7.8M647.7 3025.6h10.8M653.1 3020.2v10.8M649.2 3021.7l7.8 7.8M649.2 3029.5l7.8-7.8M657.5 3017.7h10.8M662.9 3012.3v10.8M659 3013.8l7.8 7.8M659 3021.6l7.8-7.8M669.1 2991.4h10.8M674.5 2986v10.8M670.6 2987.5l7.8 7.8M670.6 2995.3l7.8-7.8M680.2 2986.2h10.8M685.6 2980.8v10.8M681.7 2982.3l7.8 7.8M681.7 2990.1l7.8-7.8M690.6 3005.4h10.8M696 3000v10.8M692.1 3001.5l7.8 7.8M692.1 3009.3l7.8-7.8M702.6 3001.5h10.8M708 2996.1v10.8M704.1 2997.6l7.8 7.8M704.1 3005.4l7.8-7.8M713.9 2970h10.8M719.3 2964.6v10.8M715.4 2966.1l7.8 7.8M715.4 2973.9l7.8-7.8M724.6 2975.8h10.8M730 2970.4v10.8M726.1 2971.9l7.8 7.8M726.1 2979.7l7.8-7.8M736.4 2981.3h10.8M741.8 2975.9v10.8M737.9 2977.4l7.8 7.8M737.9 2985.2l7.8-7.8M747.6 2939.7h10.8M753 2934.3v10.8M749.1 2935.8l7.8 7.8M749.1 2943.6l7.8-7.8M758.3 2932.6h10.8M763.7 2927.2v10.8M759.8 2928.7l7.8 7.8M759.8 2936.5l7.8-7.8M769.8 2948.4h10.8M775.2 2943v10.8M771.3 2944.5l7.8 7.8M771.3 2952.3l7.8-7.8M780.8 2927.9h10.8M786.2 2922.5v10.8M782.3 2924l7.8 7.8M782.3 2931.8l7.8-7.8M792.5 2928.4h10.8M797.9 2923v10.8M794 2924.5l7.8 7.8M794 2932.3l7.8-7.8M803.5 2914.2h10.8M808.9 2908.8v10.8M805 2910.3l7.8 7.8M805 2918.1l7.8-7.8M814 2912.9h10.8M819.4 2907.5v10.8M815.5 2909l7.8 7.8M815.5 2916.8l7.8-7.8M825.1 2902.9h10.8M830.5 2897.5v10.8M826.6 2899l7.8 7.8M826.6 2906.8l7.8-7.8M836.7 2914.8h10.8M842.1 2909.4v10.8M838.2 2910.9l7.8 7.8M838.2 2918.7l7.8-7.8M847.6 2871.4h10.8M853 2866v10.8M849.1 2867.5l7.8 7.8M849.1 2875.3l7.8-7.8M859 2871.4h10.8M864.4 2866v10.8M860.5 2867.5l7.8 7.8M860.5 2875.3l7.8-7.8M870.6 2872.7h10.8M876 2867.3v10.8M872.1 2868.8l7.8 7.8M872.1 2876.6l7.8-7.8M881.6 2871.4h10.8M887 2866v10.8M883.1 2867.5l7.8 7.8M883.1 2875.3l7.8-7.8M892.9 2847.7h10.8M898.3 2842.3v10.8M894.4 2843.8l7.8 7.8M894.4 2851.6l7.8-7.8M903.6 2849h10.8M909 2843.6v10.8M905.1 2845.1l7.8 7.8M905.1 2852.9l7.8-7.8M915.2 2895.6h10.8M920.6 2890.2v10.8M916.7 2891.7l7.8 7.8M916.7 2899.5l7.8-7.8M926.1 2818.2h10.8M931.5 2812.8v10.8M927.6 2814.3l7.8 7.8M927.6 2822.1l7.8-7.8M937.2 2854.4h10.8M942.6 2849v10.8M938.7 2850.5l7.8 7.8M938.7 2858.3l7.8-7.8M948.3 2806.4h10.8M953.7 2801v10.8M949.8 2802.5l7.8 7.8M949.8 2810.3l7.8-7.8M959.5 2799.8h10.8M964.9 2794.4v10.8M961 2795.9l7.8 7.8M961 2803.7l7.8-7.8M971.1 2788.7h10.8M976.5 2783.3v10.8M972.6 2784.8l7.8 7.8M972.6 2792.6l7.8-7.8M982.2 2777.4h10.8M987.6 2772v10.8M983.7 2773.5l7.8 7.8M983.7 2781.3l7.8-7.8M993.2 2785.3h10.8M998.6 2779.9v10.8M994.7 2781.4l7.8 7.8M994.7 2789.2l7.8-7.8M1004.5 2774h10.8M1009.9 2768.6v10.8M1006 2770.1l7.8 7.8M1006 2777.9l7.8-7.8M1015.8 2794.5h10.8M1021.2 2789.1v10.8M1017.3 2790.6l7.8 7.8M1017.3 2798.4l7.8-7.8M1026.8 2806.9h10.8M1032.2 2801.5v10.8M1028.3 2803l7.8 7.8M1028.3 2810.8l7.8-7.8M1038.1 2757.7h10.8M1043.5 2752.3v10.8M1039.6 2753.8l7.8 7.8M1039.6 2761.6l7.8-7.8M1049.2 2772.7h10.8M1054.6 2767.3v10.8M1050.7 2768.8l7.8 7.8M1050.7 2776.6l7.8-7.8M1060.5 2746.7h10.8M1065.9 2741.3v10.8M1062 2742.8l7.8 7.8M1062 2750.6l7.8-7.8M1071.5 2746.4h10.8M1076.9 2741v10.8M1073 2742.5l7.8 7.8M1073 2750.3l7.8-7.8M1082.6 2758.5h10.8M1088 2753.1v10.8M1084.1 2754.6l7.8 7.8M1084.1 2762.4l7.8-7.8M1094.1 2751.7h10.8M1099.5 2746.3v10.8M1095.6 2747.8l7.8 7.8M1095.6 2755.6l7.8-7.8M1105.2 2737.5h10.8M1110.6 2732.1v10.8M1106.7 2733.6l7.8 7.8M1106.7 2741.4l7.8-7.8M1116.3 2720.1h10.8M1121.7 2714.7v10.8M1117.8 2716.2l7.8 7.8M1117.8 2724l7.8-7.8M1127.4 2743.3h10.8M1132.8 2737.9v10.8M1128.9 2739.4l7.8 7.8M1128.9 2747.2l7.8-7.8M1138.7 2745.4h10.8M1144.1 2740v10.8M1140.2 2741.5l7.8 7.8M1140.2 2749.3l7.8-7.8M1149.9 2717h10.8M1155.3 2711.6v10.8M1151.4 2713.1l7.8 7.8M1151.4 2720.9l7.8-7.8M1161.1 2717.5h10.8M1166.5 2712.1v10.8M1162.6 2713.6l7.8 7.8M1162.6 2721.4l7.8-7.8M1172.2 2716.1h10.8M1177.6 2710.7v10.8M1173.7 2712.2l7.8 7.8M1173.7 2720l7.8-7.8M1183.4 2723.6h10.8M1188.8 2718.2v10.8M1184.9 2719.7l7.8 7.8M1184.9 2727.5l7.8-7.8M1194.5 2713.1h10.8M1199.9 2707.7v10.8M1196 2709.2l7.8 7.8M1196 2717l7.8-7.8M1205.8 2702.9h10.8M1211.2 2697.5v10.8M1207.3 2699l7.8 7.8M1207.3 2706.8l7.8-7.8M1216.8 2716.5h10.8M1222.2 2711.1v10.8M1218.3 2712.6l7.8 7.8M1218.3 2720.4l7.8-7.8M1228.1 2699.9h10.8M1233.5 2694.5v10.8M1229.6 2696l7.8 7.8M1229.6 2703.8l7.8-7.8M1239.3 2692.5h10.8M1244.7 2687.1v10.8M1240.8 2688.6l7.8 7.8M1240.8 2696.4l7.8-7.8M1250.5 2700.8h10.8M1255.9 2695.4v10.8M1252 2696.9l7.8 7.8M1252 2704.7l7.8-7.8M1261.7 2690.5h10.8M1267.1 2685.1v10.8M1263.2 2686.6l7.8 7.8M1263.2 2694.4l7.8-7.8M1272.8 2671.3h10.8M1278.2 2665.9v10.8M1274.3 2667.4l7.8 7.8M1274.3 2675.2l7.8-7.8M1284 2670.2h10.8M1289.4 2664.8v10.8M1285.5 2666.3l7.8 7.8M1285.5 2674.1l7.8-7.8M1295.2 2675.4h10.8M1300.6 2670v10.8M1296.7 2671.5l7.8 7.8M1296.7 2679.3l7.8-7.8M1306.4 2682.6h10.8M1311.8 2677.2v10.8M1307.9 2678.7l7.8 7.8M1307.9 2686.5l7.8-7.8"/><g fill="#7e2f8e"><circle cx="204.7" cy="3353.2" r="1.55"/><circle cx="224.8" cy="3334.9" r="1.55"/><circle cx="243.2" cy="3294.9" r="1.55"/><circle cx="260" cy="3287.8" r="1.55"/><circle cx="275.6" cy="3293.2" r="1.55"/><circle cx="290.2" cy="3263.3" r="1.55"/><circle cx="303.8" cy="3250.1" r="1.55"/><circle cx="316.5" cy="3247.3" r="1.55"/><circle cx="328.6" cy="3247.3" r="1.55"/><circle cx="340" cy="3222.3" r="1.55"/><circle cx="350.8" cy="3203.6" r="1.55"/><circle cx="361" cy="3193.3" r="1.55"/><circle cx="370.8" cy="3212.3" r="1.55"/><circle cx="380.2" cy="3184.4" r="1.55"/><circle cx="397.8" cy="3198.4" r="1.55"/><circle cx="406" cy="3168" r="1.55"/><circle cx="414" cy="3183.4" r="1.55"/><circle cx="429" cy="3147.7" r="1.55"/><circle cx="436.2" cy="3141" r="1.55"/><circle cx="449.8" cy="3107.6" r="1.55"/><circle cx="462.6" cy="3114.2" r="1.55"/><circle cx="474.6" cy="3098.6" r="1.55"/><circle cx="486" cy="3098.6" r="1.55"/><circle cx="496.8" cy="3116.3" r="1.55"/><circle cx="507.1" cy="3083.4" r="1.55"/><circle cx="516.9" cy="3094.7" r="1.55"/><circle cx="530.8" cy="3071.6" r="1.55"/><circle cx="539.5" cy="3057.6" r="1.55"/><circle cx="552.1" cy="3057.9" r="1.55"/><circle cx="563.9" cy="3045.8" r="1.55"/><circle cx="575.1" cy="3032.7" r="1.55"/><circle cx="585.7" cy="3034.8" r="1.55"/><circle cx="595.8" cy="3028.7" r="1.55"/><circle cx="608.6" cy="3017.1" r="1.55"/><circle cx="617.7" cy="3017.7" r="1.55"/><circle cx="629.2" cy="3017.7" r="1.55"/><circle cx="640.2" cy="3002.4" r="1.55"/><circle cx="653.1" cy="3007.7" r="1.55"/><circle cx="662.9" cy="2999.3" r="1.55"/><circle cx="674.5" cy="2979.6" r="1.55"/><circle cx="685.6" cy="2976.5" r="1.55"/><circle cx="696" cy="2982.5" r="1.55"/><circle cx="708" cy="2978.4" r="1.55"/><circle cx="719.3" cy="2956.8" r="1.55"/><circle cx="730" cy="2958.1" r="1.55"/><circle cx="741.8" cy="2960.8" r="1.55"/><circle cx="753" cy="2931.8" r="1.55"/><circle cx="763.7" cy="2921.3" r="1.55"/><circle cx="775.2" cy="2935" r="1.55"/><circle cx="786.2" cy="2917.4" r="1.55"/><circle cx="797.9" cy="2912.1" r="1.55"/><circle cx="808.9" cy="2892.4" r="1.55"/><circle cx="819.4" cy="2892.9" r="1.55"/><circle cx="830.5" cy="2889" r="1.55"/><circle cx="842.1" cy="2894.3" r="1.55"/><circle cx="853" cy="2860.9" r="1.55"/><circle cx="864.4" cy="2860.3" r="1.55"/><circle cx="876" cy="2860.3" r="1.55"/><circle cx="887" cy="2853" r="1.55"/><circle cx="898.3" cy="2833.8" r="1.55"/><circle cx="909" cy="2831.9" r="1.55"/><circle cx="920.6" cy="2870.9" r="1.55"/><circle cx="931.5" cy="2807.6" r="1.55"/><circle cx="942.6" cy="2832" r="1.55"/><circle cx="953.7" cy="2798.5" r="1.55"/><circle cx="964.9" cy="2789.3" r="1.55"/><circle cx="976.5" cy="2779.6" r="1.55"/><circle cx="987.6" cy="2770.3" r="1.55"/><circle cx="998.6" cy="2778.8" r="1.55"/><circle cx="1009.9" cy="2763" r="1.55"/><circle cx="1021.2" cy="2781.4" r="1.55"/><circle cx="1032.2" cy="2788.5" r="1.55"/><circle cx="1043.5" cy="2751.7" r="1.55"/><circle cx="1054.6" cy="2757.7" r="1.55"/><circle cx="1065.9" cy="2738" r="1.55"/><circle cx="1076.9" cy="2743.3" r="1.55"/><circle cx="1088" cy="2747.7" r="1.55"/><circle cx="1099.5" cy="2742.8" r="1.55"/><circle cx="1110.6" cy="2732.8" r="1.55"/><circle cx="1121.7" cy="2718.3" r="1.55"/><circle cx="1132.8" cy="2734.1" r="1.55"/><circle cx="1144.1" cy="2735.9" r="1.55"/><circle cx="1155.3" cy="2712.5" r="1.55"/><circle cx="1166.5" cy="2714.3" r="1.55"/><circle cx="1177.6" cy="2711.4" r="1.55"/><circle cx="1188.8" cy="2719.5" r="1.55"/><circle cx="1199.9" cy="2709.5" r="1.55"/><circle cx="1211.2" cy="2700.8" r="1.55"/><circle cx="1222.2" cy="2711.5" r="1.55"/><circle cx="1233.5" cy="2696.1" r="1.55"/><circle cx="1244.7" cy="2684.7" r="1.55"/><circle cx="1255.9" cy="2691.7" r="1.55"/><circle cx="1267.1" cy="2685.4" r="1.55"/><circle cx="1278.2" cy="2664.7" r="1.55"/><circle cx="1289.4" cy="2663" r="1.55"/><circle cx="1300.6" cy="2669.3" r="1.55"/><circle cx="1311.8" cy="2675.9" r="1.55"/></g><path fill="none" stroke="#77ac30" stroke-width="1.4" d="M200.9 3275.9l7.6 7.6M200.9 3283.5l7.6-7.6M221 3263.3l7.6 7.6M221 3270.9l7.6-7.6M239.4 3238l7.6 7.6M239.4 3245.6l7.6-7.6M256.2 3226.8l7.6 7.6M256.2 3234.4l7.6-7.6M271.8 3224.1l7.6 7.6M271.8 3231.7l7.6-7.6M286.4 3204.9l7.6 7.6M286.4 3212.5l7.6-7.6M300 3195.4l7.6 7.6M300 3203l7.6-7.6M312.7 3189.5l7.6 7.6M312.7 3197.1l7.6-7.6M324.8 3177.6l7.6 7.6M324.8 3185.2l7.6-7.6M336.2 3173.8l7.6 7.6M336.2 3181.4l7.6-7.6M347 3159.1l7.6 7.6M347 3166.7l7.6-7.6M357.2 3149.2l7.6 7.6M357.2 3156.8l7.6-7.6M367 3149l7.6 7.6M367 3156.6l7.6-7.6M376.4 3139.6l7.6 7.6M376.4 3147.2l7.6-7.6M394 3138.9l7.6 7.6M394 3146.5l7.6-7.6M402.2 3129.5l7.6 7.6M402.2 3137.1l7.6-7.6M410.2 3125.7l7.6 7.6M410.2 3133.3l7.6-7.6M425.2 3105.4l7.6 7.6M425.2 3113l7.6-7.6M432.4 3105.9l7.6 7.6M432.4 3113.5l7.6-7.6M446 3084.1l7.6 7.6M446 3091.7l7.6-7.6M458.8 3084.9l7.6 7.6M458.8 3092.5l7.6-7.6M470.8 3076.2l7.6 7.6M470.8 3083.8l7.6-7.6M482.2 3070.4l7.6 7.6M482.2 3078l7.6-7.6M493 3074.3l7.6 7.6M493 3081.9l7.6-7.6M503.3 3059.9l7.6 7.6M503.3 3067.5l7.6-7.6M513.1 3058.6l7.6 7.6M513.1 3066.2l7.6-7.6M527 3049.9l7.6 7.6M527 3057.5l7.6-7.6M535.7 3038.3l7.6 7.6M535.7 3045.9l7.6-7.6M548.3 3036.2l7.6 7.6M548.3 3043.8l7.6-7.6M560.1 3028.9l7.6 7.6M560.1 3036.5l7.6-7.6M571.3 3015.2l7.6 7.6M571.3 3022.8l7.6-7.6M581.9 3015.7l7.6 7.6M581.9 3023.3l7.6-7.6M592 3007.3l7.6 7.6M592 3014.9l7.6-7.6M604.8 3000.7l7.6 7.6M604.8 3008.3l7.6-7.6M613.9 2995.5l7.6 7.6M613.9 3003.1l7.6-7.6M625.4 2996l7.6 7.6M625.4 3003.6l7.6-7.6M636.4 2985.7l7.6 7.6M636.4 2993.3l7.6-7.6M649.3 2985.7l7.6 7.6M649.3 2993.3l7.6-7.6M659.1 2976.3l7.6 7.6M659.1 2983.9l7.6-7.6M670.7 2960.5l7.6 7.6M670.7 2968.1l7.6-7.6M681.8 2958.7l7.6 7.6M681.8 2966.3l7.6-7.6M692.2 2956.1l7.6 7.6M692.2 2963.7l7.6-7.6M704.2 2947.8l7.6 7.6M704.2 2955.4l7.6-7.6M715.5 2935.4l7.6 7.6M715.5 2943l7.6-7.6M726.2 2933.3l7.6 7.6M726.2 2940.9l7.6-7.6M738 2932l7.6 7.6M738 2939.6l7.6-7.6M749.2 2917l7.6 7.6M749.2 2924.6l7.6-7.6M759.9 2903.1l7.6 7.6M759.9 2910.7l7.6-7.6M771.4 2913.6l7.6 7.6M771.4 2921.2l7.6-7.6M782.4 2900.5l7.6 7.6M782.4 2908.1l7.6-7.6M794.1 2889.1l7.6 7.6M794.1 2896.7l7.6-7.6M805.1 2866.3l7.6 7.6M805.1 2873.9l7.6-7.6M815.6 2869.4l7.6 7.6M815.6 2877l7.6-7.6M826.7 2865.7l7.6 7.6M826.7 2873.3l7.6-7.6M838.3 2866.3l7.6 7.6M838.3 2873.9l7.6-7.6M849.2 2844.7l7.6 7.6M849.2 2852.3l7.6-7.6M860.6 2839.5l7.6 7.6M860.6 2847.1l7.6-7.6M872.2 2836.8l7.6 7.6M872.2 2844.4l7.6-7.6M883.2 2826.3l7.6 7.6M883.2 2833.9l7.6-7.6M894.5 2815.5l7.6 7.6M894.5 2823.1l7.6-7.6M905.2 2808.4l7.6 7.6M905.2 2816l7.6-7.6M916.8 2828.1l7.6 7.6M916.8 2835.7l7.6-7.6M927.7 2791l7.6 7.6M927.7 2798.6l7.6-7.6M938.8 2796.2l7.6 7.6M938.8 2803.8l7.6-7.6M949.9 2784.2l7.6 7.6M949.9 2791.8l7.6-7.6M961.1 2772.9l7.6 7.6M961.1 2780.5l7.6-7.6M972.7 2764.4l7.6 7.6M972.7 2772l7.6-7.6M983.8 2755.8l7.6 7.6M983.8 2763.4l7.6-7.6M994.8 2765.8l7.6 7.6M994.8 2773.4l7.6-7.6M1006.1 2747.4l7.6 7.6M1006.1 2755l7.6-7.6M1017.4 2761.3l7.6 7.6M1017.4 2768.9l7.6-7.6M1028.4 2757.4l7.6 7.6M1028.4 2765l7.6-7.6M1039.7 2740.3l7.6 7.6M1039.7 2747.9l7.6-7.6M1050.8 2740.3l7.6 7.6M1050.8 2747.9l7.6-7.6M1062.1 2726.3l7.6 7.6M1062.1 2733.9l7.6-7.6M1073.1 2735.5l7.6 7.6M1073.1 2743.1l7.6-7.6M1084.2 2732.1l7.6 7.6M1084.2 2739.7l7.6-7.6M1095.7 2731.1l7.6 7.6M1095.7 2738.7l7.6-7.6M1106.8 2724.2l7.6 7.6M1106.8 2731.8l7.6-7.6M1117.9 2713.2l7.6 7.6M1117.9 2720.8l7.6-7.6M1129 2721.9l7.6 7.6M1129 2729.5l7.6-7.6M1140.3 2721.6l7.6 7.6M1140.3 2729.2l7.6-7.6M1151.5 2701.9l7.6 7.6M1151.5 2709.5l7.6-7.6M1162.7 2707.1l7.6 7.6M1162.7 2714.7l7.6-7.6M1173.8 2703.4l7.6 7.6M1173.8 2711l7.6-7.6M1185 2709.3l7.6 7.6M1185 2716.9l7.6-7.6M1196.1 2700.7l7.6 7.6M1196.1 2708.3l7.6-7.6M1207.4 2696.1l7.6 7.6M1207.4 2703.7l7.6-7.6M1218.4 2703.6l7.6 7.6M1218.4 2711.2l7.6-7.6M1229.7 2687l7.6 7.6M1229.7 2694.6l7.6-7.6M1240.9 2675l7.6 7.6M1240.9 2682.6l7.6-7.6M1252.1 2678.8l7.6 7.6M1252.1 2686.4l7.6-7.6M1263.3 2677.4l7.6 7.6M1263.3 2685l7.6-7.6M1274.4 2654.8l7.6 7.6M1274.4 2662.4l7.6-7.6M1285.6 2653.1l7.6 7.6M1285.6 2660.7l7.6-7.6M1296.8 2661.4l7.6 7.6M1296.8 2669l7.6-7.6M1308 2666l7.6 7.6M1308 2673.6l7.6-7.6"/><g fill="#ffff00" stroke="#4dbeee" stroke-width="1.3"><path d="M200.4 3213h8.6v8.6h-8.6z"/><path d="M220.5 3201.2h8.6v8.6h-8.6z"/><path d="M238.9 3185.5h8.6v8.6h-8.6z"/><path d="M255.7 3177.1h8.6v8.6h-8.6z"/><path d="M271.3 3167h8.6v8.6h-8.6z"/><path d="M285.9 3157.3h8.6v8.6h-8.6z"/><path d="M299.5 3149.8h8.6v8.6h-8.6z"/><path d="M312.2 3144.2h8.6v8.6h-8.6z"/><path d="M324.3 3132h8.6v8.6h-8.6z"/><path d="M335.7 3132h8.6v8.6h-8.6z"/><path d="M346.5 3124.7h8.6v8.6h-8.6z"/><path d="M356.7 3116.8h8.6v8.6h-8.6z"/><path d="M366.5 3110.5h8.6v8.6h-8.6z"/><path d="M375.9 3106.2h8.6v8.6h-8.6z"/><path d="M393.5 3099.4h8.6v8.6h-8.6z"/><path d="M401.7 3095.3h8.6v8.6h-8.6z"/><path d="M409.7 3088.5h8.6v8.6h-8.6z"/><path d="M424.7 3079.1h8.6v8.6h-8.6z"/><path d="M431.9 3078.7h8.6v8.6h-8.6z"/><path d="M445.5 3064.6h8.6v8.6h-8.6z"/><path d="M458.3 3062h8.6v8.6h-8.6z"/><path d="M470.3 3057.3h8.6v8.6h-8.6z"/><path d="M481.7 3047.5h8.6v8.6h-8.6z"/><path d="M492.5 3046.8h8.6v8.6h-8.6z"/><path d="M502.8 3038.9h8.6v8.6h-8.6z"/><path d="M512.6 3034.4h8.6v8.6h-8.6z"/><path d="M526.5 3029.1h8.6v8.6h-8.6z"/><path d="M535.2 3021.8h8.6v8.6h-8.6z"/><path d="M547.8 3016h8.6v8.6h-8.6z"/><path d="M559.6 3011.5h8.6v8.6h-8.6z"/><path d="M570.8 2999.4h8.6v8.6h-8.6z"/><path d="M581.4 2998.9h8.6v8.6h-8.6z"/><path d="M591.5 2987.9h8.6v8.6h-8.6z"/><path d="M604.3 2984.5h8.6v8.6h-8.6z"/><path d="M613.4 2977.4h8.6v8.6h-8.6z"/><path d="M624.9 2977.4h8.6v8.6h-8.6z"/><path d="M635.9 2968.7h8.6v8.6h-8.6z"/><path d="M648.8 2964.7h8.6v8.6h-8.6z"/><path d="M658.6 2955.5h8.6v8.6h-8.6z"/><path d="M670.2 2941.9h8.6v8.6h-8.6z"/><path d="M681.3 2940.2h8.6v8.6h-8.6z"/><path d="M691.7 2933.3h8.6v8.6h-8.6z"/><path d="M703.7 2923.6h8.6v8.6h-8.6z"/><path d="M715 2916.5h8.6v8.6h-8.6z"/><path d="M725.7 2910.5h8.6v8.6h-8.6z"/><path d="M737.5 2907.3h8.6v8.6h-8.6z"/><path d="M748.7 2901.3h8.6v8.6h-8.6z"/><path d="M759.4 2885.5h8.6v8.6h-8.6z"/><path d="M770.9 2890.7h8.6v8.6h-8.6z"/><path d="M781.9 2882.3h8.6v8.6h-8.6z"/><path d="M793.6 2867.6h8.6v8.6h-8.6z"/><path d="M804.6 2850h8.6v8.6h-8.6z"/><path d="M815.1 2851.8h8.6v8.6h-8.6z"/><path d="M826.2 2842.1h8.6v8.6h-8.6z"/><path d="M837.8 2841.3h8.6v8.6h-8.6z"/><path d="M848.7 2830.3h8.6v8.6h-8.6z"/><path d="M860.1 2821.6h8.6v8.6h-8.6z"/><path d="M871.7 2815.3h8.6v8.6h-8.6z"/><path d="M882.7 2804h8.6v8.6h-8.6z"/><path d="M894 2799.5h8.6v8.6h-8.6z"/><path d="M904.7 2786.9h8.6v8.6h-8.6z"/><path d="M916.3 2785.6h8.6v8.6h-8.6z"/><path d="M927.2 2774.9h8.6v8.6h-8.6z"/><path d="M938.3 2767.9h8.6v8.6h-8.6z"/><path d="M949.4 2768.4h8.6v8.6h-8.6z"/><path d="M960.6 2756.9h8.6v8.6h-8.6z"/><path d="M972.2 2753.4h8.6v8.6h-8.6z"/><path d="M983.3 2744.2h8.6v8.6h-8.6z"/><path d="M994.3 2753.4h8.6v8.6h-8.6z"/><path d="M1005.6 2733.7h8.6v8.6h-8.6z"/><path d="M1016.9 2744.2h8.6v8.6h-8.6z"/><path d="M1027.9 2732.4h8.6v8.6h-8.6z"/><path d="M1039.2 2729.8h8.6v8.6h-8.6z"/><path d="M1050.3 2731.1h8.6v8.6h-8.6z"/><path d="M1061.6 2717.2h8.6v8.6h-8.6z"/><path d="M1072.6 2729.2h8.6v8.6h-8.6z"/><path d="M1083.7 2721.4h8.6v8.6h-8.6z"/><path d="M1095.2 2721.9h8.6v8.6h-8.6z"/><path d="M1106.3 2719.3h8.6v8.6h-8.6z"/><path d="M1117.4 2713.2h8.6v8.6h-8.6z"/><path d="M1128.5 2714h8.6v8.6h-8.6z"/><path d="M1139.8 2710h8.6v8.6h-8.6z"/><path d="M1151 2690.9h8.6v8.6h-8.6z"/><path d="M1162.2 2700.9h8.6v8.6h-8.6z"/><path d="M1173.3 2697.1h8.6v8.6h-8.6z"/><path d="M1184.5 2697.5h8.6v8.6h-8.6z"/><path d="M1195.6 2695.8h8.6v8.6h-8.6z"/><path d="M1206.9 2696.5h8.6v8.6h-8.6z"/><path d="M1217.9 2698.1h8.6v8.6h-8.6z"/><path d="M1229.2 2678.3h8.6v8.6h-8.6z"/><path d="M1240.4 2667.5h8.6v8.6h-8.6z"/><path d="M1251.6 2667h8.6v8.6h-8.6z"/><path d="M1262.8 2670.8h8.6v8.6h-8.6z"/><path d="M1273.9 2646.8h8.6v8.6h-8.6z"/><path d="M1285.1 2645.2h8.6v8.6h-8.6z"/><path d="M1296.3 2655.9h8.6v8.6h-8.6z"/><path d="M1307.5 2657.6h8.6v8.6h-8.6z"/></g><g fill="#000" stroke="#a2142f" stroke-width="1.3"><path d="M204.7 3172.3l5.4 7.1-5.4 7.1-5.4-7.1z"/><path d="M224.8 3162.9l5.4 7.1-5.4 7.1-5.4-7.1z"/><path d="M243.2 3148.2l5.4 7.1-5.4 7.1-5.4-7.1z"/><path d="M260 3144.4l5.4 7.1-5.4 7.1-5.4-7.1z"/><path d="M275.6 3131.8l5.4 7.1-5.4 7.1-5.4-7.1z"/><path d="M290.2 3124.2l5.4 7.1-5.4 7.1-5.4-7.1z"/><path d="M303.8 3116.8l5.4 7.1-5.4 7.1-5.4-7.1z"/><path d="M316.5 3109.7l5.4 7.1-5.4 7.1-5.4-7.1z"/><path d="M328.6 3102.6l5.4 7.1-5.4 7.1-5.4-7.1z"/><path d="M340 3100.9l5.4 7.1-5.4 7.1-5.4-7.1z"/><path d="M350.8 3096.3l5.4 7.1-5.4 7.1-5.4-7.1z"/><path d="M361 3088.7l5.4 7.1-5.4 7.1-5.4-7.1z"/><path d="M370.8 3079.9l5.4 7.1-5.4 7.1-5.4-7.1z"/><path d="M380.2 3079.9l5.4 7.1-5.4 7.1-5.4-7.1z"/><path d="M397.8 3071.2l5.4 7.1-5.4 7.1-5.4-7.1z"/><path d="M406 3065.4l5.4 7.1-5.4 7.1-5.4-7.1z"/><path d="M414 3060.4l5.4 7.1-5.4 7.1-5.4-7.1z"/><path d="M429 3055.8l5.4 7.1-5.4 7.1-5.4-7.1z"/><path d="M436.2 3050.8l5.4 7.1-5.4 7.1-5.4-7.1z"/><path d="M449.8 3042.1l5.4 7.1-5.4 7.1-5.4-7.1z"/><path d="M462.6 3038.2l5.4 7.1-5.4 7.1-5.4-7.1z"/><path d="M474.6 3033.4l5.4 7.1-5.4 7.1-5.4-7.1z"/><path d="M486 3023.2l5.4 7.1-5.4 7.1-5.4-7.1z"/><path d="M496.8 3022.4l5.4 7.1-5.4 7.1-5.4-7.1z"/><path d="M507.1 3016.4l5.4 7.1-5.4 7.1-5.4-7.1z"/><path d="M516.9 3011.1l5.4 7.1-5.4 7.1-5.4-7.1z"/><path d="M530.8 3005.8l5.4 7.1-5.4 7.1-5.4-7.1z"/><path d="M539.5 2998.8l5.4 7.1-5.4 7.1-5.4-7.1z"/><path d="M552.1 2993.5l5.4 7.1-5.4 7.1-5.4-7.1z"/><path d="M563.9 2990.9l5.4 7.1-5.4 7.1-5.4-7.1z"/><path d="M575.1 2977.7l5.4 7.1-5.4 7.1-5.4-7.1z"/><path d="M585.7 2977.7l5.4 7.1-5.4 7.1-5.4-7.1z"/><path d="M595.8 2966.4l5.4 7.1-5.4 7.1-5.4-7.1z"/><path d="M608.6 2961.4l5.4 7.1-5.4 7.1-5.4-7.1z"/><path d="M617.7 2954.6l5.4 7.1-5.4 7.1-5.4-7.1z"/><path d="M629.2 2954.6l5.4 7.1-5.4 7.1-5.4-7.1z"/><path d="M640.2 2944.9l5.4 7.1-5.4 7.1-5.4-7.1z"/><path d="M653.1 2943.5l5.4 7.1-5.4 7.1-5.4-7.1z"/><path d="M662.9 2931.7l5.4 7.1-5.4 7.1-5.4-7.1z"/><path d="M674.5 2916.7l5.4 7.1-5.4 7.1-5.4-7.1z"/><path d="M685.6 2916.9l5.4 7.1-5.4 7.1-5.4-7.1z"/><path d="M696 2906.5l5.4 7.1-5.4 7.1-5.4-7.1z"/><path d="M708 2893.2l5.4 7.1-5.4 7.1-5.4-7.1z"/><path d="M719.3 2895.8l5.4 7.1-5.4 7.1-5.4-7.1z"/><path d="M730 2881.9l5.4 7.1-5.4 7.1-5.4-7.1z"/><path d="M741.8 2884l5.4 7.1-5.4 7.1-5.4-7.1z"/><path d="M753 2881.9l5.4 7.1-5.4 7.1-5.4-7.1z"/><path d="M763.7 2863.5l5.4 7.1-5.4 7.1-5.4-7.1z"/><path d="M775.2 2863l5.4 7.1-5.4 7.1-5.4-7.1z"/><path d="M786.2 2861.7l5.4 7.1-5.4 7.1-5.4-7.1z"/><path d="M797.9 2847.2l5.4 7.1-5.4 7.1-5.4-7.1z"/><path d="M808.9 2834.8l5.4 7.1-5.4 7.1-5.4-7.1z"/><path d="M819.4 2833.3l5.4 7.1-5.4 7.1-5.4-7.1z"/><path d="M830.5 2816.2l5.4 7.1-5.4 7.1-5.4-7.1z"/><path d="M842.1 2816.2l5.4 7.1-5.4 7.1-5.4-7.1z"/><path d="M853 2816.2l5.4 7.1-5.4 7.1-5.4-7.1z"/><path d="M864.4 2802.5l5.4 7.1-5.4 7.1-5.4-7.1z"/><path d="M876 2795.9l5.4 7.1-5.4 7.1-5.4-7.1z"/><path d="M887 2784.1l5.4 7.1-5.4 7.1-5.4-7.1z"/><path d="M898.3 2780.2l5.4 7.1-5.4 7.1-5.4-7.1z"/><path d="M909 2764.4l5.4 7.1-5.4 7.1-5.4-7.1z"/><path d="M920.6 2756.5l5.4 7.1-5.4 7.1-5.4-7.1z"/><path d="M931.5 2754.5l5.4 7.1-5.4 7.1-5.4-7.1z"/><path d="M942.6 2745.3l5.4 7.1-5.4 7.1-5.4-7.1z"/><path d="M953.7 2746.2l5.4 7.1-5.4 7.1-5.4-7.1z"/><path d="M964.9 2739.3l5.4 7.1-5.4 7.1-5.4-7.1z"/><path d="M976.5 2742.7l5.4 7.1-5.4 7.1-5.4-7.1z"/><path d="M987.6 2728.8l5.4 7.1-5.4 7.1-5.4-7.1z"/><path d="M998.6 2734.3l5.4 7.1-5.4 7.1-5.4-7.1z"/><path d="M1009.9 2719.1l5.4 7.1-5.4 7.1-5.4-7.1z"/><path d="M1021.2 2727l5.4 7.1-5.4 7.1-5.4-7.1z"/><path d="M1032.2 2715.1l5.4 7.1-5.4 7.1-5.4-7.1z"/><path d="M1043.5 2715.7l5.4 7.1-5.4 7.1-5.4-7.1z"/><path d="M1054.6 2723.8l5.4 7.1-5.4 7.1-5.4-7.1z"/><path d="M1065.9 2707.8l5.4 7.1-5.4 7.1-5.4-7.1z"/><path d="M1076.9 2721.2l5.4 7.1-5.4 7.1-5.4-7.1z"/><path d="M1088 2711.2l5.4 7.1-5.4 7.1-5.4-7.1z"/><path d="M1099.5 2711.2l5.4 7.1-5.4 7.1-5.4-7.1z"/><path d="M1110.6 2712.5l5.4 7.1-5.4 7.1-5.4-7.1z"/><path d="M1121.7 2705.9l5.4 7.1-5.4 7.1-5.4-7.1z"/><path d="M1132.8 2706.5l5.4 7.1-5.4 7.1-5.4-7.1z"/><path d="M1144.1 2697.3l5.4 7.1-5.4 7.1-5.4-7.1z"/><path d="M1155.3 2675.7l5.4 7.1-5.4 7.1-5.4-7.1z"/><path d="M1166.5 2694.1l5.4 7.1-5.4 7.1-5.4-7.1z"/><path d="M1177.6 2690.4l5.4 7.1-5.4 7.1-5.4-7.1z"/><path d="M1188.8 2680.9l5.4 7.1-5.4 7.1-5.4-7.1z"/><path d="M1199.9 2690l5.4 7.1-5.4 7.1-5.4-7.1z"/><path d="M1211.2 2692l5.4 7.1-5.4 7.1-5.4-7.1z"/><path d="M1222.2 2692.8l5.4 7.1-5.4 7.1-5.4-7.1z"/><path d="M1233.5 2663.9l5.4 7.1-5.4 7.1-5.4-7.1z"/><path d="M1244.7 2660.6l5.4 7.1-5.4 7.1-5.4-7.1z"/><path d="M1255.9 2655.1l5.4 7.1-5.4 7.1-5.4-7.1z"/><path d="M1267.1 2662.2l5.4 7.1-5.4 7.1-5.4-7.1z"/><path d="M1278.2 2638.2l5.4 7.1-5.4 7.1-5.4-7.1z"/><path d="M1289.4 2635.7l5.4 7.1-5.4 7.1-5.4-7.1z"/><path d="M1300.6 2651.5l5.4 7.1-5.4 7.1-5.4-7.1z"/><path d="M1311.8 2649.8l5.4 7.1-5.4 7.1-5.4-7.1z"/></g><g fill="#0000ff" stroke="#0072bd" stroke-width="1.3"><path d="M204.7 3145.9l6.1 10.55h-12.2z"/><path d="M224.8 3139.1l6.1 10.55h-12.2z"/><path d="M243.2 3124.4l6.1 10.55h-12.2z"/><path d="M260 3122.6l6.1 10.55h-12.2z"/><path d="M275.6 3108.7l6.1 10.55h-12.2z"/><path d="M290.2 3102.8l6.1 10.55h-12.2z"/><path d="M303.8 3095.3l6.1 10.55h-12.2z"/><path d="M316.5 3085.9l6.1 10.55h-12.2z"/><path d="M328.6 3083.9l6.1 10.55h-12.2z"/><path d="M340 3079.6l6.1 10.55h-12.2z"/><path d="M350.8 3074.5l6.1 10.55h-12.2z"/><path d="M361 3068.9l6.1 10.55h-12.2z"/><path d="M370.8 3055.5l6.1 10.55h-12.2z"/><path d="M380.2 3060.6l6.1 10.55h-12.2z"/><path d="M397.8 3053l6.1 10.55h-12.2z"/><path d="M406 3040.3l6.1 10.55h-12.2z"/><path d="M414 3038.5l6.1 10.55h-12.2z"/><path d="M429 3038.3l6.1 10.55h-12.2z"/><path d="M436.2 3029.1l6.1 10.55h-12.2z"/><path d="M449.8 3022.6l6.1 10.55h-12.2z"/><path d="M462.6 3018.7l6.1 10.55h-12.2z"/><path d="M474.6 3012.1l6.1 10.55h-12.2z"/><path d="M486 3004.2l6.1 10.55h-12.2z"/><path d="M496.8 3004.2l6.1 10.55h-12.2z"/><path d="M507.1 2998.2l6.1 10.55h-12.2z"/><path d="M516.9 2993.7l6.1 10.55h-12.2z"/><path d="M530.8 2989.7l6.1 10.55h-12.2z"/><path d="M539.5 2979.2l6.1 10.55h-12.2z"/><path d="M552.1 2974l6.1 10.55h-12.2z"/><path d="M563.9 2974l6.1 10.55h-12.2z"/><path d="M575.1 2958.2l6.1 10.55h-12.2z"/><path d="M585.7 2960l6.1 10.55h-12.2z"/><path d="M595.8 2946.4l6.1 10.55h-12.2z"/><path d="M608.6 2937.2l6.1 10.55h-12.2z"/><path d="M617.7 2933.8l6.1 10.55h-12.2z"/><path d="M629.2 2937.2l6.1 10.55h-12.2z"/><path d="M640.2 2924.5l6.1 10.55h-12.2z"/><path d="M653.1 2928.8l6.1 10.55h-12.2z"/><path d="M662.9 2910.9l6.1 10.55h-12.2z"/><path d="M674.5 2891.2l6.1 10.55h-12.2z"/><path d="M685.6 2898.9l6.1 10.55h-12.2z"/><path d="M696 2875.9l6.1 10.55h-12.2z"/><path d="M708 2865.8l6.1 10.55h-12.2z"/><path d="M719.3 2881.6l6.1 10.55h-12.2z"/><path d="M730 2855.3l6.1 10.55h-12.2z"/><path d="M741.8 2865.3l6.1 10.55h-12.2z"/><path d="M753 2868.4l6.1 10.55h-12.2z"/><path d="M763.7 2847.4l6.1 10.55h-12.2z"/><path d="M775.2 2835.6l6.1 10.55h-12.2z"/><path d="M786.2 2848.7l6.1 10.55h-12.2z"/><path d="M797.9 2832.9l6.1 10.55h-12.2z"/><path d="M808.9 2825l6.1 10.55h-12.2z"/><path d="M819.4 2818.5l6.1 10.55h-12.2z"/><path d="M830.5 2796.7l6.1 10.55h-12.2z"/><path d="M842.1 2801.4l6.1 10.55h-12.2z"/><path d="M853 2805.3l6.1 10.55h-12.2z"/><path d="M864.4 2789.6l6.1 10.55h-12.2z"/><path d="M876 2783l6.1 10.55h-12.2z"/><path d="M887 2773.8l6.1 10.55h-12.2z"/><path d="M898.3 2763.3l6.1 10.55h-12.2z"/><path d="M909 2747.5l6.1 10.55h-12.2z"/><path d="M920.6 2738.3l6.1 10.55h-12.2z"/><path d="M931.5 2739.3l6.1 10.55h-12.2z"/><path d="M942.6 2730.5l6.1 10.55h-12.2z"/><path d="M953.7 2728l6.1 10.55h-12.2z"/><path d="M964.9 2725.9l6.1 10.55h-12.2z"/><path d="M976.5 2736.4l6.1 10.55h-12.2z"/><path d="M987.6 2720.6l6.1 10.55h-12.2z"/><path d="M998.6 2718.8l6.1 10.55h-12.2z"/><path d="M1009.9 2710.6l6.1 10.55h-12.2z"/><path d="M1021.2 2715.9l6.1 10.55h-12.2z"/><path d="M1032.2 2705.3l6.1 10.55h-12.2z"/><path d="M1043.5 2706.1l6.1 10.55h-12.2z"/><path d="M1054.6 2721.9l6.1 10.55h-12.2z"/><path d="M1065.9 2702.2l6.1 10.55h-12.2z"/><path d="M1076.9 2716.7l6.1 10.55h-12.2z"/><path d="M1088 2705.6l6.1 10.55h-12.2z"/><path d="M1099.5 2704.8l6.1 10.55h-12.2z"/><path d="M1110.6 2708.8l6.1 10.55h-12.2z"/><path d="M1121.7 2703.5l6.1 10.55h-12.2z"/><path d="M1132.8 2703.5l6.1 10.55h-12.2z"/><path d="M1144.1 2689l6.1 10.55h-12.2z"/><path d="M1155.3 2664.1l6.1 10.55h-12.2z"/><path d="M1166.5 2689l6.1 10.55h-12.2z"/><path d="M1177.6 2686.9l6.1 10.55h-12.2z"/><path d="M1188.8 2666.2l6.1 10.55h-12.2z"/><path d="M1199.9 2687.1l6.1 10.55h-12.2z"/><path d="M1211.2 2690.6l6.1 10.55h-12.2z"/><path d="M1222.2 2688.9l6.1 10.55h-12.2z"/><path d="M1233.5 2655l6.1 10.55h-12.2z"/><path d="M1244.7 2656.6l6.1 10.55h-12.2z"/><path d="M1255.9 2648.4l6.1 10.55h-12.2z"/><path d="M1267.1 2656.6l6.1 10.55h-12.2z"/><path d="M1278.2 2633.5l6.1 10.55h-12.2z"/><path d="M1289.4 2631.8l6.1 10.55h-12.2z"/><path d="M1300.6 2648.4l6.1 10.55h-12.2z"/><path d="M1311.8 2645.9l6.1 10.55h-12.2z"/></g><g fill="#00ff00" stroke="#d95319" stroke-width="1.3"><path d="M204.7 3141.5l6.1-10.55h-12.2z"/><path d="M224.8 3135.1l6.1-10.55h-12.2z"/><path d="M243.2 3120.4l6.1-10.55h-12.2z"/><path d="M260 3118.7l6.1-10.55h-12.2z"/><path d="M275.6 3104.7l6.1-10.55h-12.2z"/><path d="M290.2 3099.7l6.1-10.55h-12.2z"/><path d="M303.8 3092.1l6.1-10.55h-12.2z"/><path d="M316.5 3081.2l6.1-10.55h-12.2z"/><path d="M328.6 3083.2l6.1-10.55h-12.2z"/><path d="M340 3078.2l6.1-10.55h-12.2z"/><path d="M350.8 3074.4l6.1-10.55h-12.2z"/><path d="M361 3066.8l6.1-10.55h-12.2z"/><path d="M370.8 3050.8l6.1-10.55h-12.2z"/><path d="M380.2 3059.2l6.1-10.55h-12.2z"/><path d="M397.8 3052.1l6.1-10.55h-12.2z"/><path d="M406 3034.6l6.1-10.55h-12.2z"/><path d="M414 3035.1l6.1-10.55h-12.2z"/><path d="M429 3038.2l6.1-10.55h-12.2z"/><path d="M436.2 3024.4l6.1-10.55h-12.2z"/><path d="M449.8 3027.2l6.1-10.55h-12.2z"/><path d="M462.6 3024.6l6.1-10.55h-12.2z"/><path d="M474.6 3012.8l6.1-10.55h-12.2z"/><path d="M486 3004.1l6.1-10.55h-12.2z"/><path d="M496.8 3005.4l6.1-10.55h-12.2z"/><path d="M507.1 2996.2l6.1-10.55h-12.2z"/><path d="M516.9 2997l6.1-10.55h-12.2z"/><path d="M530.8 2997l6.1-10.55h-12.2z"/><path d="M539.5 2977.3l6.1-10.55h-12.2z"/><path d="M552.1 2975.2l6.1-10.55h-12.2z"/><path d="M563.9 2975.9l6.1-10.55h-12.2z"/><path d="M575.1 2952.3l6.1-10.55h-12.2z"/><path d="M585.7 2961.5l6.1-10.55h-12.2z"/><path d="M595.8 2945.7l6.1-10.55h-12.2z"/><path d="M608.6 2932.6l6.1-10.55h-12.2z"/><path d="M617.7 2932.6l6.1-10.55h-12.2z"/><path d="M629.2 2937.8l6.1-10.55h-12.2z"/><path d="M640.2 2924.7l6.1-10.55h-12.2z"/><path d="M653.1 2934.4l6.1-10.55h-12.2z"/><path d="M662.9 2913.4l6.1-10.55h-12.2z"/><path d="M674.5 2882.6l6.1-10.55h-12.2z"/><path d="M685.6 2901.9l6.1-10.55h-12.2z"/><path d="M696 2864.3l6.1-10.55h-12.2z"/><path d="M708 2855.9l6.1-10.55h-12.2z"/><path d="M719.3 2888.8l6.1-10.55h-12.2z"/><path d="M730 2846.7l6.1-10.55h-12.2z"/><path d="M741.8 2866.5l6.1-10.55h-12.2z"/><path d="M753 2872.5l6.1-10.55h-12.2z"/><path d="M763.7 2848.1l6.1-10.55h-12.2z"/><path d="M775.2 2829.7l6.1-10.55h-12.2z"/><path d="M786.2 2853.8l6.1-10.55h-12.2z"/><path d="M797.9 2838.8l6.1-10.55h-12.2z"/><path d="M808.9 2832.3l6.1-10.55h-12.2z"/><path d="M819.4 2823.1l6.1-10.55h-12.2z"/><path d="M830.5 2798.1l6.1-10.55h-12.2z"/><path d="M842.1 2806.8l6.1-10.55h-12.2z"/><path d="M853 2813.1l6.1-10.55h-12.2z"/><path d="M864.4 2794.7l6.1-10.55h-12.2z"/><path d="M876 2790.2l6.1-10.55h-12.2z"/><path d="M887 2781l6.1-10.55h-12.2z"/><path d="M898.3 2765.2l6.1-10.55h-12.2z"/><path d="M909 2752.1l6.1-10.55h-12.2z"/><path d="M920.6 2740.3l6.1-10.55h-12.2z"/><path d="M931.5 2738.4l6.1-10.55h-12.2z"/><path d="M942.6 2732.1l6.1-10.55h-12.2z"/><path d="M953.7 2729.1l6.1-10.55h-12.2z"/><path d="M964.9 2728.4l6.1-10.55h-12.2z"/><path d="M976.5 2744.9l6.1-10.55h-12.2z"/><path d="M987.6 2728.4l6.1-10.55h-12.2z"/><path d="M998.6 2721.8l6.1-10.55h-12.2z"/><path d="M1009.9 2717.3l6.1-10.55h-12.2z"/><path d="M1021.2 2725.2l6.1-10.55h-12.2z"/><path d="M1032.2 2713.9l6.1-10.55h-12.2z"/><path d="M1043.5 2713.9l6.1-10.55h-12.2z"/><path d="M1054.6 2734.4l6.1-10.55h-12.2z"/><path d="M1065.9 2711.3l6.1-10.55h-12.2z"/><path d="M1076.9 2725.7l6.1-10.55h-12.2z"/><path d="M1088 2715.2l6.1-10.55h-12.2z"/><path d="M1099.5 2708.1l6.1-10.55h-12.2z"/><path d="M1110.6 2718.6l6.1-10.55h-12.2z"/><path d="M1121.7 2714.7l6.1-10.55h-12.2z"/><path d="M1132.8 2714.7l6.1-10.55h-12.2z"/><path d="M1144.1 2696.3l6.1-10.55h-12.2z"/><path d="M1155.3 2667.9l6.1-10.55h-12.2z"/><path d="M1166.5 2698.9l6.1-10.55h-12.2z"/><path d="M1177.6 2697.4l6.1-10.55h-12.2z"/><path d="M1188.8 2668.5l6.1-10.55h-12.2z"/><path d="M1199.9 2697.7l6.1-10.55h-12.2z"/><path d="M1211.2 2701.9l6.1-10.55h-12.2z"/><path d="M1222.2 2698.1l6.1-10.55h-12.2z"/><path d="M1233.5 2660.5l6.1-10.55h-12.2z"/><path d="M1244.7 2667.1l6.1-10.55h-12.2z"/><path d="M1255.9 2657.2l6.1-10.55h-12.2z"/><path d="M1267.1 2664.6l6.1-10.55h-12.2z"/><path d="M1278.2 2643.1l6.1-10.55h-12.2z"/><path d="M1289.4 2642.3l6.1-10.55h-12.2z"/><path d="M1300.6 2659.7l6.1-10.55h-12.2z"/><path d="M1311.8 2657.2l6.1-10.55h-12.2z"/></g><g fill="#ff0000" stroke="#edb120" stroke-width="1.3"><path d="M211.6 3116.8l-10.55 6.1v-12.2z"/><path d="M231.7 3113l-10.55 6.1v-12.2z"/><path d="M250.1 3098.4l-10.55 6.1v-12.2z"/><path d="M266.9 3095.8l-10.55 6.1v-12.2z"/><path d="M282.5 3082.7l-10.55 6.1v-12.2z"/><path d="M297.1 3077.6l-10.55 6.1v-12.2z"/><path d="M310.7 3072.5l-10.55 6.1v-12.2z"/><path d="M323.4 3059.1l-10.55 6.1v-12.2z"/><path d="M335.5 3064.9l-10.55 6.1v-12.2z"/><path d="M346.9 3059.4l-10.55 6.1v-12.2z"/><path d="M357.7 3056.1l-10.55 6.1v-12.2z"/><path d="M367.9 3045.2l-10.55 6.1v-12.2z"/><path d="M377.7 3026.2l-10.55 6.1v-12.2z"/><path d="M387.1 3040.9l-10.55 6.1v-12.2z"/><path d="M404.7 3034.6l-10.55 6.1v-12.2z"/><path d="M412.9 3009.8l-10.55 6.1v-12.2z"/><path d="M420.9 3014.3l-10.55 6.1v-12.2z"/><path d="M435.9 3021.9l-10.55 6.1v-12.2z"/><path d="M443.1 3002.4l-10.55 6.1v-12.2z"/><path d="M456.7 3012.4l-10.55 6.1v-12.2z"/><path d="M469.5 3007.2l-10.55 6.1v-12.2z"/><path d="M481.5 2992.7l-10.55 6.1v-12.2z"/><path d="M492.9 2982.2l-10.55 6.1v-12.2z"/><path d="M503.7 2984.8l-10.55 6.1v-12.2z"/><path d="M514 2973l-10.55 6.1v-12.2z"/><path d="M523.8 2977.5l-10.55 6.1v-12.2z"/><path d="M537.7 2982.2l-10.55 6.1v-12.2z"/><path d="M546.4 2957.2l-10.55 6.1v-12.2z"/><path d="M559 2955.9l-10.55 6.1v-12.2z"/><path d="M570.8 2958.5l-10.55 6.1v-12.2z"/><path d="M582 2927l-10.55 6.1v-12.2z"/><path d="M592.6 2944.1l-10.55 6.1v-12.2z"/><path d="M602.7 2925.7l-10.55 6.1v-12.2z"/><path d="M615.5 2909.9l-10.55 6.1v-12.2z"/><path d="M624.6 2911.2l-10.55 6.1v-12.2z"/><path d="M636.1 2917.8l-10.55 6.1v-12.2z"/><path d="M647.1 2907.3l-10.55 6.1v-12.2z"/><path d="M660 2920.4l-10.55 6.1v-12.2z"/><path d="M669.8 2895.4l-10.55 6.1v-12.2z"/><path d="M681.4 2857.3l-10.55 6.1v-12.2z"/><path d="M692.5 2887l-10.55 6.1v-12.2z"/><path d="M702.9 2837.7l-10.55 6.1v-12.2z"/><path d="M714.9 2831.9l-10.55 6.1v-12.2z"/><path d="M726.2 2876.1l-10.55 6.1v-12.2z"/><path d="M736.9 2824.1l-10.55 6.1v-12.2z"/><path d="M748.7 2847.7l-10.55 6.1v-12.2z"/><path d="M759.9 2859.6l-10.55 6.1v-12.2z"/><path d="M770.6 2831.9l-10.55 6.1v-12.2z"/><path d="M782.1 2807l-10.55 6.1v-12.2z"/><path d="M793.1 2840.4l-10.55 6.1v-12.2z"/><path d="M804.8 2826.7l-10.55 6.1v-12.2z"/><path d="M815.8 2820.1l-10.55 6.1v-12.2z"/><path d="M826.3 2808.3l-10.55 6.1v-12.2z"/><path d="M837.4 2780.7l-10.55 6.1v-12.2z"/><path d="M849 2793.8l-10.55 6.1v-12.2z"/><path d="M859.9 2801.7l-10.55 6.1v-12.2z"/><path d="M871.3 2780.2l-10.55 6.1v-12.2z"/><path d="M882.9 2777.5l-10.55 6.1v-12.2z"/><path d="M893.9 2770.2l-10.55 6.1v-12.2z"/><path d="M905.2 2747.8l-10.55 6.1v-12.2z"/><path d="M915.9 2738.6l-10.55 6.1v-12.2z"/><path d="M927.5 2724.2l-10.55 6.1v-12.2z"/><path d="M938.4 2719.9l-10.55 6.1v-12.2z"/><path d="M949.5 2714.7l-10.55 6.1v-12.2z"/><path d="M960.6 2708.6l-10.55 6.1v-12.2z"/><path d="M971.8 2711.7l-10.55 6.1v-12.2z"/><path d="M983.4 2732.8l-10.55 6.1v-12.2z"/><path d="M994.5 2717l-10.55 6.1v-12.2z"/><path d="M1005.5 2705.2l-10.55 6.1v-12.2z"/><path d="M1016.8 2703.8l-10.55 6.1v-12.2z"/><path d="M1028.1 2714.9l-10.55 6.1v-12.2z"/><path d="M1039.1 2702.5l-10.55 6.1v-12.2z"/><path d="M1050.4 2701.2l-10.55 6.1v-12.2z"/><path d="M1061.5 2725.7l-10.55 6.1v-12.2z"/><path d="M1072.8 2698.6l-10.55 6.1v-12.2z"/><path d="M1083.8 2713.6l-10.55 6.1v-12.2z"/><path d="M1094.9 2703.8l-10.55 6.1v-12.2z"/><path d="M1106.4 2693.3l-10.55 6.1v-12.2z"/><path d="M1117.5 2706.5l-10.55 6.1v-12.2z"/><path d="M1128.6 2704.4l-10.55 6.1v-12.2z"/><path d="M1139.7 2704.4l-10.55 6.1v-12.2z"/><path d="M1151 2684.7l-10.55 6.1v-12.2z"/><path d="M1162.2 2653.9l-10.55 6.1v-12.2z"/><path d="M1173.4 2688.1l-10.55 6.1v-12.2z"/><path d="M1184.5 2687l-10.55 6.1v-12.2z"/><path d="M1195.7 2653.7l-10.55 6.1v-12.2z"/><path d="M1206.8 2687l-10.55 6.1v-12.2z"/><path d="M1218.1 2692.5l-10.55 6.1v-12.2z"/><path d="M1229.1 2687.5l-10.55 6.1v-12.2z"/><path d="M1240.4 2647.8l-10.55 6.1v-12.2z"/><path d="M1251.6 2656.9l-10.55 6.1v-12.2z"/><path d="M1262.8 2646.1l-10.55 6.1v-12.2z"/><path d="M1274 2653.6l-10.55 6.1v-12.2z"/><path d="M1285.1 2632.1l-10.55 6.1v-12.2z"/><path d="M1296.3 2630.9l-10.55 6.1v-12.2z"/><path d="M1307.5 2650.3l-10.55 6.1v-12.2z"/><path d="M1318.7 2647l-10.55 6.1v-12.2z"/></g><g fill="#00ffff" stroke="#7e2f8e" stroke-width="1.3"><path d="M197.8 3105.4l10.55 6.1v-12.2z"/><path d="M217.9 3100.9l10.55 6.1v-12.2z"/><path d="M236.3 3087l10.55 6.1v-12.2z"/><path d="M253.1 3083.9l10.55 6.1v-12.2z"/><path d="M268.7 3072l10.55 6.1v-12.2z"/><path d="M283.3 3067l10.55 6.1v-12.2z"/><path d="M296.9 3061.7l10.55 6.1v-12.2z"/><path d="M309.6 3048.5l10.55 6.1v-12.2z"/><path d="M321.7 3055.6l10.55 6.1v-12.2z"/><path d="M333.1 3051l10.55 6.1v-12.2z"/><path d="M343.9 3047.7l10.55 6.1v-12.2z"/><path d="M354.1 3035.3l10.55 6.1v-12.2z"/><path d="M363.9 3013l10.55 6.1v-12.2z"/><path d="M373.3 3031.3l10.55 6.1v-12.2z"/><path d="M390.9 3025.2l10.55 6.1v-12.2z"/><path d="M399.1 2996.6l10.55 6.1v-12.2z"/><path d="M407.1 3003.4l10.55 6.1v-12.2z"/><path d="M422.1 3013.5l10.55 6.1v-12.2z"/><path d="M429.3 2990.8l10.55 6.1v-12.2z"/><path d="M442.9 3005.9l10.55 6.1v-12.2z"/><path d="M455.7 3000.6l10.55 6.1v-12.2z"/><path d="M467.7 2984l10.55 6.1v-12.2z"/><path d="M479.1 2971.7l10.55 6.1v-12.2z"/><path d="M489.9 2975.1l10.55 6.1v-12.2z"/><path d="M500.2 2961.9l10.55 6.1v-12.2z"/><path d="M510 2969l10.55 6.1v-12.2z"/><path d="M523.9 2975.6l10.55 6.1v-12.2z"/><path d="M532.6 2946.7l10.55 6.1v-12.2z"/><path d="M545.2 2948l10.55 6.1v-12.2z"/><path d="M557 2950.6l10.55 6.1v-12.2z"/><path d="M568.2 2912.5l10.55 6.1v-12.2z"/><path d="M578.8 2936.2l10.55 6.1v-12.2z"/><path d="M588.9 2914.4l10.55 6.1v-12.2z"/><path d="M601.7 2898.1l10.55 6.1v-12.2z"/><path d="M610.8 2899.4l10.55 6.1v-12.2z"/><path d="M622.3 2908.6l10.55 6.1v-12.2z"/><path d="M633.3 2900.7l10.55 6.1v-12.2z"/><path d="M646.2 2913.8l10.55 6.1v-12.2z"/><path d="M656 2886.2l10.55 6.1v-12.2z"/><path d="M667.6 2844.2l10.55 6.1v-12.2z"/><path d="M678.7 2880.7l10.55 6.1v-12.2z"/><path d="M689.1 2825.8l10.55 6.1v-12.2z"/><path d="M701.1 2820.1l10.55 6.1v-12.2z"/><path d="M712.4 2870.1l10.55 6.1v-12.2z"/><path d="M723.1 2812.2l10.55 6.1v-12.2z"/><path d="M734.9 2839.3l10.55 6.1v-12.2z"/><path d="M746.1 2854.3l10.55 6.1v-12.2z"/><path d="M756.8 2824.9l10.55 6.1v-12.2z"/><path d="M768.3 2795.7l10.55 6.1v-12.2z"/><path d="M779.3 2835.4l10.55 6.1v-12.2z"/><path d="M791 2821.4l10.55 6.1v-12.2z"/><path d="M802 2813.5l10.55 6.1v-12.2z"/><path d="M812.5 2800.9l10.55 6.1v-12.2z"/><path d="M823.6 2772.8l10.55 6.1v-12.2z"/><path d="M835.2 2787.3l10.55 6.1v-12.2z"/><path d="M846.1 2797.3l10.55 6.1v-12.2z"/><path d="M857.5 2772l10.55 6.1v-12.2z"/><path d="M869.1 2771.5l10.55 6.1v-12.2z"/><path d="M880.1 2766.2l10.55 6.1v-12.2z"/><path d="M891.4 2739.9l10.55 6.1v-12.2z"/><path d="M902.1 2732.6l10.55 6.1v-12.2z"/><path d="M913.7 2717.1l10.55 6.1v-12.2z"/><path d="M924.6 2710.1l10.55 6.1v-12.2z"/><path d="M935.7 2705.1l10.55 6.1v-12.2z"/><path d="M946.8 2701.2l10.55 6.1v-12.2z"/><path d="M958 2704.4l10.55 6.1v-12.2z"/><path d="M969.6 2727l10.55 6.1v-12.2z"/><path d="M980.7 2711.7l10.55 6.1v-12.2z"/><path d="M991.7 2698.6l10.55 6.1v-12.2z"/><path d="M1003 2696.5l10.55 6.1v-12.2z"/><path d="M1014.3 2712.2l10.55 6.1v-12.2z"/><path d="M1025.3 2697.8l10.55 6.1v-12.2z"/><path d="M1036.6 2693.8l10.55 6.1v-12.2z"/><path d="M1047.7 2723.6l10.55 6.1v-12.2z"/><path d="M1059 2693.3l10.55 6.1v-12.2z"/><path d="M1070 2708.3l10.55 6.1v-12.2z"/><path d="M1081.1 2699.9l10.55 6.1v-12.2z"/><path d="M1092.6 2688.6l10.55 6.1v-12.2z"/><path d="M1103.7 2699.9l10.55 6.1v-12.2z"/><path d="M1114.8 2698.6l10.55 6.1v-12.2z"/><path d="M1125.9 2699.9l10.55 6.1v-12.2z"/><path d="M1137.2 2680.2l10.55 6.1v-12.2z"/><path d="M1148.4 2647.3l10.55 6.1v-12.2z"/><path d="M1159.6 2684.1l10.55 6.1v-12.2z"/><path d="M1170.7 2683.5l10.55 6.1v-12.2z"/><path d="M1181.9 2647.4l10.55 6.1v-12.2z"/><path d="M1193 2682l10.55 6.1v-12.2z"/><path d="M1204.3 2689.5l10.55 6.1v-12.2z"/><path d="M1215.3 2683.4l10.55 6.1v-12.2z"/><path d="M1226.6 2642.8l10.55 6.1v-12.2z"/><path d="M1237.8 2653.9l10.55 6.1v-12.2z"/><path d="M1249 2642.3l10.55 6.1v-12.2z"/><path d="M1260.2 2649.5l10.55 6.1v-12.2z"/><path d="M1271.3 2627.9l10.55 6.1v-12.2z"/><path d="M1282.5 2626.3l10.55 6.1v-12.2z"/><path d="M1293.7 2646.5l10.55 6.1v-12.2z"/><path d="M1304.9 2643.7l10.55 6.1v-12.2z"/></g><path d="M141.0 3507.5V2513.0H1405.0" fill="none" stroke="#363636" stroke-width="2" stroke-linejoin="miter"/><path d="M1404.5 2513.0V3507.4" fill="none" stroke="#262626" stroke-width="1"/><path d="M140.0 3506.75H1405.0" fill="none" stroke="#2c2c2c" stroke-width="1.5"/><path d="M351.17 3507.0v-13M351.17 2513.0v13M561.83 3507.0v-13M561.83 2513.0v13M772.50 3507.0v-13M772.50 2513.0v13M983.17 3507.0v-13M983.17 2513.0v13M1193.83 3507.0v-13M1193.83 2513.0v13M141.0 3383.5h13M1405.0 3383.5h-13M141.0 3259.5h13M1405.0 3259.5h-13M141.0 3134.5h13M1405.0 3134.5h-13M141.0 3010.5h13M1405.0 3010.5h-13M141.0 2886.5h13M1405.0 2886.5h-13M141.0 2762.5h13M1405.0 2762.5h-13M141.0 2637.5h13M1405.0 2637.5h-13" fill="none" stroke="#202020" stroke-width="1"/><g font-size="41.7" fill="#262626"><text transform="translate(141.0 3565.3) scale(1 1.055)" text-anchor="middle">2</text><text transform="translate(351.7 3565.3) scale(1 1.055)" text-anchor="middle">3</text><text transform="translate(562.3 3565.3) scale(1 1.055)" text-anchor="middle">4</text><text transform="translate(773.0 3565.3) scale(1 1.055)" text-anchor="middle">5</text><text transform="translate(983.7 3565.3) scale(1 1.055)" text-anchor="middle">6</text><text transform="translate(1194.3 3565.3) scale(1 1.055)" text-anchor="middle">7</text><text transform="translate(1405.0 3565.3) scale(1 1.055)" text-anchor="middle">8</text><text transform="translate(126 3523.9) scale(1 1.055)" text-anchor="end">2</text><text transform="translate(126 3399.7) scale(1 1.055)" text-anchor="end">3</text><text transform="translate(126 3275.4) scale(1 1.055)" text-anchor="end">4</text><text transform="translate(126 3151.2) scale(1 1.055)" text-anchor="end">5</text><text transform="translate(126 3026.9) scale(1 1.055)" text-anchor="end">6</text><text transform="translate(126 2902.7) scale(1 1.055)" text-anchor="end">7</text><text transform="translate(126 2778.4) scale(1 1.055)" text-anchor="end">8</text><text transform="translate(126 2654.2) scale(1 1.055)" text-anchor="end">9</text><text transform="translate(126 2529.9) scale(1 1.055)" text-anchor="end">10</text></g><text transform="translate(773.0 3632.2) scale(1 1.112)" font-size="48.4" fill="#262626" text-anchor="middle">lg(s)</text><text transform="translate(58.9 3009.5) rotate(-90)" font-size="47.9" fill="#262626" text-anchor="middle">lg(Fq)</text><text x="686" y="2496.2" font-size="46.5" fill="#000">(c)</text><text x="757.5" y="2501.2" font-size="48.3" fill="#000">SPW</text><rect x="1022.5" y="2947.5" width="360.0" height="537.0" fill="#fff" stroke="#262626" stroke-width="1.2"/><g font-size="30.05" fill="#000"><g fill="#0000ff" stroke="#0060d8" stroke-width="1.2"><circle cx="1072" cy="2975" r="5.45"/></g><text transform="translate(1119 2991.7) scale(1 1.045)">q=-10, R<tspan font-size="22.6" dy="-14.8">2</tspan><tspan dy="14.8">=0.97596</tspan></text><path fill="none" stroke="#d95319" stroke-width="1.5" d="M1066.5 3023.2h11M1072 3017.7v11"/><text transform="translate(1119 3039.9) scale(1 1.045)">q=-8, R<tspan font-size="22.6" dy="-14.8">2</tspan><tspan dy="14.8">=0.97669</tspan></text><path fill="none" stroke="#edb120" stroke-width="1.4" d="M1066.6 3071.3h10.8M1072 3065.9v10.8M1068.1 3067.4l7.8 7.8M1068.1 3075.2l7.8-7.8"/><text transform="translate(1119 3088.0) scale(1 1.045)">q=-6, R<tspan font-size="22.6" dy="-14.8">2</tspan><tspan dy="14.8">=0.97841</tspan></text><g fill="#7e2f8e"><circle cx="1072" cy="3119.4" r="1.55"/></g><text transform="translate(1119 3136.2) scale(1 1.045)">q=-4, R<tspan font-size="22.6" dy="-14.8">2</tspan><tspan dy="14.8">=0.98234</tspan></text><path fill="none" stroke="#77ac30" stroke-width="1.4" d="M1068.2 3163.8l7.6 7.6M1068.2 3171.4l7.6-7.6"/><text transform="translate(1119 3184.3) scale(1 1.045)">q=-2, R<tspan font-size="22.6" dy="-14.8">2</tspan><tspan dy="14.8">=0.98779</tspan></text><g fill="#ffff00" stroke="#4dbeee" stroke-width="1.3"><path d="M1067.7 3211.4h8.6v8.6h-8.6z"/></g><text transform="translate(1119 3232.5) scale(1 1.045)">q=0, R<tspan font-size="22.6" dy="-14.8">2</tspan><tspan dy="14.8">=0.98845</tspan></text><g fill="#000" stroke="#a2142f" stroke-width="1.3"><path d="M1072 3256.8l5.4 7.1-5.4 7.1-5.4-7.1z"/></g><text transform="translate(1119 3280.6) scale(1 1.045)">q=2, R<tspan font-size="22.6" dy="-14.8">2</tspan><tspan dy="14.8">=0.98626</tspan></text><g fill="#0000ff" stroke="#0072bd" stroke-width="1.3"><path d="M1072 3305.2l6.1 10.55h-12.2z"/></g><text transform="translate(1119 3328.8) scale(1 1.045)">q=4, R<tspan font-size="22.6" dy="-14.8">2</tspan><tspan dy="14.8">=0.98314</tspan></text><g fill="#00ff00" stroke="#d95319" stroke-width="1.3"><path d="M1072 3367.1l6.1-10.55h-12.2z"/></g><text transform="translate(1119 3376.9) scale(1 1.045)">q=6, R<tspan font-size="22.6" dy="-14.8">2</tspan><tspan dy="14.8">=0.97914</tspan></text><g fill="#ff0000" stroke="#edb120" stroke-width="1.3"><path d="M1078.9 3408.3l-10.55 6.1v-12.2z"/></g><text transform="translate(1119 3425.1) scale(1 1.045)">q=8, R<tspan font-size="22.6" dy="-14.8">2</tspan><tspan dy="14.8">=0.97521</tspan></text><g fill="#00ffff" stroke="#7e2f8e" stroke-width="1.3"><path d="M1065.1 3456.5l10.55 6.1v-12.2z"/></g><text transform="translate(1119 3473.2) scale(1 1.045)">q=10, R<tspan font-size="22.6" dy="-14.8">2</tspan><tspan dy="14.8">=0.97196</tspan></text></g></g></svg></body></html>
